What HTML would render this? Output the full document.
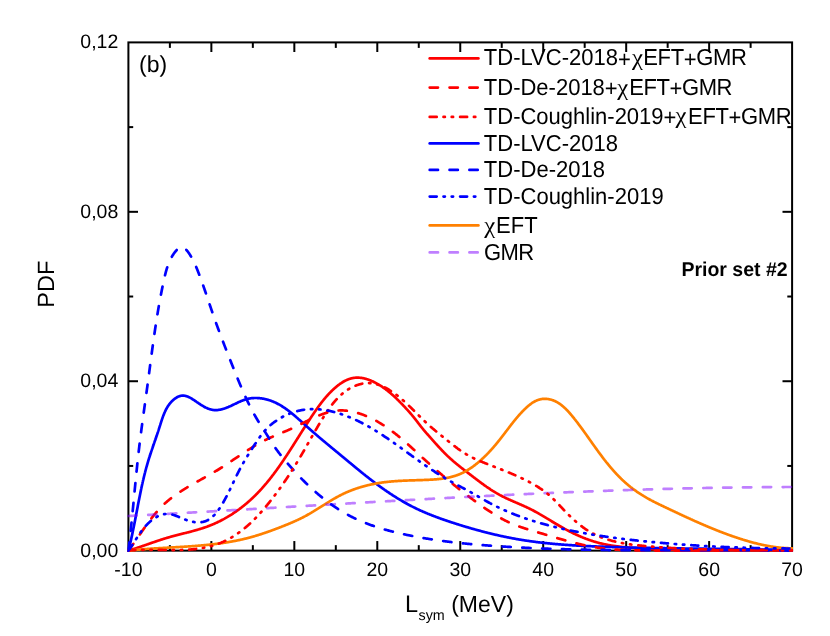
<!DOCTYPE html><html><head><meta charset="utf-8"><title>PDF L_sym</title>
<style>html,body{margin:0;padding:0;background:#fff;}svg{display:block;}text{font-family:"Liberation Sans",sans-serif;fill:#000;text-rendering:geometricPrecision;}.sy{font-family:"Liberation Serif",serif;}</style></head><body>
<svg width="830" height="636" viewBox="0 0 830 636" style="will-change:transform">
<rect width="830" height="636" fill="#fff"/>
<g stroke="#000" stroke-width="2" fill="none" stroke-linecap="butt">
<rect x="128.4" y="42.4" width="663.70" height="508.25"/>
<line x1="169.88" y1="550.65" x2="169.88" y2="545.15"/>
<line x1="169.88" y1="42.4" x2="169.88" y2="47.9"/>
<line x1="211.36" y1="550.65" x2="211.36" y2="541.05"/>
<line x1="211.36" y1="42.4" x2="211.36" y2="52.0"/>
<line x1="252.84" y1="550.65" x2="252.84" y2="545.15"/>
<line x1="252.84" y1="42.4" x2="252.84" y2="47.9"/>
<line x1="294.33" y1="550.65" x2="294.33" y2="541.05"/>
<line x1="294.33" y1="42.4" x2="294.33" y2="52.0"/>
<line x1="335.81" y1="550.65" x2="335.81" y2="545.15"/>
<line x1="335.81" y1="42.4" x2="335.81" y2="47.9"/>
<line x1="377.29" y1="550.65" x2="377.29" y2="541.05"/>
<line x1="377.29" y1="42.4" x2="377.29" y2="52.0"/>
<line x1="418.77" y1="550.65" x2="418.77" y2="545.15"/>
<line x1="418.77" y1="42.4" x2="418.77" y2="47.9"/>
<line x1="460.25" y1="550.65" x2="460.25" y2="541.05"/>
<line x1="460.25" y1="42.4" x2="460.25" y2="52.0"/>
<line x1="501.73" y1="550.65" x2="501.73" y2="545.15"/>
<line x1="501.73" y1="42.4" x2="501.73" y2="47.9"/>
<line x1="543.21" y1="550.65" x2="543.21" y2="541.05"/>
<line x1="543.21" y1="42.4" x2="543.21" y2="52.0"/>
<line x1="584.69" y1="550.65" x2="584.69" y2="545.15"/>
<line x1="584.69" y1="42.4" x2="584.69" y2="47.9"/>
<line x1="626.18" y1="550.65" x2="626.18" y2="541.05"/>
<line x1="626.18" y1="42.4" x2="626.18" y2="52.0"/>
<line x1="667.66" y1="550.65" x2="667.66" y2="545.15"/>
<line x1="667.66" y1="42.4" x2="667.66" y2="47.9"/>
<line x1="709.14" y1="550.65" x2="709.14" y2="541.05"/>
<line x1="709.14" y1="42.4" x2="709.14" y2="52.0"/>
<line x1="750.62" y1="550.65" x2="750.62" y2="545.15"/>
<line x1="750.62" y1="42.4" x2="750.62" y2="47.9"/>
<line x1="128.4" y1="465.94" x2="133.20000000000002" y2="465.94"/>
<line x1="792.1" y1="465.94" x2="787.3000000000001" y2="465.94"/>
<line x1="128.4" y1="381.23" x2="138.0" y2="381.23"/>
<line x1="792.1" y1="381.23" x2="782.5" y2="381.23"/>
<line x1="128.4" y1="296.52" x2="133.20000000000002" y2="296.52"/>
<line x1="792.1" y1="296.52" x2="787.3000000000001" y2="296.52"/>
<line x1="128.4" y1="211.82" x2="138.0" y2="211.82"/>
<line x1="792.1" y1="211.82" x2="782.5" y2="211.82"/>
<line x1="128.4" y1="127.11" x2="133.20000000000002" y2="127.11"/>
<line x1="792.1" y1="127.11" x2="787.3000000000001" y2="127.11"/>
</g>
<clipPath id="pc"><rect x="127.20" y="42.4" width="665.90" height="509.65"/></clipPath>
<g fill="none" stroke-width="2.7" stroke-linejoin="round" stroke-linecap="round" clip-path="url(#pc)">
<path d="M128.40,550.65 L128.88,550.51 L129.35,550.37 L129.83,550.22 L130.31,550.08 L130.78,549.93 L131.26,549.79 L131.73,549.64 L132.21,549.49 L132.68,549.34 L133.15,549.19 L133.63,549.04 L134.10,548.89 L134.57,548.74 L135.04,548.59 L135.52,548.43 L135.99,548.28 L136.46,548.12 L136.93,547.97 L137.40,547.81 L137.87,547.66 L138.34,547.50 L138.81,547.34 L139.27,547.18 L139.74,547.02 L140.21,546.86 L140.68,546.70 L141.15,546.54 L141.61,546.38 L142.08,546.22 L142.55,546.06 L143.02,545.90 L143.48,545.74 L143.95,545.58 L144.42,545.42 L144.88,545.25 L145.35,545.09 L145.81,544.93 L146.28,544.77 L146.75,544.60 L147.21,544.44 L147.68,544.28 L148.14,544.11 L148.61,543.95 L149.07,543.79 L149.54,543.63 L150.01,543.46 L150.47,543.30 L150.94,543.14 L151.40,542.98 L151.87,542.81 L152.33,542.65 L152.80,542.49 L153.27,542.33 L153.73,542.17 L154.20,542.01 L154.67,541.85 L155.13,541.69 L155.60,541.53 L156.07,541.37 L156.53,541.21 L157.00,541.05 L157.47,540.90 L157.93,540.74 L158.40,540.58 L158.87,540.43 L159.34,540.27 L159.81,540.12 L160.27,539.96 L160.74,539.81 L161.21,539.66 L161.68,539.51 L162.15,539.36 L162.62,539.21 L163.09,539.06 L163.56,538.91 L164.04,538.76 L164.51,538.61 L164.98,538.47 L165.45,538.32 L165.92,538.18 L166.40,538.04 L166.87,537.90 L167.35,537.76 L167.82,537.62 L168.30,537.48 L168.77,537.34 L169.25,537.20 L169.72,537.07 L170.20,536.94 L170.68,536.80 L171.16,536.67 L171.63,536.54 L172.11,536.41 L172.59,536.28 L173.07,536.15 L173.55,536.02 L174.03,535.89 L174.51,535.77 L174.99,535.64 L175.47,535.51 L175.95,535.39 L176.43,535.26 L176.91,535.14 L177.39,535.02 L177.87,534.89 L178.36,534.77 L178.84,534.65 L179.32,534.52 L179.80,534.40 L180.28,534.28 L180.77,534.16 L181.25,534.04 L181.73,533.91 L182.21,533.79 L182.70,533.67 L183.18,533.55 L183.66,533.43 L184.14,533.31 L184.63,533.19 L185.11,533.06 L185.59,532.94 L186.07,532.82 L186.56,532.70 L187.04,532.57 L187.52,532.45 L188.00,532.33 L188.49,532.20 L188.97,532.08 L189.45,531.95 L189.93,531.83 L190.41,531.70 L190.89,531.58 L191.37,531.45 L191.85,531.32 L192.33,531.19 L192.81,531.06 L193.29,530.93 L193.77,530.80 L194.25,530.67 L194.73,530.54 L195.21,530.40 L195.69,530.27 L196.17,530.13 L196.64,530.00 L197.12,529.86 L197.60,529.72 L198.07,529.58 L198.55,529.44 L199.02,529.30 L199.50,529.15 L199.97,529.01 L200.45,528.86 L200.92,528.71 L201.39,528.57 L201.87,528.42 L202.34,528.26 L202.81,528.11 L203.28,527.96 L203.75,527.80 L204.22,527.64 L204.69,527.48 L205.16,527.32 L205.62,527.16 L206.09,526.99 L206.56,526.83 L207.02,526.66 L207.49,526.49 L207.95,526.31 L208.41,526.14 L208.88,525.96 L209.34,525.79 L209.80,525.61 L210.26,525.42 L210.72,525.24 L211.18,525.05 L211.63,524.87 L212.09,524.68 L212.55,524.48 L213.00,524.29 L213.46,524.10 L213.91,523.90 L214.36,523.70 L214.82,523.50 L215.27,523.30 L215.72,523.09 L216.17,522.89 L216.62,522.68 L217.06,522.47 L217.51,522.26 L217.96,522.04 L218.40,521.83 L218.85,521.61 L219.29,521.39 L219.74,521.17 L220.18,520.95 L220.62,520.72 L221.06,520.50 L221.50,520.27 L221.94,520.04 L222.38,519.81 L222.81,519.58 L223.25,519.34 L223.68,519.10 L224.12,518.87 L224.55,518.63 L224.98,518.39 L225.42,518.14 L225.85,517.90 L226.28,517.65 L226.70,517.40 L227.13,517.16 L227.56,516.90 L227.99,516.65 L228.41,516.40 L228.83,516.14 L229.26,515.88 L229.68,515.62 L230.10,515.36 L230.52,515.10 L230.94,514.84 L231.36,514.57 L231.78,514.31 L232.19,514.04 L232.61,513.77 L233.02,513.50 L233.44,513.22 L233.85,512.95 L234.26,512.67 L234.67,512.40 L235.08,512.12 L235.49,511.84 L235.89,511.55 L236.30,511.27 L236.71,510.99 L237.11,510.70 L237.51,510.41 L237.92,510.12 L238.32,509.83 L238.72,509.54 L239.12,509.25 L239.51,508.95 L239.91,508.66 L240.31,508.36 L240.70,508.06 L241.09,507.76 L241.49,507.46 L241.88,507.16 L242.27,506.85 L242.66,506.55 L243.05,506.24 L243.43,505.93 L243.82,505.62 L244.20,505.31 L244.59,505.00 L244.97,504.69 L245.35,504.37 L245.73,504.06 L246.11,503.74 L246.49,503.42 L246.87,503.10 L247.24,502.78 L247.62,502.46 L247.99,502.14 L248.36,501.81 L248.73,501.49 L249.10,501.16 L249.47,500.83 L249.84,500.51 L250.21,500.18 L250.57,499.84 L250.94,499.51 L251.30,499.18 L251.66,498.84 L252.02,498.51 L252.38,498.17 L252.74,497.83 L253.10,497.49 L253.45,497.15 L253.81,496.81 L254.16,496.47 L254.51,496.13 L254.86,495.78 L255.21,495.44 L255.56,495.09 L255.91,494.74 L256.26,494.39 L256.60,494.04 L256.95,493.69 L257.29,493.34 L257.63,492.99 L257.97,492.63 L258.31,492.28 L258.65,491.92 L258.99,491.57 L259.33,491.21 L259.66,490.85 L260.00,490.49 L260.33,490.13 L260.66,489.77 L261.00,489.41 L261.33,489.04 L261.66,488.68 L261.98,488.31 L262.31,487.95 L262.64,487.58 L262.96,487.21 L263.29,486.84 L263.61,486.47 L263.94,486.10 L264.26,485.73 L264.58,485.36 L264.90,484.99 L265.22,484.61 L265.54,484.24 L265.86,483.86 L266.17,483.48 L266.49,483.11 L266.80,482.73 L267.12,482.35 L267.43,481.97 L267.74,481.59 L268.05,481.21 L268.36,480.83 L268.67,480.45 L268.98,480.06 L269.29,479.68 L269.60,479.29 L269.91,478.91 L270.21,478.52 L270.52,478.13 L270.82,477.75 L271.12,477.36 L271.43,476.97 L271.73,476.58 L272.03,476.19 L272.33,475.80 L272.63,475.41 L272.93,475.01 L273.23,474.62 L273.53,474.23 L273.82,473.83 L274.12,473.44 L274.41,473.04 L274.71,472.64 L275.00,472.25 L275.30,471.85 L275.59,471.45 L275.88,471.05 L276.17,470.65 L276.47,470.26 L276.76,469.85 L277.05,469.45 L277.33,469.05 L277.62,468.65 L277.91,468.25 L278.20,467.85 L278.49,467.44 L278.77,467.04 L279.06,466.63 L279.34,466.23 L279.63,465.82 L279.91,465.42 L280.20,465.01 L280.48,464.60 L280.76,464.20 L281.04,463.79 L281.32,463.38 L281.61,462.97 L281.89,462.56 L282.17,462.15 L282.45,461.74 L282.73,461.33 L283.00,460.92 L283.28,460.51 L283.56,460.10 L283.84,459.69 L284.11,459.27 L284.39,458.86 L284.67,458.45 L284.94,458.04 L285.22,457.62 L285.49,457.21 L285.77,456.79 L286.04,456.38 L286.32,455.96 L286.59,455.55 L286.86,455.13 L287.14,454.72 L287.41,454.30 L287.68,453.88 L287.95,453.47 L288.22,453.05 L288.50,452.63 L288.77,452.22 L289.04,451.80 L289.31,451.38 L289.58,450.96 L289.85,450.54 L290.12,450.13 L290.39,449.71 L290.66,449.29 L290.93,448.87 L291.19,448.45 L291.46,448.03 L291.73,447.61 L292.00,447.19 L292.27,446.77 L292.53,446.35 L292.80,445.93 L293.07,445.51 L293.34,445.09 L293.60,444.67 L293.87,444.25 L294.14,443.83 L294.40,443.41 L294.67,442.98 L294.94,442.56 L295.20,442.14 L295.47,441.72 L295.74,441.30 L296.00,440.88 L296.27,440.46 L296.53,440.04 L296.80,439.61 L297.07,439.19 L297.33,438.77 L297.60,438.35 L297.86,437.93 L298.13,437.51 L298.39,437.09 L298.66,436.66 L298.92,436.24 L299.19,435.82 L299.46,435.40 L299.72,434.98 L299.99,434.56 L300.25,434.14 L300.52,433.72 L300.78,433.30 L301.05,432.87 L301.32,432.45 L301.58,432.03 L301.85,431.61 L302.11,431.19 L302.38,430.77 L302.65,430.35 L302.91,429.93 L303.18,429.51 L303.45,429.09 L303.71,428.67 L303.98,428.25 L304.25,427.83 L304.52,427.42 L304.78,427.00 L305.05,426.58 L305.32,426.16 L305.59,425.74 L305.86,425.32 L306.12,424.91 L306.39,424.49 L306.66,424.07 L306.93,423.65 L307.20,423.24 L307.47,422.82 L307.74,422.40 L308.01,421.99 L308.28,421.57 L308.55,421.16 L308.82,420.74 L309.09,420.33 L309.36,419.91 L309.64,419.50 L309.91,419.09 L310.18,418.67 L310.45,418.26 L310.73,417.85 L311.00,417.43 L311.27,417.02 L311.55,416.61 L311.82,416.20 L312.10,415.79 L312.37,415.38 L312.65,414.97 L312.93,414.56 L313.20,414.15 L313.48,413.74 L313.76,413.33 L314.03,412.92 L314.31,412.52 L314.59,412.11 L314.87,411.70 L315.15,411.30 L315.43,410.89 L315.71,410.49 L315.99,410.08 L316.28,409.68 L316.56,409.28 L316.84,408.87 L317.13,408.47 L317.41,408.07 L317.70,407.67 L317.99,407.27 L318.27,406.87 L318.56,406.48 L318.85,406.08 L319.14,405.68 L319.43,405.29 L319.73,404.89 L320.02,404.50 L320.32,404.10 L320.61,403.71 L320.91,403.32 L321.21,402.93 L321.51,402.54 L321.81,402.15 L322.11,401.77 L322.42,401.38 L322.72,401.00 L323.03,400.61 L323.34,400.23 L323.64,399.85 L323.96,399.47 L324.27,399.09 L324.58,398.71 L324.90,398.33 L325.22,397.96 L325.53,397.58 L325.85,397.21 L326.18,396.83 L326.50,396.46 L326.83,396.09 L327.15,395.73 L327.48,395.36 L327.81,394.99 L328.15,394.63 L328.48,394.27 L328.82,393.91 L329.16,393.55 L329.50,393.19 L329.84,392.83 L330.19,392.48 L330.54,392.12 L330.88,391.77 L331.24,391.42 L331.59,391.07 L331.95,390.72 L332.30,390.38 L332.66,390.03 L333.03,389.69 L333.39,389.35 L333.76,389.01 L334.13,388.67 L334.50,388.34 L334.88,388.01 L335.26,387.67 L335.64,387.35 L336.02,387.02 L336.40,386.69 L336.79,386.37 L337.18,386.06 L337.57,385.74 L337.97,385.43 L338.36,385.12 L338.76,384.82 L339.16,384.52 L339.57,384.22 L339.97,383.93 L340.38,383.64 L340.79,383.35 L341.21,383.08 L341.62,382.80 L342.04,382.53 L342.46,382.27 L342.89,382.01 L343.31,381.76 L343.74,381.51 L344.17,381.27 L344.60,381.04 L345.04,380.81 L345.47,380.59 L345.91,380.37 L346.35,380.16 L346.80,379.96 L347.24,379.77 L347.69,379.58 L348.14,379.40 L348.59,379.23 L349.05,379.07 L349.51,378.91 L349.97,378.76 L350.43,378.62 L350.89,378.49 L351.36,378.37 L351.83,378.26 L352.30,378.15 L352.77,378.06 L353.25,377.98 L353.72,377.90 L354.20,377.83 L354.68,377.78 L355.17,377.73 L355.65,377.70 L356.14,377.67 L356.63,377.65 L357.12,377.64 L357.61,377.64 L358.10,377.65 L358.59,377.67 L359.08,377.70 L359.58,377.73 L360.07,377.77 L360.57,377.83 L361.06,377.89 L361.55,377.95 L362.05,378.03 L362.54,378.11 L363.03,378.20 L363.52,378.30 L364.01,378.40 L364.50,378.52 L364.99,378.64 L365.47,378.76 L365.96,378.89 L366.44,379.03 L366.92,379.18 L367.40,379.33 L367.87,379.49 L368.35,379.65 L368.82,379.82 L369.29,380.00 L369.76,380.18 L370.22,380.36 L370.69,380.55 L371.15,380.74 L371.61,380.94 L372.07,381.15 L372.52,381.35 L372.98,381.56 L373.43,381.78 L373.88,382.00 L374.33,382.22 L374.77,382.44 L375.22,382.67 L375.66,382.90 L376.10,383.13 L376.53,383.37 L376.97,383.61 L377.40,383.85 L377.83,384.10 L378.26,384.35 L378.69,384.60 L379.11,384.85 L379.54,385.11 L379.96,385.37 L380.38,385.63 L380.79,385.90 L381.21,386.17 L381.62,386.44 L382.04,386.71 L382.45,386.99 L382.85,387.27 L383.26,387.55 L383.67,387.83 L384.07,388.12 L384.47,388.40 L384.87,388.69 L385.27,388.99 L385.67,389.28 L386.06,389.58 L386.45,389.88 L386.85,390.18 L387.24,390.48 L387.62,390.79 L388.01,391.10 L388.40,391.41 L388.78,391.72 L389.16,392.03 L389.55,392.35 L389.93,392.66 L390.30,392.98 L390.68,393.30 L391.06,393.63 L391.43,393.95 L391.80,394.28 L392.18,394.60 L392.55,394.93 L392.92,395.26 L393.28,395.59 L393.65,395.93 L394.02,396.26 L394.38,396.60 L394.75,396.94 L395.11,397.28 L395.47,397.62 L395.83,397.96 L396.19,398.30 L396.55,398.64 L396.90,398.99 L397.26,399.33 L397.61,399.68 L397.97,400.03 L398.32,400.38 L398.67,400.73 L399.02,401.08 L399.37,401.43 L399.72,401.79 L400.07,402.14 L400.42,402.49 L400.76,402.85 L401.11,403.20 L401.46,403.56 L401.80,403.92 L402.14,404.27 L402.49,404.63 L402.83,404.99 L403.17,405.35 L403.51,405.71 L403.85,406.07 L404.19,406.43 L404.53,406.79 L404.87,407.15 L405.21,407.51 L405.54,407.88 L405.88,408.24 L406.21,408.60 L406.55,408.96 L406.88,409.33 L407.22,409.69 L407.55,410.06 L407.88,410.42 L408.21,410.79 L408.54,411.16 L408.87,411.52 L409.19,411.89 L409.52,412.26 L409.84,412.63 L410.17,413.00 L410.49,413.38 L410.81,413.75 L411.13,414.12 L411.45,414.50 L411.77,414.87 L412.09,415.25 L412.40,415.63 L412.72,416.01 L413.03,416.39 L413.34,416.77 L413.65,417.15 L413.96,417.53 L414.26,417.92 L414.57,418.30 L414.87,418.69 L415.18,419.08 L415.48,419.46 L415.78,419.85 L416.08,420.24 L416.38,420.63 L416.68,421.02 L416.98,421.41 L417.28,421.80 L417.58,422.19 L417.88,422.58 L418.18,422.97 L418.48,423.36 L418.78,423.75 L419.08,424.14 L419.38,424.53 L419.68,424.92 L419.98,425.31 L420.29,425.70 L420.59,426.08 L420.89,426.47 L421.20,426.86 L421.51,427.24 L421.82,427.62 L422.13,428.00 L422.44,428.38 L422.75,428.76 L423.06,429.14 L423.38,429.52 L423.69,429.90 L424.01,430.27 L424.33,430.65 L424.65,431.03 L424.97,431.40 L425.29,431.77 L425.61,432.15 L425.93,432.52 L426.26,432.89 L426.58,433.26 L426.90,433.64 L427.23,434.01 L427.55,434.38 L427.88,434.75 L428.21,435.12 L428.53,435.49 L428.86,435.86 L429.19,436.23 L429.51,436.60 L429.84,436.97 L430.17,437.35 L430.50,437.72 L430.83,438.09 L431.15,438.46 L431.48,438.83 L431.81,439.20 L432.14,439.58 L432.47,439.95 L432.80,440.32 L433.13,440.69 L433.46,441.06 L433.79,441.43 L434.12,441.80 L434.45,442.17 L434.78,442.55 L435.11,442.92 L435.45,443.29 L435.78,443.66 L436.11,444.03 L436.45,444.39 L436.78,444.76 L437.12,445.13 L437.45,445.50 L437.79,445.87 L438.12,446.23 L438.46,446.60 L438.80,446.97 L439.13,447.33 L439.47,447.70 L439.81,448.06 L440.15,448.43 L440.49,448.79 L440.83,449.15 L441.17,449.51 L441.52,449.87 L441.86,450.23 L442.20,450.59 L442.55,450.95 L442.89,451.31 L443.24,451.66 L443.58,452.02 L443.93,452.37 L444.28,452.73 L444.63,453.08 L444.98,453.43 L445.33,453.78 L445.68,454.13 L446.03,454.48 L446.39,454.82 L446.74,455.17 L447.10,455.51 L447.45,455.86 L447.81,456.20 L448.17,456.54 L448.53,456.88 L448.89,457.22 L449.25,457.55 L449.61,457.89 L449.97,458.22 L450.34,458.56 L450.70,458.89 L451.07,459.22 L451.44,459.54 L451.80,459.87 L452.17,460.20 L452.54,460.52 L452.91,460.84 L453.29,461.17 L453.66,461.49 L454.03,461.81 L454.41,462.12 L454.78,462.44 L455.16,462.76 L455.54,463.07 L455.91,463.39 L456.29,463.70 L456.67,464.01 L457.05,464.33 L457.43,464.64 L457.82,464.95 L458.20,465.26 L458.58,465.56 L458.96,465.87 L459.35,466.18 L459.73,466.48 L460.12,466.79 L460.50,467.10 L460.89,467.40 L461.27,467.70 L461.66,468.01 L462.05,468.31 L462.44,468.61 L462.83,468.92 L463.21,469.22 L463.60,469.52 L463.99,469.82 L464.38,470.12 L464.77,470.42 L465.16,470.72 L465.55,471.02 L465.95,471.32 L466.34,471.62 L466.73,471.92 L467.12,472.22 L467.51,472.52 L467.90,472.82 L468.30,473.12 L468.69,473.42 L469.08,473.72 L469.47,474.02 L469.86,474.32 L470.26,474.63 L470.65,474.93 L471.04,475.23 L471.43,475.53 L471.83,475.83 L472.22,476.13 L472.61,476.43 L473.01,476.73 L473.40,477.03 L473.79,477.34 L474.19,477.64 L474.58,477.94 L474.98,478.24 L475.37,478.54 L475.76,478.84 L476.16,479.14 L476.55,479.44 L476.95,479.74 L477.35,480.04 L477.74,480.34 L478.14,480.64 L478.53,480.93 L478.93,481.23 L479.33,481.53 L479.73,481.82 L480.13,482.12 L480.52,482.42 L480.92,482.71 L481.32,483.00 L481.72,483.30 L482.12,483.59 L482.52,483.88 L482.93,484.17 L483.33,484.46 L483.73,484.75 L484.13,485.04 L484.54,485.33 L484.94,485.62 L485.35,485.90 L485.75,486.19 L486.16,486.47 L486.56,486.76 L486.97,487.04 L487.38,487.32 L487.79,487.60 L488.20,487.88 L488.61,488.16 L489.02,488.43 L489.43,488.71 L489.84,488.98 L490.26,489.25 L490.67,489.53 L491.09,489.80 L491.50,490.06 L491.92,490.33 L492.33,490.60 L492.75,490.86 L493.17,491.12 L493.59,491.38 L494.01,491.64 L494.43,491.90 L494.86,492.16 L495.28,492.41 L495.70,492.67 L496.13,492.92 L496.56,493.17 L496.98,493.42 L497.41,493.66 L497.84,493.91 L498.27,494.15 L498.70,494.39 L499.14,494.63 L499.57,494.86 L500.00,495.10 L500.44,495.33 L500.88,495.56 L501.31,495.79 L501.75,496.02 L502.19,496.24 L502.63,496.47 L503.08,496.69 L503.52,496.91 L503.96,497.13 L504.41,497.34 L504.85,497.56 L505.30,497.77 L505.75,497.99 L506.19,498.20 L506.64,498.41 L507.09,498.62 L507.54,498.82 L507.99,499.03 L508.44,499.24 L508.89,499.44 L509.34,499.65 L509.80,499.85 L510.25,500.05 L510.70,500.25 L511.15,500.45 L511.61,500.65 L512.06,500.85 L512.52,501.05 L512.97,501.25 L513.43,501.45 L513.88,501.64 L514.34,501.84 L514.79,502.04 L515.25,502.24 L515.70,502.43 L516.16,502.63 L516.62,502.82 L517.07,503.02 L517.53,503.22 L517.98,503.41 L518.44,503.61 L518.89,503.81 L519.35,504.00 L519.80,504.20 L520.26,504.40 L520.71,504.60 L521.17,504.80 L521.62,505.00 L522.08,505.20 L522.53,505.40 L522.98,505.60 L523.44,505.80 L523.89,506.00 L524.34,506.21 L524.79,506.41 L525.24,506.61 L525.69,506.82 L526.14,507.03 L526.59,507.24 L527.04,507.45 L527.49,507.66 L527.93,507.87 L528.38,508.08 L528.82,508.30 L529.27,508.51 L529.71,508.73 L530.15,508.95 L530.60,509.17 L531.04,509.40 L531.48,509.62 L531.92,509.84 L532.36,510.07 L532.79,510.30 L533.23,510.53 L533.67,510.76 L534.10,510.99 L534.54,511.23 L534.97,511.46 L535.40,511.70 L535.84,511.94 L536.27,512.17 L536.70,512.41 L537.13,512.65 L537.56,512.90 L537.99,513.14 L538.42,513.38 L538.85,513.63 L539.28,513.87 L539.70,514.12 L540.13,514.36 L540.56,514.61 L540.99,514.86 L541.41,515.11 L541.84,515.36 L542.26,515.61 L542.69,515.86 L543.11,516.11 L543.54,516.37 L543.96,516.62 L544.39,516.87 L544.81,517.13 L545.23,517.38 L545.66,517.64 L546.08,517.89 L546.50,518.15 L546.93,518.40 L547.35,518.66 L547.77,518.91 L548.19,519.17 L548.62,519.43 L549.04,519.68 L549.46,519.94 L549.89,520.20 L550.31,520.45 L550.73,520.71 L551.15,520.96 L551.58,521.22 L552.00,521.48 L552.42,521.73 L552.85,521.99 L553.27,522.24 L553.70,522.50 L554.12,522.75 L554.54,523.01 L554.97,523.26 L555.39,523.52 L555.82,523.77 L556.24,524.02 L556.67,524.27 L557.10,524.53 L557.52,524.78 L557.95,525.03 L558.38,525.28 L558.81,525.53 L559.23,525.78 L559.66,526.02 L560.09,526.27 L560.52,526.52 L560.95,526.76 L561.39,527.01 L561.82,527.25 L562.25,527.49 L562.68,527.73 L563.12,527.97 L563.55,528.21 L563.98,528.45 L564.42,528.69 L564.85,528.93 L565.29,529.16 L565.73,529.40 L566.16,529.63 L566.60,529.87 L567.04,530.10 L567.48,530.33 L567.92,530.56 L568.36,530.79 L568.80,531.02 L569.24,531.24 L569.68,531.47 L570.12,531.69 L570.56,531.92 L571.00,532.14 L571.45,532.36 L571.89,532.58 L572.34,532.80 L572.78,533.02 L573.23,533.23 L573.67,533.45 L574.12,533.66 L574.57,533.87 L575.02,534.08 L575.46,534.29 L575.91,534.50 L576.36,534.71 L576.81,534.92 L577.26,535.12 L577.71,535.32 L578.16,535.52 L578.62,535.72 L579.07,535.92 L579.52,536.12 L579.98,536.32 L580.43,536.51 L580.89,536.71 L581.34,536.90 L581.80,537.09 L582.25,537.28 L582.71,537.46 L583.17,537.65 L583.63,537.83 L584.08,538.02 L584.54,538.20 L585.00,538.38 L585.46,538.55 L585.92,538.73 L586.39,538.90 L586.85,539.08 L587.31,539.25 L587.77,539.42 L588.24,539.59 L588.70,539.75 L589.17,539.92 L589.63,540.08 L590.10,540.24 L590.56,540.40 L591.03,540.56 L591.50,540.71 L591.97,540.87 L592.43,541.02 L592.90,541.17 L593.37,541.32 L593.84,541.46 L594.31,541.61 L594.79,541.75 L595.26,541.89 L595.73,542.03 L596.20,542.17 L596.68,542.30 L597.15,542.44 L597.63,542.57 L598.10,542.70 L598.58,542.83 L599.05,542.95 L599.53,543.07 L600.01,543.20 L600.49,543.31 L600.97,543.43 L601.44,543.55 L601.92,543.66 L602.40,543.77 L602.89,543.88 L603.37,543.99 L603.85,544.09 L604.33,544.20 L604.81,544.30 L605.30,544.40 L605.78,544.50 L606.27,544.60 L606.75,544.69 L607.23,544.78 L607.72,544.88 L608.21,544.97 L608.69,545.05 L609.18,545.14 L609.67,545.23 L610.15,545.31 L610.64,545.39 L611.13,545.47 L611.62,545.55 L612.11,545.63 L612.60,545.71 L613.09,545.78 L613.58,545.86 L614.07,545.93 L614.56,546.00 L615.05,546.07 L615.54,546.14 L616.03,546.21 L616.52,546.27 L617.01,546.34 L617.50,546.40 L618.00,546.46 L618.49,546.53 L618.98,546.59 L619.47,546.65 L619.97,546.71 L620.46,546.76 L620.95,546.82 L621.45,546.88 L621.94,546.93 L622.43,546.99 L622.93,547.04 L623.42,547.09 L623.92,547.14 L624.41,547.19 L624.91,547.24 L625.40,547.29 L625.89,547.34 L626.39,547.39 L626.88,547.44 L627.38,547.48 L627.87,547.53 L628.37,547.57 L628.86,547.62 L629.36,547.66 L629.85,547.71 L630.35,547.75 L630.84,547.79 L631.34,547.84 L631.83,547.88 L632.33,547.92 L632.82,547.96 L633.32,548.00 L633.81,548.04 L634.31,548.08 L634.80,548.12 L635.30,548.16 L635.79,548.20 L636.28,548.24 L636.78,548.28 L637.27,548.31 L637.77,548.35 L638.26,548.39 L638.76,548.42 L639.25,548.46 L639.75,548.49 L640.24,548.53 L640.74,548.56 L641.23,548.60 L641.73,548.63 L642.22,548.66 L642.71,548.70 L643.21,548.73 L643.70,548.76 L644.20,548.79 L644.69,548.82 L645.19,548.85 L645.68,548.88 L646.18,548.91 L646.67,548.94 L647.17,548.97 L647.66,549.00 L648.15,549.03 L648.65,549.06 L649.14,549.09 L649.64,549.11 L650.13,549.14 L650.63,549.17 L651.12,549.19 L651.62,549.22 L652.11,549.24 L652.60,549.27 L653.10,549.29 L653.59,549.32 L654.09,549.34 L654.58,549.37 L655.08,549.39 L655.57,549.41 L656.07,549.44 L656.56,549.46 L657.05,549.48 L657.55,549.50 L658.04,549.52 L658.54,549.54 L659.03,549.56 L659.53,549.59 L660.02,549.61 L660.51,549.62 L661.01,549.64 L661.50,549.66 L662.00,549.68 L662.49,549.70 L662.99,549.72 L663.48,549.74 L663.98,549.75 L664.47,549.77 L664.96,549.79 L665.46,549.80 L665.95,549.82 L666.45,549.84 L666.94,549.85 L667.43,549.87 L667.93,549.88 L668.42,549.90 L668.92,549.91 L669.41,549.93 L669.91,549.94 L670.40,549.95 L670.89,549.97 L671.39,549.98 L671.88,549.99 L672.38,550.01 L672.87,550.02 L673.37,550.03 L673.86,550.04 L674.35,550.05 L674.85,550.06 L675.34,550.08 L675.84,550.09 L676.33,550.10 L676.83,550.11 L677.32,550.12 L677.81,550.13 L678.31,550.14 L678.80,550.15 L679.30,550.16 L679.79,550.16 L680.28,550.17 L680.78,550.18 L681.27,550.19 L681.77,550.20 L682.26,550.20 L682.76,550.21 L683.25,550.22 L683.74,550.23 L684.24,550.23 L684.73,550.24 L685.23,550.25 L685.72,550.25 L686.22,550.26 L686.71,550.26 L687.20,550.27 L687.70,550.27 L688.19,550.28 L688.69,550.28 L689.18,550.29 L689.67,550.29 L690.17,550.30 L690.66,550.30 L691.16,550.31 L691.65,550.31 L692.15,550.31 L692.64,550.32 L693.13,550.32 L693.63,550.32 L694.12,550.33 L694.62,550.33 L695.11,550.33 L695.60,550.33 L696.10,550.34 L696.59,550.34 L697.09,550.34 L697.58,550.34 L698.08,550.34 L698.57,550.34 L699.06,550.35 L699.56,550.35 L700.05,550.35 L700.55,550.35 L701.04,550.35 L701.53,550.35 L702.03,550.35 L702.52,550.35 L703.02,550.35 L703.51,550.35 L704.01,550.35 L704.50,550.35 L704.99,550.35 L705.49,550.35 L705.98,550.35 L706.48,550.35 L706.97,550.35 L707.47,550.35 L707.96,550.34 L708.45,550.34 L708.95,550.34 L709.44,550.34 L709.94,550.34 L710.43,550.34 L710.93,550.34 L711.42,550.33 L711.91,550.33 L712.41,550.33 L712.90,550.33 L713.40,550.33 L713.89,550.32 L714.39,550.32 L714.88,550.32 L715.37,550.32 L715.87,550.31 L716.36,550.31 L716.86,550.31 L717.35,550.31 L717.85,550.30 L718.34,550.30 L718.83,550.30 L719.33,550.29 L719.82,550.29 L720.32,550.29 L720.81,550.28 L721.31,550.28 L721.80,550.28 L722.29,550.28 L722.79,550.27 L723.28,550.27 L723.78,550.26 L724.27,550.26 L724.77,550.26 L725.26,550.25 L725.76,550.25 L726.25,550.25 L726.74,550.24 L727.24,550.24 L727.73,550.24 L728.23,550.23 L728.72,550.23 L729.22,550.23 L729.71,550.22 L730.21,550.22 L730.70,550.21 L731.19,550.21 L731.69,550.21 L732.18,550.20 L732.68,550.20 L733.17,550.19 L733.67,550.19 L734.16,550.19 L734.66,550.18 L735.15,550.18 L735.64,550.18 L736.14,550.17 L736.63,550.17 L737.13,550.16 L737.62,550.16 L738.12,550.16 L738.61,550.15 L739.11,550.15 L739.60,550.15 L740.10,550.14 L740.59,550.14 L741.09,550.14 L741.58,550.13 L742.08,550.13 L742.57,550.13 L743.06,550.12 L743.56,550.12 L744.05,550.12 L744.55,550.11 L745.04,550.11 L745.54,550.11 L746.03,550.10 L746.53,550.10 L747.02,550.10 L747.52,550.10 L748.01,550.09 L748.51,550.09 L749.00,550.09 L749.50,550.09 L749.99,550.08 L750.49,550.08 L750.98,550.08 L751.48,550.08 L751.97,550.07 L752.47,550.07 L752.96,550.07 L753.46,550.07 L753.95,550.07 L754.45,550.07 L754.94,550.06 L755.43,550.06 L755.93,550.06 L756.42,550.06 L756.92,550.06 L757.41,550.06 L757.91,550.06 L758.40,550.06 L758.90,550.06 L759.40,550.06 L759.89,550.06 L760.39,550.06 L760.88,550.06 L761.38,550.06 L761.87,550.06 L762.37,550.06 L762.86,550.06 L763.36,550.06 L763.85,550.06 L764.35,550.06 L764.84,550.06 L765.34,550.06 L765.83,550.06 L766.33,550.06 L766.82,550.06 L767.32,550.07 L767.81,550.07 L768.31,550.07 L768.80,550.07 L769.30,550.07 L769.79,550.08 L770.29,550.08 L770.78,550.08 L771.28,550.09 L771.78,550.09 L772.27,550.09 L772.77,550.10 L773.26,550.10 L773.76,550.10 L774.25,550.11 L774.75,550.11 L775.24,550.12 L775.74,550.12 L776.23,550.13 L776.73,550.13 L777.23,550.14 L777.72,550.14 L778.22,550.15 L778.71,550.15 L779.21,550.16 L779.70,550.17 L780.20,550.17 L780.70,550.18 L781.19,550.19 L781.69,550.19 L782.18,550.20 L782.68,550.21 L783.17,550.22 L783.67,550.23 L784.17,550.23 L784.66,550.24 L785.16,550.25 L785.65,550.26 L786.15,550.27 L786.64,550.28 L787.14,550.29 L787.64,550.30 L788.13,550.31 L788.63,550.32 L789.12,550.33 L789.62,550.34 L790.12,550.35 L790.61,550.36 L791.11,550.38 L791.60,550.39 L792.10,550.40" stroke="#FF0000" />
<path d="M128.40,550.65 L128.53,550.15 L128.65,549.66 L128.78,549.16 L128.90,548.66 L129.03,548.17 L129.15,547.67 L129.28,547.17 L129.40,546.67 L129.52,546.18 L129.64,545.68 L129.76,545.18 L129.88,544.68 L130.00,544.18 L130.12,543.68 L130.23,543.18 L130.35,542.68 L130.47,542.18 L130.58,541.68 L130.70,541.17 L130.81,540.67 L130.93,540.17 L131.04,539.67 L131.15,539.17 L131.27,538.66 L131.38,538.16 L131.49,537.66 L131.60,537.15 L131.71,536.65 L131.82,536.14 L131.93,535.64 L132.04,535.14 L132.15,534.63 L132.25,534.13 L132.36,533.62 L132.47,533.11 L132.57,532.61 L132.68,532.10 L132.79,531.60 L132.89,531.09 L133.00,530.58 L133.10,530.08 L133.20,529.57 L133.31,529.06 L133.41,528.56 L133.51,528.05 L133.62,527.54 L133.72,527.03 L133.82,526.53 L133.92,526.02 L134.03,525.51 L134.13,525.00 L134.23,524.49 L134.33,523.98 L134.43,523.48 L134.53,522.97 L134.63,522.46 L134.73,521.95 L134.83,521.44 L134.93,520.93 L135.03,520.42 L135.13,519.91 L135.23,519.40 L135.32,518.89 L135.42,518.38 L135.52,517.87 L135.62,517.36 L135.72,516.85 L135.82,516.34 L135.91,515.83 L136.01,515.32 L136.11,514.81 L136.21,514.30 L136.30,513.79 L136.40,513.28 L136.50,512.77 L136.60,512.26 L136.70,511.75 L136.79,511.24 L136.89,510.73 L136.99,510.22 L137.09,509.71 L137.18,509.20 L137.28,508.69 L137.38,508.18 L137.48,507.67 L137.57,507.16 L137.67,506.65 L137.77,506.14 L137.87,505.62 L137.97,505.11 L138.07,504.60 L138.16,504.09 L138.26,503.58 L138.36,503.07 L138.46,502.56 L138.56,502.05 L138.66,501.54 L138.76,501.03 L138.86,500.52 L138.96,500.01 L139.06,499.50 L139.16,498.99 L139.26,498.48 L139.36,497.98 L139.46,497.47 L139.57,496.96 L139.67,496.45 L139.77,495.94 L139.87,495.43 L139.97,494.92 L140.08,494.41 L140.18,493.90 L140.28,493.40 L140.39,492.89 L140.49,492.38 L140.60,491.87 L140.70,491.36 L140.81,490.86 L140.92,490.35 L141.02,489.84 L141.13,489.33 L141.24,488.83 L141.34,488.32 L141.45,487.81 L141.56,487.31 L141.67,486.80 L141.78,486.30 L141.89,485.79 L142.00,485.28 L142.11,484.78 L142.22,484.27 L142.34,483.77 L142.45,483.26 L142.56,482.76 L142.68,482.25 L142.79,481.75 L142.91,481.25 L143.02,480.74 L143.14,480.24 L143.26,479.74 L143.37,479.23 L143.49,478.73 L143.61,478.23 L143.73,477.73 L143.85,477.23 L143.97,476.73 L144.09,476.22 L144.22,475.72 L144.34,475.22 L144.46,474.72 L144.59,474.22 L144.71,473.72 L144.84,473.22 L144.97,472.73 L145.09,472.23 L145.22,471.73 L145.35,471.23 L145.48,470.73 L145.61,470.24 L145.74,469.74 L145.88,469.24 L146.01,468.75 L146.14,468.25 L146.28,467.75 L146.41,467.26 L146.55,466.76 L146.69,466.27 L146.83,465.78 L146.97,465.28 L147.11,464.79 L147.25,464.30 L147.39,463.80 L147.53,463.31 L147.68,462.82 L147.82,462.33 L147.97,461.84 L148.12,461.35 L148.26,460.86 L148.41,460.37 L148.56,459.88 L148.71,459.39 L148.87,458.90 L149.02,458.41 L149.17,457.93 L149.33,457.44 L149.48,456.95 L149.64,456.47 L149.79,455.98 L149.95,455.49 L150.11,455.01 L150.27,454.52 L150.43,454.03 L150.59,453.55 L150.75,453.06 L150.91,452.58 L151.07,452.09 L151.23,451.61 L151.39,451.12 L151.56,450.64 L151.72,450.15 L151.89,449.67 L152.05,449.18 L152.22,448.70 L152.38,448.21 L152.55,447.73 L152.71,447.24 L152.88,446.76 L153.05,446.27 L153.21,445.79 L153.38,445.30 L153.55,444.82 L153.71,444.33 L153.88,443.85 L154.05,443.36 L154.22,442.87 L154.39,442.39 L154.55,441.90 L154.72,441.42 L154.89,440.93 L155.06,440.44 L155.23,439.95 L155.40,439.47 L155.56,438.98 L155.73,438.49 L155.90,438.00 L156.07,437.51 L156.24,437.02 L156.40,436.53 L156.57,436.04 L156.74,435.55 L156.90,435.06 L157.07,434.57 L157.24,434.08 L157.40,433.59 L157.57,433.09 L157.73,432.60 L157.90,432.11 L158.06,431.61 L158.23,431.12 L158.39,430.62 L158.55,430.12 L158.72,429.63 L158.88,429.13 L159.04,428.63 L159.20,428.13 L159.36,427.63 L159.52,427.13 L159.68,426.63 L159.84,426.13 L160.00,425.63 L160.16,425.13 L160.31,424.62 L160.47,424.12 L160.63,423.62 L160.79,423.11 L160.95,422.61 L161.11,422.11 L161.27,421.60 L161.43,421.10 L161.59,420.60 L161.76,420.10 L161.92,419.60 L162.09,419.10 L162.26,418.60 L162.43,418.10 L162.60,417.60 L162.78,417.11 L162.96,416.61 L163.14,416.12 L163.32,415.63 L163.51,415.14 L163.70,414.65 L163.90,414.16 L164.10,413.68 L164.30,413.20 L164.50,412.72 L164.71,412.24 L164.93,411.77 L165.14,411.29 L165.37,410.82 L165.59,410.36 L165.83,409.89 L166.07,409.43 L166.31,408.97 L166.56,408.52 L166.81,408.07 L167.07,407.62 L167.34,407.17 L167.61,406.73 L167.89,406.29 L168.17,405.86 L168.46,405.43 L168.76,405.00 L169.07,404.58 L169.38,404.17 L169.70,403.75 L170.03,403.34 L170.36,402.94 L170.70,402.54 L171.05,402.15 L171.41,401.76 L171.77,401.38 L172.15,401.00 L172.52,400.64 L172.91,400.28 L173.30,399.93 L173.69,399.59 L174.09,399.26 L174.50,398.93 L174.91,398.63 L175.33,398.33 L175.75,398.04 L176.18,397.77 L176.61,397.51 L177.04,397.27 L177.48,397.04 L177.92,396.82 L178.36,396.62 L178.81,396.44 L179.26,396.27 L179.71,396.12 L180.17,395.99 L180.62,395.88 L181.08,395.78 L181.54,395.71 L182.00,395.66 L182.46,395.62 L182.93,395.61 L183.39,395.62 L183.85,395.65 L184.32,395.71 L184.78,395.78 L185.24,395.87 L185.71,395.98 L186.17,396.10 L186.64,396.25 L187.11,396.40 L187.57,396.58 L188.04,396.76 L188.50,396.97 L188.97,397.18 L189.43,397.41 L189.90,397.64 L190.37,397.89 L190.83,398.15 L191.30,398.42 L191.76,398.69 L192.23,398.98 L192.69,399.27 L193.15,399.56 L193.62,399.86 L194.08,400.17 L194.54,400.48 L195.00,400.79 L195.47,401.11 L195.93,401.42 L196.39,401.74 L196.84,402.06 L197.30,402.37 L197.76,402.69 L198.22,403.00 L198.67,403.31 L199.13,403.62 L199.58,403.92 L200.03,404.22 L200.49,404.52 L200.94,404.81 L201.39,405.10 L201.84,405.38 L202.30,405.66 L202.75,405.93 L203.20,406.19 L203.65,406.45 L204.11,406.71 L204.56,406.95 L205.01,407.19 L205.47,407.43 L205.92,407.65 L206.38,407.87 L206.84,408.08 L207.30,408.28 L207.76,408.47 L208.22,408.65 L208.68,408.83 L209.15,408.99 L209.61,409.15 L210.08,409.29 L210.55,409.42 L211.02,409.55 L211.49,409.66 L211.97,409.76 L212.45,409.85 L212.93,409.92 L213.41,409.99 L213.90,410.04 L214.39,410.08 L214.88,410.11 L215.37,410.12 L215.87,410.12 L216.37,410.11 L216.87,410.08 L217.37,410.05 L217.88,410.00 L218.38,409.94 L218.89,409.87 L219.40,409.79 L219.91,409.70 L220.41,409.60 L220.92,409.49 L221.43,409.37 L221.94,409.25 L222.44,409.11 L222.95,408.97 L223.45,408.82 L223.95,408.67 L224.45,408.50 L224.94,408.34 L225.44,408.16 L225.93,407.98 L226.42,407.80 L226.91,407.61 L227.40,407.41 L227.88,407.21 L228.37,407.01 L228.85,406.80 L229.33,406.59 L229.81,406.38 L230.29,406.16 L230.77,405.94 L231.25,405.72 L231.72,405.49 L232.20,405.27 L232.68,405.04 L233.15,404.81 L233.63,404.58 L234.10,404.35 L234.57,404.13 L235.05,403.90 L235.52,403.67 L236.00,403.44 L236.47,403.21 L236.94,402.98 L237.42,402.76 L237.89,402.53 L238.37,402.31 L238.84,402.10 L239.32,401.88 L239.80,401.67 L240.27,401.46 L240.75,401.25 L241.23,401.05 L241.71,400.85 L242.20,400.66 L242.68,400.47 L243.16,400.29 L243.65,400.11 L244.14,399.94 L244.63,399.77 L245.12,399.61 L245.61,399.46 L246.11,399.31 L246.60,399.17 L247.10,399.04 L247.60,398.91 L248.11,398.80 L248.61,398.69 L249.12,398.59 L249.63,398.50 L250.14,398.41 L250.66,398.34 L251.17,398.27 L251.69,398.21 L252.21,398.16 L252.73,398.11 L253.25,398.07 L253.77,398.04 L254.29,398.02 L254.81,398.01 L255.34,398.00 L255.86,398.00 L256.39,398.00 L256.91,398.02 L257.43,398.03 L257.96,398.06 L258.48,398.09 L259.00,398.13 L259.53,398.18 L260.05,398.23 L260.57,398.29 L261.09,398.36 L261.61,398.43 L262.12,398.50 L262.64,398.59 L263.15,398.67 L263.67,398.77 L264.18,398.87 L264.69,398.98 L265.19,399.09 L265.70,399.20 L266.20,399.33 L266.70,399.45 L267.20,399.59 L267.69,399.73 L268.18,399.87 L268.67,400.02 L269.16,400.17 L269.65,400.33 L270.13,400.49 L270.61,400.66 L271.09,400.83 L271.56,401.01 L272.04,401.19 L272.51,401.38 L272.98,401.57 L273.45,401.76 L273.91,401.96 L274.38,402.17 L274.84,402.38 L275.30,402.59 L275.75,402.80 L276.21,403.02 L276.66,403.25 L277.11,403.48 L277.56,403.71 L278.01,403.95 L278.46,404.19 L278.90,404.43 L279.34,404.68 L279.79,404.93 L280.22,405.18 L280.66,405.44 L281.10,405.70 L281.53,405.96 L281.97,406.23 L282.40,406.50 L282.83,406.78 L283.25,407.05 L283.68,407.33 L284.11,407.62 L284.53,407.90 L284.95,408.19 L285.37,408.48 L285.79,408.77 L286.21,409.07 L286.63,409.37 L287.05,409.67 L287.46,409.98 L287.87,410.28 L288.29,410.59 L288.70,410.90 L289.11,411.22 L289.52,411.53 L289.92,411.85 L290.33,412.17 L290.74,412.49 L291.14,412.81 L291.55,413.14 L291.95,413.46 L292.35,413.79 L292.75,414.12 L293.15,414.45 L293.55,414.79 L293.95,415.12 L294.35,415.46 L294.75,415.79 L295.15,416.13 L295.54,416.47 L295.94,416.81 L296.33,417.16 L296.73,417.50 L297.12,417.84 L297.52,418.19 L297.91,418.53 L298.30,418.88 L298.69,419.23 L299.09,419.57 L299.48,419.92 L299.87,420.27 L300.26,420.62 L300.65,420.97 L301.04,421.32 L301.43,421.67 L301.82,422.02 L302.21,422.37 L302.60,422.72 L302.99,423.07 L303.38,423.42 L303.77,423.77 L304.16,424.12 L304.54,424.47 L304.93,424.82 L305.32,425.17 L305.71,425.52 L306.10,425.87 L306.49,426.22 L306.88,426.57 L307.27,426.91 L307.66,427.26 L308.05,427.61 L308.44,427.95 L308.83,428.30 L309.22,428.64 L309.61,428.98 L310.00,429.33 L310.39,429.67 L310.78,430.01 L311.17,430.36 L311.57,430.70 L311.96,431.04 L312.35,431.38 L312.74,431.72 L313.13,432.06 L313.52,432.40 L313.91,432.74 L314.31,433.08 L314.70,433.41 L315.09,433.75 L315.48,434.09 L315.88,434.43 L316.27,434.76 L316.66,435.10 L317.05,435.44 L317.45,435.77 L317.84,436.11 L318.23,436.44 L318.62,436.78 L319.02,437.11 L319.41,437.44 L319.80,437.78 L320.20,438.11 L320.59,438.44 L320.98,438.78 L321.38,439.11 L321.77,439.44 L322.17,439.77 L322.56,440.10 L322.95,440.44 L323.35,440.77 L323.74,441.10 L324.14,441.43 L324.53,441.76 L324.92,442.09 L325.32,442.42 L325.71,442.75 L326.11,443.08 L326.50,443.41 L326.90,443.74 L327.29,444.07 L327.69,444.39 L328.08,444.72 L328.48,445.05 L328.87,445.38 L329.27,445.71 L329.66,446.04 L330.06,446.37 L330.45,446.69 L330.85,447.02 L331.24,447.35 L331.64,447.68 L332.03,448.00 L332.43,448.33 L332.82,448.66 L333.22,448.99 L333.62,449.31 L334.01,449.64 L334.41,449.97 L334.80,450.29 L335.20,450.62 L335.59,450.95 L335.99,451.28 L336.39,451.60 L336.78,451.93 L337.18,452.26 L337.57,452.58 L337.97,452.91 L338.37,453.24 L338.76,453.56 L339.16,453.89 L339.55,454.22 L339.95,454.55 L340.35,454.87 L340.74,455.20 L341.14,455.53 L341.54,455.86 L341.93,456.18 L342.33,456.51 L342.73,456.84 L343.12,457.17 L343.52,457.49 L343.91,457.82 L344.31,458.15 L344.71,458.48 L345.10,458.81 L345.50,459.14 L345.90,459.46 L346.29,459.79 L346.69,460.12 L347.09,460.45 L347.48,460.78 L347.88,461.11 L348.28,461.44 L348.67,461.77 L349.07,462.10 L349.47,462.43 L349.87,462.75 L350.26,463.08 L350.66,463.41 L351.06,463.74 L351.46,464.07 L351.85,464.40 L352.25,464.73 L352.65,465.06 L353.05,465.39 L353.45,465.71 L353.84,466.04 L354.24,466.37 L354.64,466.70 L355.04,467.03 L355.44,467.36 L355.84,467.69 L356.24,468.01 L356.64,468.34 L357.04,468.67 L357.44,469.00 L357.84,469.32 L358.24,469.65 L358.64,469.98 L359.04,470.30 L359.44,470.63 L359.84,470.96 L360.24,471.28 L360.65,471.61 L361.05,471.93 L361.45,472.26 L361.85,472.59 L362.26,472.91 L362.66,473.23 L363.06,473.56 L363.47,473.88 L363.87,474.21 L364.28,474.53 L364.68,474.85 L365.09,475.17 L365.49,475.50 L365.90,475.82 L366.30,476.14 L366.71,476.46 L367.12,476.78 L367.52,477.10 L367.93,477.42 L368.34,477.74 L368.75,478.06 L369.15,478.38 L369.56,478.70 L369.97,479.02 L370.38,479.33 L370.79,479.65 L371.20,479.97 L371.61,480.28 L372.03,480.60 L372.44,480.91 L372.85,481.23 L373.26,481.54 L373.68,481.86 L374.09,482.17 L374.50,482.48 L374.92,482.79 L375.33,483.10 L375.75,483.41 L376.16,483.72 L376.58,484.03 L377.00,484.34 L377.41,484.65 L377.83,484.96 L378.25,485.26 L378.67,485.57 L379.09,485.88 L379.51,486.18 L379.93,486.49 L380.35,486.79 L380.77,487.09 L381.19,487.40 L381.61,487.70 L382.03,488.00 L382.46,488.30 L382.88,488.60 L383.30,488.90 L383.73,489.20 L384.15,489.49 L384.58,489.79 L385.00,490.09 L385.43,490.38 L385.86,490.68 L386.28,490.97 L386.71,491.26 L387.14,491.55 L387.57,491.85 L388.00,492.14 L388.43,492.43 L388.86,492.72 L389.29,493.00 L389.72,493.29 L390.15,493.58 L390.58,493.86 L391.01,494.15 L391.45,494.43 L391.88,494.71 L392.32,495.00 L392.75,495.28 L393.19,495.56 L393.62,495.84 L394.06,496.12 L394.49,496.39 L394.93,496.67 L395.37,496.95 L395.81,497.22 L396.25,497.49 L396.69,497.77 L397.13,498.04 L397.57,498.31 L398.01,498.58 L398.45,498.85 L398.89,499.12 L399.33,499.38 L399.78,499.65 L400.22,499.91 L400.66,500.18 L401.11,500.44 L401.56,500.70 L402.00,500.96 L402.45,501.22 L402.89,501.48 L403.34,501.74 L403.79,501.99 L404.24,502.25 L404.69,502.50 L405.14,502.76 L405.59,503.01 L406.04,503.26 L406.49,503.51 L406.94,503.76 L407.39,504.01 L407.85,504.25 L408.30,504.50 L408.76,504.74 L409.21,504.98 L409.67,505.22 L410.12,505.46 L410.58,505.70 L411.04,505.94 L411.49,506.18 L411.95,506.41 L412.41,506.65 L412.87,506.88 L413.33,507.11 L413.79,507.34 L414.25,507.57 L414.71,507.80 L415.18,508.03 L415.64,508.25 L416.10,508.47 L416.57,508.70 L417.03,508.92 L417.50,509.14 L417.96,509.36 L418.43,509.58 L418.90,509.79 L419.36,510.01 L419.83,510.22 L420.30,510.44 L420.77,510.65 L421.24,510.86 L421.71,511.07 L422.18,511.28 L422.65,511.49 L423.12,511.69 L423.59,511.90 L424.06,512.10 L424.54,512.31 L425.01,512.51 L425.48,512.71 L425.96,512.91 L426.43,513.11 L426.91,513.31 L427.38,513.51 L427.86,513.70 L428.34,513.90 L428.81,514.09 L429.29,514.29 L429.77,514.48 L430.25,514.67 L430.73,514.86 L431.20,515.05 L431.68,515.24 L432.16,515.43 L432.64,515.62 L433.12,515.80 L433.61,515.99 L434.09,516.17 L434.57,516.36 L435.05,516.54 L435.53,516.72 L436.02,516.90 L436.50,517.08 L436.98,517.26 L437.47,517.44 L437.95,517.62 L438.44,517.80 L438.92,517.98 L439.41,518.15 L439.89,518.33 L440.38,518.50 L440.86,518.68 L441.35,518.85 L441.84,519.02 L442.32,519.19 L442.81,519.36 L443.30,519.54 L443.78,519.71 L444.27,519.87 L444.76,520.04 L445.25,520.21 L445.74,520.38 L446.23,520.55 L446.72,520.71 L447.21,520.88 L447.70,521.04 L448.19,521.21 L448.68,521.37 L449.17,521.54 L449.66,521.70 L450.15,521.86 L450.64,522.02 L451.13,522.19 L451.62,522.35 L452.11,522.51 L452.60,522.67 L453.10,522.83 L453.59,522.99 L454.08,523.15 L454.57,523.30 L455.06,523.46 L455.56,523.62 L456.05,523.78 L456.54,523.94 L457.04,524.09 L457.53,524.25 L458.02,524.40 L458.52,524.56 L459.01,524.71 L459.50,524.87 L460.00,525.02 L460.49,525.18 L460.99,525.33 L461.48,525.48 L461.98,525.63 L462.47,525.79 L462.97,525.94 L463.46,526.09 L463.96,526.24 L464.45,526.39 L464.95,526.54 L465.44,526.69 L465.94,526.83 L466.43,526.98 L466.93,527.13 L467.43,527.28 L467.92,527.42 L468.42,527.57 L468.92,527.72 L469.41,527.86 L469.91,528.01 L470.41,528.15 L470.90,528.29 L471.40,528.44 L471.90,528.58 L472.40,528.72 L472.90,528.86 L473.39,529.01 L473.89,529.15 L474.39,529.29 L474.89,529.43 L475.39,529.57 L475.89,529.71 L476.38,529.84 L476.88,529.98 L477.38,530.12 L477.88,530.26 L478.38,530.39 L478.88,530.53 L479.38,530.66 L479.88,530.80 L480.38,530.93 L480.88,531.07 L481.38,531.20 L481.88,531.33 L482.38,531.46 L482.88,531.59 L483.38,531.73 L483.88,531.86 L484.38,531.99 L484.88,532.12 L485.39,532.24 L485.89,532.37 L486.39,532.50 L486.89,532.63 L487.39,532.75 L487.89,532.88 L488.40,533.00 L488.90,533.13 L489.40,533.25 L489.90,533.38 L490.40,533.50 L490.91,533.62 L491.41,533.75 L491.91,533.87 L492.42,533.99 L492.92,534.11 L493.42,534.23 L493.93,534.35 L494.43,534.46 L494.93,534.58 L495.44,534.70 L495.94,534.82 L496.44,534.93 L496.95,535.05 L497.45,535.16 L497.96,535.28 L498.46,535.39 L498.97,535.50 L499.47,535.62 L499.98,535.73 L500.48,535.84 L500.99,535.95 L501.49,536.06 L502.00,536.17 L502.50,536.28 L503.01,536.38 L503.51,536.49 L504.02,536.60 L504.52,536.71 L505.03,536.81 L505.54,536.92 L506.04,537.02 L506.55,537.12 L507.05,537.23 L507.56,537.33 L508.07,537.43 L508.57,537.53 L509.08,537.63 L509.59,537.73 L510.09,537.83 L510.60,537.93 L511.11,538.03 L511.62,538.12 L512.12,538.22 L512.63,538.31 L513.14,538.41 L513.65,538.50 L514.15,538.60 L514.66,538.69 L515.17,538.78 L515.68,538.87 L516.19,538.96 L516.69,539.05 L517.20,539.14 L517.71,539.23 L518.22,539.32 L518.73,539.41 L519.24,539.49 L519.75,539.58 L520.26,539.66 L520.77,539.75 L521.27,539.83 L521.78,539.92 L522.29,540.00 L522.80,540.08 L523.31,540.16 L523.82,540.24 L524.33,540.32 L524.84,540.40 L525.35,540.48 L525.86,540.56 L526.37,540.63 L526.88,540.71 L527.39,540.78 L527.90,540.86 L528.41,540.93 L528.92,541.01 L529.43,541.08 L529.95,541.15 L530.46,541.22 L530.97,541.29 L531.48,541.37 L531.99,541.44 L532.50,541.50 L533.01,541.57 L533.52,541.64 L534.03,541.71 L534.55,541.77 L535.06,541.84 L535.57,541.91 L536.08,541.97 L536.59,542.04 L537.10,542.10 L537.62,542.16 L538.13,542.23 L538.64,542.29 L539.15,542.35 L539.67,542.41 L540.18,542.47 L540.69,542.53 L541.20,542.59 L541.72,542.65 L542.23,542.70 L542.74,542.76 L543.25,542.82 L543.77,542.88 L544.28,542.93 L544.79,542.99 L545.31,543.04 L545.82,543.10 L546.33,543.15 L546.84,543.20 L547.36,543.26 L547.87,543.31 L548.39,543.36 L548.90,543.41 L549.41,543.46 L549.93,543.51 L550.44,543.56 L550.95,543.61 L551.47,543.66 L551.98,543.71 L552.49,543.76 L553.01,543.80 L553.52,543.85 L554.04,543.90 L554.55,543.94 L555.07,543.99 L555.58,544.03 L556.09,544.08 L556.61,544.12 L557.12,544.16 L557.64,544.21 L558.15,544.25 L558.67,544.29 L559.18,544.33 L559.70,544.38 L560.21,544.42 L560.73,544.46 L561.24,544.50 L561.75,544.54 L562.27,544.58 L562.78,544.62 L563.30,544.65 L563.81,544.69 L564.33,544.73 L564.84,544.77 L565.36,544.80 L565.88,544.84 L566.39,544.88 L566.91,544.91 L567.42,544.95 L567.94,544.98 L568.45,545.02 L568.97,545.05 L569.48,545.09 L570.00,545.12 L570.51,545.15 L571.03,545.19 L571.55,545.22 L572.06,545.25 L572.58,545.28 L573.09,545.32 L573.61,545.35 L574.12,545.38 L574.64,545.41 L575.16,545.44 L575.67,545.47 L576.19,545.50 L576.70,545.53 L577.22,545.56 L577.74,545.59 L578.25,545.61 L578.77,545.64 L579.28,545.67 L579.80,545.70 L580.32,545.73 L580.83,545.75 L581.35,545.78 L581.86,545.81 L582.38,545.83 L582.90,545.86 L583.41,545.88 L583.93,545.91 L584.45,545.94 L584.96,545.96 L585.48,545.99 L585.99,546.01 L586.51,546.03 L587.03,546.06 L587.54,546.08 L588.06,546.11 L588.58,546.13 L589.09,546.15 L589.61,546.18 L590.13,546.20 L590.64,546.22 L591.16,546.24 L591.68,546.27 L592.19,546.29 L592.71,546.31 L593.22,546.33 L593.74,546.35 L594.26,546.38 L594.77,546.40 L595.29,546.42 L595.81,546.44 L596.32,546.46 L596.84,546.48 L597.36,546.50 L597.87,546.52 L598.39,546.54 L598.91,546.56 L599.42,546.58 L599.94,546.60 L600.46,546.62 L600.97,546.64 L601.49,546.66 L602.01,546.68 L602.52,546.69 L603.04,546.71 L603.56,546.73 L604.07,546.75 L604.59,546.77 L605.11,546.79 L605.62,546.81 L606.14,546.82 L606.66,546.84 L607.17,546.86 L607.69,546.88 L608.20,546.90 L608.72,546.91 L609.24,546.93 L609.75,546.95 L610.27,546.96 L610.79,546.98 L611.30,547.00 L611.82,547.01 L612.34,547.03 L612.85,547.05 L613.37,547.06 L613.89,547.08 L614.40,547.10 L614.92,547.11 L615.44,547.13 L615.95,547.14 L616.47,547.16 L616.99,547.18 L617.50,547.19 L618.02,547.21 L618.54,547.22 L619.05,547.24 L619.57,547.25 L620.09,547.27 L620.60,547.28 L621.12,547.30 L621.64,547.31 L622.15,547.33 L622.67,547.34 L623.18,547.35 L623.70,547.37 L624.22,547.38 L624.73,547.40 L625.25,547.41 L625.77,547.42 L626.28,547.44 L626.80,547.45 L627.32,547.46 L627.83,547.48 L628.35,547.49 L628.87,547.50 L629.38,547.52 L629.90,547.53 L630.42,547.54 L630.93,547.56 L631.45,547.57 L631.97,547.58 L632.48,547.59 L633.00,547.61 L633.52,547.62 L634.03,547.63 L634.55,547.64 L635.06,547.65 L635.58,547.67 L636.10,547.68 L636.61,547.69 L637.13,547.70 L637.65,547.71 L638.16,547.72 L638.68,547.74 L639.20,547.75 L639.71,547.76 L640.23,547.77 L640.75,547.78 L641.26,547.79 L641.78,547.80 L642.30,547.81 L642.81,547.82 L643.33,547.84 L643.85,547.85 L644.36,547.86 L644.88,547.87 L645.40,547.88 L645.91,547.89 L646.43,547.90 L646.95,547.91 L647.46,547.92 L647.98,547.93 L648.49,547.94 L649.01,547.95 L649.53,547.96 L650.04,547.97 L650.56,547.98 L651.08,547.99 L651.59,548.00 L652.11,548.01 L652.63,548.02 L653.14,548.02 L653.66,548.03 L654.18,548.04 L654.69,548.05 L655.21,548.06 L655.73,548.07 L656.24,548.08 L656.76,548.09 L657.28,548.10 L657.79,548.11 L658.31,548.11 L658.82,548.12 L659.34,548.13 L659.86,548.14 L660.37,548.15 L660.89,548.16 L661.41,548.16 L661.92,548.17 L662.44,548.18 L662.96,548.19 L663.47,548.20 L663.99,548.21 L664.51,548.21 L665.02,548.22 L665.54,548.23 L666.06,548.24 L666.57,548.25 L667.09,548.25 L667.61,548.26 L668.12,548.27 L668.64,548.28 L669.16,548.28 L669.67,548.29 L670.19,548.30 L670.70,548.31 L671.22,548.31 L671.74,548.32 L672.25,548.33 L672.77,548.33 L673.29,548.34 L673.80,548.35 L674.32,548.36 L674.84,548.36 L675.35,548.37 L675.87,548.38 L676.39,548.38 L676.90,548.39 L677.42,548.40 L677.94,548.41 L678.45,548.41 L678.97,548.42 L679.49,548.43 L680.00,548.43 L680.52,548.44 L681.04,548.45 L681.55,548.45 L682.07,548.46 L682.58,548.47 L683.10,548.47 L683.62,548.48 L684.13,548.48 L684.65,548.49 L685.17,548.50 L685.68,548.50 L686.20,548.51 L686.72,548.52 L687.23,548.52 L687.75,548.53 L688.27,548.54 L688.78,548.54 L689.30,548.55 L689.82,548.55 L690.33,548.56 L690.85,548.57 L691.37,548.57 L691.88,548.58 L692.40,548.58 L692.92,548.59 L693.43,548.60 L693.95,548.60 L694.46,548.61 L694.98,548.61 L695.50,548.62 L696.01,548.63 L696.53,548.63 L697.05,548.64 L697.56,548.64 L698.08,548.65 L698.60,548.66 L699.11,548.66 L699.63,548.67 L700.15,548.67 L700.66,548.68 L701.18,548.69 L701.70,548.69 L702.21,548.70 L702.73,548.70 L703.25,548.71 L703.76,548.72 L704.28,548.72 L704.80,548.73 L705.31,548.73 L705.83,548.74 L706.34,548.74 L706.86,548.75 L707.38,548.76 L707.89,548.76 L708.41,548.77 L708.93,548.77 L709.44,548.78 L709.96,548.79 L710.48,548.79 L710.99,548.80 L711.51,548.80 L712.03,548.81 L712.54,548.81 L713.06,548.82 L713.58,548.83 L714.09,548.83 L714.61,548.84 L715.13,548.84 L715.64,548.85 L716.16,548.86 L716.68,548.86 L717.19,548.87 L717.71,548.87 L718.23,548.88 L718.74,548.89 L719.26,548.89 L719.78,548.90 L720.29,548.90 L720.81,548.91 L721.32,548.92 L721.84,548.92 L722.36,548.93 L722.87,548.93 L723.39,548.94 L723.91,548.95 L724.42,548.95 L724.94,548.96 L725.46,548.97 L725.97,548.97 L726.49,548.98 L727.01,548.98 L727.52,548.99 L728.04,549.00 L728.56,549.00 L729.07,549.01 L729.59,549.02 L730.11,549.02 L730.62,549.03 L731.14,549.04 L731.66,549.04 L732.17,549.05 L732.69,549.06 L733.21,549.06 L733.72,549.07 L734.24,549.08 L734.76,549.08 L735.27,549.09 L735.79,549.10 L736.30,549.10 L736.82,549.11 L737.34,549.12 L737.85,549.12 L738.37,549.13 L738.89,549.14 L739.40,549.15 L739.92,549.15 L740.44,549.16 L740.95,549.17 L741.47,549.17 L741.99,549.18 L742.50,549.19 L743.02,549.20 L743.54,549.20 L744.05,549.21 L744.57,549.22 L745.09,549.23 L745.60,549.23 L746.12,549.24 L746.64,549.25 L747.15,549.26 L747.67,549.27 L748.19,549.27 L748.70,549.28 L749.22,549.29 L749.74,549.30 L750.25,549.31 L750.77,549.31 L751.29,549.32 L751.80,549.33 L752.32,549.34 L752.84,549.35 L753.35,549.36 L753.87,549.36 L754.39,549.37 L754.90,549.38 L755.42,549.39 L755.94,549.40 L756.45,549.41 L756.97,549.42 L757.48,549.43 L758.00,549.43 L758.52,549.44 L759.03,549.45 L759.55,549.46 L760.07,549.47 L760.58,549.48 L761.10,549.49 L761.62,549.50 L762.13,549.51 L762.65,549.52 L763.17,549.53 L763.68,549.54 L764.20,549.55 L764.72,549.56 L765.23,549.57 L765.75,549.58 L766.27,549.59 L766.78,549.60 L767.30,549.61 L767.82,549.62 L768.33,549.63 L768.85,549.64 L769.37,549.65 L769.88,549.66 L770.40,549.67 L770.92,549.68 L771.43,549.69 L771.95,549.70 L772.47,549.71 L772.98,549.73 L773.50,549.74 L774.02,549.75 L774.53,549.76 L775.05,549.77 L775.57,549.78 L776.08,549.79 L776.60,549.81 L777.12,549.82 L777.63,549.83 L778.15,549.84 L778.67,549.85 L779.18,549.87 L779.70,549.88 L780.22,549.89 L780.73,549.90 L781.25,549.92 L781.77,549.93 L782.28,549.94 L782.80,549.95 L783.32,549.97 L783.83,549.98 L784.35,549.99 L784.87,550.01 L785.38,550.02 L785.90,550.03 L786.42,550.05 L786.93,550.06 L787.45,550.07 L787.97,550.09 L788.48,550.10 L789.00,550.11 L789.52,550.13 L790.03,550.14 L790.55,550.16 L791.07,550.17 L791.58,550.19 L792.10,550.20" stroke="#0000FF" />
<path d="M128.40,550.65 L128.87,550.60 L129.34,550.55 L129.81,550.50 L130.28,550.45 L130.75,550.40 L131.22,550.35 L131.70,550.30 L132.17,550.25 L132.64,550.20 L133.11,550.15 L133.58,550.11 L134.05,550.06 L134.52,550.02 L135.00,549.97 L135.47,549.93 L135.94,549.88 L136.41,549.84 L136.89,549.80 L137.36,549.75 L137.83,549.71 L138.30,549.67 L138.78,549.63 L139.25,549.59 L139.72,549.55 L140.20,549.51 L140.67,549.47 L141.14,549.43 L141.62,549.39 L142.09,549.35 L142.56,549.31 L143.04,549.27 L143.51,549.24 L143.98,549.20 L144.46,549.16 L144.93,549.13 L145.41,549.09 L145.88,549.06 L146.36,549.02 L146.83,548.99 L147.30,548.95 L147.78,548.92 L148.25,548.88 L148.73,548.85 L149.20,548.82 L149.68,548.78 L150.15,548.75 L150.63,548.72 L151.10,548.69 L151.58,548.65 L152.05,548.62 L152.53,548.59 L153.00,548.56 L153.48,548.53 L153.96,548.50 L154.43,548.47 L154.91,548.44 L155.38,548.41 L155.86,548.38 L156.33,548.35 L156.81,548.32 L157.29,548.29 L157.76,548.26 L158.24,548.23 L158.71,548.20 L159.19,548.17 L159.67,548.15 L160.14,548.12 L160.62,548.09 L161.09,548.06 L161.57,548.03 L162.05,548.01 L162.52,547.98 L163.00,547.95 L163.48,547.92 L163.95,547.90 L164.43,547.87 L164.91,547.84 L165.38,547.81 L165.86,547.79 L166.34,547.76 L166.81,547.73 L167.29,547.71 L167.77,547.68 L168.24,547.65 L168.72,547.62 L169.20,547.60 L169.67,547.57 L170.15,547.54 L170.63,547.52 L171.10,547.49 L171.58,547.46 L172.06,547.44 L172.53,547.41 L173.01,547.38 L173.49,547.36 L173.96,547.33 L174.44,547.30 L174.92,547.27 L175.39,547.25 L175.87,547.22 L176.35,547.19 L176.83,547.16 L177.30,547.14 L177.78,547.11 L178.26,547.08 L178.73,547.05 L179.21,547.02 L179.69,547.00 L180.16,546.97 L180.64,546.94 L181.12,546.91 L181.59,546.88 L182.07,546.85 L182.55,546.82 L183.02,546.79 L183.50,546.76 L183.98,546.73 L184.45,546.70 L184.93,546.67 L185.41,546.64 L185.88,546.61 L186.36,546.58 L186.83,546.55 L187.31,546.52 L187.79,546.49 L188.26,546.46 L188.74,546.42 L189.22,546.39 L189.69,546.36 L190.17,546.33 L190.64,546.29 L191.12,546.26 L191.60,546.23 L192.07,546.19 L192.55,546.16 L193.02,546.12 L193.50,546.09 L193.98,546.05 L194.45,546.02 L194.93,545.98 L195.40,545.94 L195.88,545.91 L196.35,545.87 L196.83,545.83 L197.30,545.79 L197.78,545.75 L198.25,545.72 L198.73,545.68 L199.21,545.64 L199.68,545.60 L200.15,545.56 L200.63,545.52 L201.10,545.47 L201.58,545.43 L202.05,545.39 L202.53,545.35 L203.00,545.30 L203.48,545.26 L203.95,545.22 L204.43,545.17 L204.90,545.13 L205.37,545.08 L205.85,545.04 L206.32,544.99 L206.80,544.94 L207.27,544.89 L207.74,544.85 L208.22,544.80 L208.69,544.75 L209.16,544.70 L209.64,544.65 L210.11,544.60 L210.58,544.55 L211.05,544.49 L211.53,544.44 L212.00,544.39 L212.47,544.33 L212.95,544.28 L213.42,544.23 L213.89,544.17 L214.36,544.11 L214.83,544.06 L215.31,544.00 L215.78,543.94 L216.25,543.88 L216.72,543.82 L217.19,543.76 L217.66,543.70 L218.13,543.64 L218.61,543.58 L219.08,543.51 L219.55,543.45 L220.02,543.39 L220.49,543.32 L220.96,543.26 L221.43,543.19 L221.90,543.12 L222.37,543.05 L222.84,542.99 L223.31,542.92 L223.78,542.85 L224.25,542.78 L224.72,542.70 L225.19,542.63 L225.65,542.56 L226.12,542.48 L226.59,542.41 L227.06,542.33 L227.53,542.26 L228.00,542.18 L228.47,542.10 L228.93,542.02 L229.40,541.94 L229.87,541.86 L230.34,541.78 L230.80,541.70 L231.27,541.61 L231.74,541.53 L232.20,541.44 L232.67,541.36 L233.14,541.27 L233.60,541.18 L234.07,541.10 L234.54,541.01 L235.00,540.92 L235.47,540.82 L235.93,540.73 L236.40,540.64 L236.86,540.54 L237.33,540.45 L237.79,540.35 L238.26,540.26 L238.72,540.16 L239.19,540.06 L239.65,539.96 L240.11,539.86 L240.58,539.76 L241.04,539.65 L241.50,539.55 L241.97,539.44 L242.43,539.34 L242.89,539.23 L243.35,539.12 L243.82,539.01 L244.28,538.90 L244.74,538.79 L245.20,538.68 L245.66,538.57 L246.12,538.45 L246.58,538.33 L247.05,538.22 L247.51,538.10 L247.97,537.98 L248.43,537.86 L248.89,537.74 L249.35,537.62 L249.81,537.49 L250.27,537.37 L250.72,537.24 L251.18,537.12 L251.64,536.99 L252.10,536.86 L252.56,536.73 L253.02,536.60 L253.47,536.47 L253.93,536.34 L254.39,536.20 L254.85,536.07 L255.30,535.93 L255.76,535.80 L256.22,535.66 L256.67,535.52 L257.13,535.38 L257.58,535.24 L258.04,535.10 L258.49,534.96 L258.95,534.81 L259.41,534.67 L259.86,534.53 L260.31,534.38 L260.77,534.23 L261.22,534.09 L261.68,533.94 L262.13,533.79 L262.58,533.64 L263.04,533.49 L263.49,533.34 L263.94,533.19 L264.39,533.03 L264.85,532.88 L265.30,532.73 L265.75,532.57 L266.20,532.42 L266.65,532.26 L267.11,532.10 L267.56,531.95 L268.01,531.79 L268.46,531.63 L268.91,531.47 L269.36,531.31 L269.81,531.15 L270.26,530.99 L270.71,530.82 L271.16,530.66 L271.61,530.50 L272.05,530.33 L272.50,530.17 L272.95,530.01 L273.40,529.84 L273.85,529.67 L274.29,529.51 L274.74,529.34 L275.19,529.17 L275.64,529.00 L276.08,528.84 L276.53,528.67 L276.98,528.50 L277.42,528.33 L277.87,528.16 L278.31,527.99 L278.76,527.81 L279.20,527.64 L279.65,527.47 L280.09,527.30 L280.54,527.13 L280.98,526.95 L281.43,526.78 L281.87,526.60 L282.31,526.43 L282.76,526.26 L283.20,526.08 L283.64,525.91 L284.08,525.73 L284.53,525.55 L284.97,525.38 L285.41,525.20 L285.85,525.02 L286.29,524.84 L286.73,524.67 L287.17,524.49 L287.61,524.31 L288.05,524.13 L288.49,523.95 L288.93,523.76 L289.37,523.58 L289.81,523.40 L290.25,523.21 L290.68,523.03 L291.12,522.84 L291.56,522.66 L291.99,522.47 L292.43,522.28 L292.87,522.09 L293.30,521.90 L293.73,521.71 L294.17,521.52 L294.60,521.33 L295.03,521.14 L295.47,520.94 L295.90,520.75 L296.33,520.55 L296.76,520.35 L297.19,520.15 L297.62,519.95 L298.05,519.75 L298.48,519.55 L298.90,519.34 L299.33,519.14 L299.76,518.93 L300.18,518.73 L300.61,518.52 L301.03,518.31 L301.46,518.10 L301.88,517.88 L302.30,517.67 L302.72,517.45 L303.14,517.24 L303.56,517.02 L303.98,516.80 L304.40,516.58 L304.82,516.35 L305.24,516.13 L305.65,515.90 L306.07,515.68 L306.49,515.45 L306.90,515.22 L307.31,514.99 L307.73,514.75 L308.14,514.52 L308.55,514.29 L308.96,514.05 L309.38,513.81 L309.79,513.58 L310.20,513.34 L310.61,513.10 L311.02,512.86 L311.42,512.61 L311.83,512.37 L312.24,512.13 L312.65,511.88 L313.06,511.64 L313.46,511.39 L313.87,511.15 L314.28,510.90 L314.68,510.65 L315.09,510.40 L315.49,510.15 L315.90,509.90 L316.30,509.65 L316.71,509.40 L317.11,509.15 L317.52,508.90 L317.92,508.65 L318.33,508.40 L318.73,508.14 L319.13,507.89 L319.54,507.64 L319.94,507.39 L320.34,507.13 L320.75,506.88 L321.15,506.63 L321.56,506.37 L321.96,506.12 L322.36,505.87 L322.77,505.61 L323.17,505.36 L323.57,505.11 L323.98,504.85 L324.38,504.60 L324.79,504.35 L325.19,504.09 L325.59,503.84 L326.00,503.59 L326.40,503.34 L326.81,503.09 L327.21,502.84 L327.62,502.59 L328.03,502.34 L328.43,502.09 L328.84,501.84 L329.25,501.59 L329.65,501.35 L330.06,501.10 L330.47,500.85 L330.88,500.61 L331.29,500.36 L331.69,500.12 L332.10,499.88 L332.51,499.64 L332.93,499.40 L333.34,499.16 L333.75,498.92 L334.16,498.68 L334.57,498.44 L334.99,498.21 L335.40,497.97 L335.81,497.74 L336.23,497.51 L336.65,497.28 L337.06,497.05 L337.48,496.82 L337.90,496.59 L338.31,496.37 L338.73,496.14 L339.15,495.92 L339.57,495.70 L340.00,495.48 L340.42,495.26 L340.84,495.05 L341.27,494.83 L341.69,494.62 L342.12,494.41 L342.54,494.20 L342.97,493.99 L343.40,493.78 L343.83,493.58 L344.26,493.38 L344.69,493.17 L345.12,492.98 L345.56,492.78 L345.99,492.58 L346.42,492.39 L346.86,492.20 L347.30,492.01 L347.73,491.82 L348.17,491.64 L348.61,491.45 L349.05,491.27 L349.49,491.09 L349.94,490.91 L350.38,490.73 L350.82,490.56 L351.27,490.38 L351.71,490.21 L352.16,490.04 L352.60,489.88 L353.05,489.71 L353.50,489.54 L353.95,489.38 L354.40,489.22 L354.85,489.06 L355.30,488.90 L355.75,488.75 L356.20,488.59 L356.65,488.44 L357.11,488.29 L357.56,488.14 L358.02,487.99 L358.47,487.85 L358.93,487.71 L359.38,487.56 L359.84,487.42 L360.30,487.28 L360.76,487.15 L361.22,487.01 L361.67,486.88 L362.13,486.74 L362.59,486.61 L363.06,486.49 L363.52,486.36 L363.98,486.23 L364.44,486.11 L364.90,485.99 L365.37,485.86 L365.83,485.74 L366.29,485.63 L366.76,485.51 L367.22,485.40 L367.69,485.28 L368.15,485.17 L368.62,485.06 L369.08,484.95 L369.55,484.85 L370.02,484.74 L370.48,484.64 L370.95,484.54 L371.42,484.44 L371.89,484.34 L372.36,484.24 L372.82,484.14 L373.29,484.05 L373.76,483.95 L374.23,483.86 L374.70,483.77 L375.17,483.68 L375.64,483.60 L376.11,483.51 L376.58,483.43 L377.05,483.34 L377.52,483.26 L377.99,483.18 L378.46,483.11 L378.93,483.03 L379.40,482.95 L379.88,482.88 L380.35,482.81 L380.82,482.73 L381.29,482.66 L381.76,482.60 L382.23,482.53 L382.70,482.46 L383.18,482.40 L383.65,482.34 L384.12,482.27 L384.59,482.21 L385.06,482.16 L385.53,482.10 L386.00,482.04 L386.47,481.99 L386.95,481.93 L387.42,481.88 L387.89,481.83 L388.36,481.78 L388.83,481.73 L389.30,481.68 L389.77,481.64 L390.24,481.59 L390.72,481.55 L391.19,481.50 L391.66,481.46 L392.13,481.42 L392.60,481.38 L393.07,481.34 L393.54,481.30 L394.02,481.27 L394.49,481.23 L394.96,481.19 L395.43,481.16 L395.90,481.13 L396.37,481.09 L396.85,481.06 L397.32,481.03 L397.79,481.00 L398.26,480.97 L398.73,480.94 L399.21,480.92 L399.68,480.89 L400.15,480.86 L400.62,480.84 L401.10,480.81 L401.57,480.79 L402.04,480.76 L402.51,480.74 L402.99,480.72 L403.46,480.69 L403.93,480.67 L404.40,480.65 L404.88,480.63 L405.35,480.61 L405.82,480.59 L406.30,480.57 L406.77,480.55 L407.24,480.53 L407.72,480.52 L408.19,480.50 L408.67,480.48 L409.14,480.46 L409.61,480.45 L410.09,480.43 L410.56,480.42 L411.04,480.40 L411.51,480.38 L411.99,480.37 L412.46,480.35 L412.94,480.34 L413.41,480.32 L413.89,480.31 L414.36,480.29 L414.84,480.28 L415.32,480.26 L415.79,480.25 L416.27,480.23 L416.75,480.22 L417.22,480.21 L417.70,480.19 L418.18,480.18 L418.65,480.16 L419.13,480.15 L419.61,480.13 L420.09,480.12 L420.56,480.10 L421.04,480.08 L421.52,480.07 L422.00,480.05 L422.48,480.04 L422.96,480.02 L423.44,480.00 L423.92,479.99 L424.39,479.97 L424.87,479.95 L425.35,479.93 L425.83,479.91 L426.31,479.90 L426.80,479.88 L427.28,479.85 L427.76,479.83 L428.24,479.81 L428.72,479.79 L429.20,479.77 L429.68,479.74 L430.16,479.72 L430.64,479.69 L431.12,479.66 L431.60,479.64 L432.08,479.61 L432.56,479.58 L433.04,479.55 L433.52,479.51 L434.00,479.48 L434.48,479.44 L434.96,479.41 L435.44,479.37 L435.91,479.33 L436.39,479.29 L436.87,479.25 L437.35,479.20 L437.83,479.16 L438.30,479.11 L438.78,479.06 L439.25,479.01 L439.73,478.96 L440.20,478.90 L440.68,478.85 L441.15,478.79 L441.63,478.73 L442.10,478.67 L442.57,478.60 L443.04,478.53 L443.51,478.46 L443.98,478.39 L444.45,478.32 L444.92,478.24 L445.39,478.17 L445.86,478.08 L446.32,478.00 L446.79,477.92 L447.26,477.83 L447.72,477.74 L448.18,477.64 L448.65,477.55 L449.11,477.45 L449.57,477.34 L450.03,477.24 L450.49,477.13 L450.94,477.02 L451.40,476.91 L451.86,476.79 L452.31,476.67 L452.77,476.55 L453.22,476.42 L453.67,476.29 L454.12,476.16 L454.57,476.02 L455.02,475.88 L455.47,475.74 L455.91,475.59 L456.36,475.44 L456.80,475.29 L457.24,475.13 L457.68,474.97 L458.12,474.80 L458.56,474.63 L459.00,474.46 L459.43,474.29 L459.87,474.11 L460.30,473.92 L460.73,473.73 L461.16,473.54 L461.59,473.35 L462.02,473.15 L462.44,472.94 L462.87,472.74 L463.29,472.53 L463.71,472.31 L464.13,472.09 L464.55,471.87 L464.97,471.65 L465.38,471.42 L465.80,471.19 L466.21,470.95 L466.62,470.72 L467.03,470.47 L467.44,470.23 L467.85,469.98 L468.26,469.73 L468.66,469.48 L469.06,469.22 L469.46,468.97 L469.86,468.70 L470.26,468.44 L470.66,468.17 L471.06,467.90 L471.45,467.63 L471.84,467.36 L472.23,467.08 L472.62,466.80 L473.01,466.52 L473.40,466.23 L473.79,465.95 L474.17,465.66 L474.55,465.37 L474.93,465.08 L475.31,464.78 L475.69,464.48 L476.07,464.18 L476.45,463.88 L476.82,463.58 L477.19,463.28 L477.56,462.97 L477.93,462.66 L478.30,462.35 L478.67,462.04 L479.04,461.73 L479.40,461.42 L479.76,461.10 L480.12,460.78 L480.48,460.46 L480.84,460.15 L481.20,459.82 L481.55,459.50 L481.91,459.18 L482.26,458.85 L482.61,458.53 L482.96,458.20 L483.31,457.87 L483.66,457.54 L484.00,457.21 L484.35,456.88 L484.69,456.55 L485.03,456.21 L485.37,455.88 L485.71,455.54 L486.05,455.20 L486.39,454.87 L486.72,454.53 L487.06,454.19 L487.39,453.84 L487.72,453.50 L488.06,453.16 L488.39,452.81 L488.71,452.47 L489.04,452.12 L489.37,451.77 L489.69,451.42 L490.02,451.07 L490.34,450.72 L490.66,450.37 L490.98,450.02 L491.30,449.67 L491.62,449.31 L491.94,448.96 L492.25,448.60 L492.57,448.25 L492.88,447.89 L493.20,447.53 L493.51,447.17 L493.82,446.81 L494.13,446.45 L494.44,446.09 L494.75,445.73 L495.06,445.37 L495.36,445.00 L495.67,444.64 L495.97,444.28 L496.28,443.91 L496.58,443.55 L496.88,443.18 L497.18,442.81 L497.48,442.45 L497.78,442.08 L498.08,441.71 L498.38,441.34 L498.68,440.97 L498.97,440.60 L499.27,440.23 L499.56,439.86 L499.86,439.49 L500.15,439.12 L500.44,438.75 L500.73,438.37 L501.02,438.00 L501.31,437.63 L501.60,437.25 L501.89,436.88 L502.18,436.50 L502.47,436.13 L502.76,435.75 L503.04,435.38 L503.33,435.00 L503.62,434.63 L503.90,434.25 L504.19,433.88 L504.48,433.50 L504.76,433.12 L505.05,432.75 L505.33,432.37 L505.62,431.99 L505.90,431.62 L506.19,431.24 L506.47,430.86 L506.76,430.49 L507.04,430.11 L507.33,429.73 L507.62,429.36 L507.90,428.98 L508.19,428.60 L508.48,428.23 L508.76,427.85 L509.05,427.47 L509.34,427.10 L509.63,426.72 L509.91,426.34 L510.20,425.97 L510.49,425.59 L510.78,425.22 L511.07,424.84 L511.37,424.47 L511.66,424.09 L511.95,423.72 L512.25,423.35 L512.54,422.97 L512.84,422.60 L513.13,422.23 L513.43,421.85 L513.73,421.48 L514.03,421.11 L514.33,420.74 L514.63,420.37 L514.93,420.00 L515.23,419.63 L515.54,419.26 L515.85,418.89 L516.15,418.52 L516.46,418.15 L516.77,417.79 L517.08,417.42 L517.39,417.05 L517.71,416.69 L518.02,416.32 L518.34,415.96 L518.66,415.60 L518.98,415.24 L519.30,414.87 L519.63,414.51 L519.95,414.15 L520.28,413.79 L520.61,413.44 L520.94,413.08 L521.27,412.72 L521.61,412.36 L521.94,412.01 L522.28,411.66 L522.62,411.30 L522.96,410.95 L523.31,410.60 L523.65,410.25 L524.00,409.90 L524.35,409.55 L524.71,409.20 L525.06,408.86 L525.42,408.52 L525.78,408.18 L526.14,407.84 L526.50,407.51 L526.87,407.17 L527.24,406.84 L527.61,406.52 L527.98,406.20 L528.35,405.88 L528.73,405.57 L529.11,405.26 L529.49,404.95 L529.87,404.65 L530.26,404.36 L530.64,404.07 L531.03,403.78 L531.42,403.50 L531.82,403.23 L532.21,402.96 L532.61,402.70 L533.01,402.45 L533.42,402.20 L533.82,401.96 L534.23,401.73 L534.64,401.50 L535.05,401.28 L535.46,401.07 L535.88,400.87 L536.30,400.68 L536.72,400.49 L537.14,400.32 L537.57,400.15 L537.99,399.99 L538.42,399.84 L538.85,399.70 L539.29,399.57 L539.72,399.46 L540.16,399.35 L540.60,399.25 L541.04,399.16 L541.49,399.08 L541.94,399.02 L542.38,398.96 L542.83,398.91 L543.28,398.87 L543.73,398.85 L544.19,398.83 L544.64,398.82 L545.09,398.82 L545.55,398.83 L546.00,398.86 L546.46,398.89 L546.91,398.92 L547.36,398.97 L547.82,399.03 L548.27,399.10 L548.72,399.17 L549.17,399.25 L549.62,399.35 L550.07,399.45 L550.52,399.56 L550.97,399.67 L551.41,399.80 L551.86,399.94 L552.30,400.08 L552.74,400.23 L553.17,400.39 L553.61,400.55 L554.04,400.73 L554.47,400.91 L554.89,401.10 L555.31,401.30 L555.73,401.50 L556.15,401.71 L556.56,401.93 L556.98,402.16 L557.38,402.39 L557.79,402.63 L558.19,402.87 L558.59,403.12 L558.99,403.38 L559.39,403.64 L559.78,403.91 L560.17,404.19 L560.56,404.47 L560.94,404.75 L561.32,405.05 L561.70,405.34 L562.08,405.64 L562.45,405.95 L562.83,406.26 L563.20,406.58 L563.56,406.90 L563.93,407.22 L564.29,407.55 L564.65,407.88 L565.01,408.22 L565.37,408.56 L565.72,408.90 L566.08,409.25 L566.43,409.60 L566.77,409.95 L567.12,410.31 L567.46,410.66 L567.80,411.03 L568.14,411.39 L568.48,411.76 L568.82,412.13 L569.15,412.50 L569.48,412.87 L569.81,413.24 L570.14,413.62 L570.47,414.00 L570.79,414.38 L571.11,414.76 L571.44,415.14 L571.75,415.52 L572.07,415.90 L572.39,416.29 L572.70,416.67 L573.01,417.05 L573.33,417.44 L573.64,417.82 L573.94,418.21 L574.25,418.59 L574.55,418.98 L574.86,419.36 L575.16,419.74 L575.46,420.13 L575.76,420.51 L576.06,420.89 L576.35,421.28 L576.65,421.66 L576.94,422.04 L577.24,422.42 L577.53,422.80 L577.82,423.18 L578.11,423.57 L578.40,423.95 L578.68,424.33 L578.97,424.71 L579.26,425.09 L579.54,425.47 L579.82,425.85 L580.11,426.23 L580.39,426.61 L580.67,426.99 L580.95,427.37 L581.23,427.75 L581.51,428.13 L581.79,428.51 L582.06,428.89 L582.34,429.27 L582.61,429.65 L582.89,430.03 L583.16,430.41 L583.44,430.79 L583.71,431.16 L583.99,431.54 L584.26,431.92 L584.53,432.30 L584.80,432.68 L585.07,433.06 L585.35,433.44 L585.62,433.82 L585.89,434.20 L586.16,434.58 L586.43,434.96 L586.70,435.34 L586.97,435.72 L587.24,436.11 L587.51,436.49 L587.78,436.87 L588.05,437.25 L588.32,437.63 L588.59,438.01 L588.86,438.39 L589.13,438.78 L589.40,439.16 L589.67,439.54 L589.94,439.92 L590.21,440.31 L590.48,440.69 L590.75,441.07 L591.02,441.46 L591.29,441.84 L591.57,442.23 L591.84,442.61 L592.11,442.99 L592.38,443.38 L592.66,443.76 L592.93,444.15 L593.20,444.53 L593.48,444.92 L593.75,445.30 L594.03,445.69 L594.30,446.07 L594.58,446.46 L594.85,446.84 L595.13,447.23 L595.40,447.61 L595.68,448.00 L595.96,448.39 L596.24,448.77 L596.51,449.16 L596.79,449.54 L597.07,449.93 L597.35,450.31 L597.63,450.69 L597.91,451.08 L598.19,451.46 L598.47,451.85 L598.76,452.23 L599.04,452.62 L599.32,453.00 L599.60,453.38 L599.89,453.77 L600.17,454.15 L600.46,454.53 L600.74,454.91 L601.03,455.30 L601.32,455.68 L601.60,456.06 L601.89,456.44 L602.18,456.82 L602.47,457.20 L602.76,457.58 L603.05,457.96 L603.34,458.34 L603.63,458.72 L603.92,459.10 L604.22,459.47 L604.51,459.85 L604.80,460.23 L605.10,460.60 L605.39,460.98 L605.69,461.36 L605.99,461.73 L606.28,462.11 L606.58,462.48 L606.88,462.85 L607.18,463.22 L607.48,463.60 L607.78,463.97 L608.09,464.34 L608.39,464.71 L608.69,465.08 L609.00,465.45 L609.30,465.81 L609.61,466.18 L609.92,466.55 L610.22,466.91 L610.53,467.28 L610.84,467.64 L611.15,468.01 L611.46,468.37 L611.77,468.73 L612.09,469.09 L612.40,469.45 L612.72,469.81 L613.03,470.17 L613.35,470.53 L613.67,470.89 L613.98,471.24 L614.30,471.60 L614.62,471.95 L614.94,472.30 L615.27,472.66 L615.59,473.01 L615.91,473.36 L616.24,473.71 L616.57,474.06 L616.89,474.40 L617.22,474.75 L617.55,475.09 L617.88,475.44 L618.21,475.78 L618.54,476.12 L618.88,476.46 L619.21,476.80 L619.55,477.14 L619.88,477.48 L620.22,477.82 L620.56,478.15 L620.90,478.48 L621.24,478.82 L621.59,479.15 L621.93,479.48 L622.27,479.81 L622.62,480.13 L622.97,480.46 L623.31,480.79 L623.66,481.11 L624.01,481.43 L624.37,481.75 L624.72,482.07 L625.07,482.39 L625.43,482.71 L625.78,483.02 L626.14,483.34 L626.50,483.65 L626.86,483.96 L627.22,484.27 L627.59,484.58 L627.95,484.89 L628.32,485.19 L628.68,485.49 L629.05,485.80 L629.42,486.10 L629.79,486.40 L630.16,486.69 L630.54,486.99 L630.91,487.29 L631.29,487.58 L631.66,487.87 L632.04,488.16 L632.42,488.45 L632.80,488.74 L633.18,489.02 L633.57,489.31 L633.95,489.59 L634.34,489.87 L634.72,490.15 L635.11,490.43 L635.50,490.71 L635.89,490.98 L636.28,491.25 L636.67,491.53 L637.06,491.80 L637.45,492.07 L637.85,492.34 L638.24,492.60 L638.64,492.87 L639.04,493.13 L639.44,493.39 L639.84,493.65 L640.24,493.91 L640.64,494.17 L641.04,494.43 L641.44,494.68 L641.84,494.94 L642.25,495.19 L642.65,495.44 L643.06,495.69 L643.47,495.94 L643.87,496.19 L644.28,496.43 L644.69,496.67 L645.10,496.92 L645.51,497.16 L645.92,497.40 L646.33,497.64 L646.75,497.87 L647.16,498.11 L647.57,498.34 L647.99,498.57 L648.40,498.81 L648.82,499.04 L649.23,499.26 L649.65,499.49 L650.07,499.72 L650.49,499.94 L650.90,500.17 L651.32,500.39 L651.74,500.61 L652.16,500.83 L652.58,501.05 L653.00,501.27 L653.42,501.49 L653.85,501.70 L654.27,501.92 L654.69,502.14 L655.11,502.35 L655.54,502.56 L655.96,502.78 L656.39,502.99 L656.81,503.20 L657.24,503.41 L657.66,503.62 L658.09,503.83 L658.51,504.04 L658.94,504.24 L659.36,504.45 L659.79,504.66 L660.22,504.86 L660.64,505.07 L661.07,505.28 L661.50,505.48 L661.93,505.69 L662.36,505.89 L662.78,506.09 L663.21,506.30 L663.64,506.50 L664.07,506.71 L664.50,506.91 L664.93,507.11 L665.36,507.32 L665.78,507.52 L666.21,507.72 L666.64,507.93 L667.07,508.13 L667.50,508.33 L667.93,508.54 L668.36,508.74 L668.79,508.94 L669.22,509.15 L669.65,509.35 L670.08,509.55 L670.51,509.75 L670.94,509.96 L671.37,510.16 L671.80,510.36 L672.23,510.57 L672.66,510.77 L673.09,510.97 L673.52,511.17 L673.95,511.38 L674.38,511.58 L674.81,511.78 L675.24,511.99 L675.67,512.19 L676.10,512.39 L676.53,512.59 L676.96,512.79 L677.39,513.00 L677.82,513.20 L678.25,513.40 L678.68,513.60 L679.12,513.80 L679.55,514.00 L679.98,514.21 L680.41,514.41 L680.84,514.61 L681.27,514.81 L681.70,515.01 L682.14,515.21 L682.57,515.41 L683.00,515.61 L683.43,515.81 L683.86,516.01 L684.30,516.21 L684.73,516.41 L685.16,516.61 L685.59,516.81 L686.03,517.01 L686.46,517.21 L686.89,517.41 L687.33,517.61 L687.76,517.80 L688.19,518.00 L688.63,518.20 L689.06,518.40 L689.49,518.60 L689.93,518.79 L690.36,518.99 L690.79,519.19 L691.23,519.38 L691.66,519.58 L692.10,519.78 L692.53,519.97 L692.97,520.17 L693.40,520.36 L693.83,520.56 L694.27,520.75 L694.70,520.95 L695.14,521.14 L695.57,521.34 L696.01,521.53 L696.45,521.72 L696.88,521.92 L697.32,522.11 L697.75,522.30 L698.19,522.50 L698.62,522.69 L699.06,522.88 L699.50,523.07 L699.93,523.26 L700.37,523.45 L700.81,523.64 L701.24,523.83 L701.68,524.02 L702.12,524.21 L702.56,524.40 L702.99,524.59 L703.43,524.78 L703.87,524.97 L704.31,525.16 L704.74,525.34 L705.18,525.53 L705.62,525.72 L706.06,525.90 L706.50,526.09 L706.94,526.28 L707.38,526.46 L707.81,526.65 L708.25,526.83 L708.69,527.02 L709.13,527.20 L709.57,527.38 L710.01,527.57 L710.45,527.75 L710.89,527.93 L711.33,528.11 L711.77,528.29 L712.21,528.47 L712.65,528.65 L713.09,528.83 L713.54,529.01 L713.98,529.19 L714.42,529.37 L714.86,529.55 L715.30,529.73 L715.74,529.90 L716.19,530.08 L716.63,530.26 L717.07,530.43 L717.51,530.61 L717.96,530.78 L718.40,530.96 L718.84,531.13 L719.29,531.31 L719.73,531.48 L720.17,531.65 L720.62,531.82 L721.06,531.99 L721.50,532.17 L721.95,532.34 L722.39,532.51 L722.84,532.68 L723.28,532.84 L723.73,533.01 L724.17,533.18 L724.62,533.35 L725.06,533.51 L725.51,533.68 L725.96,533.85 L726.40,534.01 L726.85,534.18 L727.30,534.34 L727.74,534.50 L728.19,534.67 L728.64,534.83 L729.08,534.99 L729.53,535.15 L729.98,535.31 L730.43,535.47 L730.88,535.63 L731.32,535.79 L731.77,535.95 L732.22,536.10 L732.67,536.26 L733.12,536.42 L733.57,536.57 L734.02,536.73 L734.47,536.88 L734.92,537.03 L735.37,537.19 L735.82,537.34 L736.27,537.49 L736.72,537.64 L737.17,537.79 L737.62,537.94 L738.07,538.09 L738.53,538.24 L738.98,538.39 L739.43,538.54 L739.88,538.68 L740.34,538.83 L740.79,538.97 L741.24,539.12 L741.69,539.26 L742.15,539.40 L742.60,539.55 L743.06,539.69 L743.51,539.83 L743.96,539.97 L744.42,540.11 L744.87,540.24 L745.33,540.38 L745.78,540.52 L746.24,540.65 L746.70,540.79 L747.15,540.92 L747.61,541.06 L748.06,541.19 L748.52,541.32 L748.98,541.45 L749.43,541.58 L749.89,541.71 L750.35,541.84 L750.81,541.97 L751.27,542.09 L751.72,542.22 L752.18,542.34 L752.64,542.46 L753.10,542.59 L753.56,542.71 L754.02,542.83 L754.48,542.95 L754.94,543.07 L755.40,543.18 L755.86,543.30 L756.32,543.42 L756.78,543.53 L757.24,543.64 L757.70,543.75 L758.17,543.87 L758.63,543.97 L759.09,544.08 L759.55,544.19 L760.02,544.30 L760.48,544.40 L760.94,544.51 L761.41,544.61 L761.87,544.71 L762.33,544.81 L762.80,544.91 L763.26,545.01 L763.73,545.11 L764.19,545.20 L764.66,545.30 L765.12,545.39 L765.59,545.48 L766.05,545.57 L766.52,545.66 L766.99,545.75 L767.45,545.84 L767.92,545.92 L768.39,546.01 L768.86,546.09 L769.32,546.17 L769.79,546.25 L770.26,546.33 L770.73,546.41 L771.20,546.48 L771.67,546.56 L772.14,546.63 L772.61,546.70 L773.08,546.77 L773.55,546.84 L774.02,546.91 L774.49,546.98 L774.96,547.04 L775.43,547.10 L775.90,547.17 L776.37,547.23 L776.85,547.28 L777.32,547.34 L777.79,547.40 L778.26,547.45 L778.74,547.50 L779.21,547.55 L779.68,547.60 L780.16,547.65 L780.63,547.70 L781.11,547.74 L781.58,547.79 L782.06,547.83 L782.53,547.87 L783.01,547.90 L783.48,547.94 L783.96,547.98 L784.44,548.01 L784.91,548.04 L785.39,548.07 L785.87,548.10 L786.35,548.12 L786.82,548.15 L787.30,548.17 L787.78,548.19 L788.26,548.21 L788.74,548.23 L789.22,548.24 L789.70,548.26 L790.18,548.27 L790.66,548.28 L791.14,548.29 L791.62,548.29 L792.10,548.30" stroke="#FF8000" />
<path d="M128.40,550.65 L128.68,550.28 L128.95,549.91 L129.23,549.54 L129.51,549.17 L129.78,548.80 L130.06,548.43 L130.33,548.05 L130.60,547.68 L130.88,547.30 L131.15,546.92 L131.42,546.55 L131.69,546.17 L131.97,545.79 L132.24,545.41 L132.51,545.03 L132.78,544.65 L133.05,544.27 L133.32,543.89 L133.59,543.50 L133.86,543.12 L134.13,542.74 L134.40,542.35 L134.67,541.97 L134.93,541.58 L135.20,541.20 L135.47,540.81 L135.74,540.42 L136.01,540.03 L136.28,539.65 L136.55,539.26 L136.81,538.87 L137.08,538.48 L137.35,538.09 L137.62,537.70 L137.89,537.31 L138.15,536.92 L138.42,536.53 L138.69,536.14 L138.96,535.75 L139.23,535.36 L139.49,534.97 L139.76,534.58 L140.03,534.19 L140.30,533.80 L140.57,533.41 L140.84,533.02 L141.11,532.63 L141.38,532.24 L141.65,531.85 L141.92,531.46 L142.19,531.07 L142.46,530.68 L142.73,530.29 L143.00,529.90 L143.27,529.51 L143.55,529.12 L143.82,528.73 L144.09,528.34 L144.37,527.95 L144.64,527.56 L144.91,527.18 L145.19,526.79 L145.46,526.40 L145.74,526.01 L146.02,525.63 L146.29,525.24 L146.57,524.86 L146.85,524.47 L147.13,524.09 L147.41,523.70 L147.69,523.32 L147.97,522.94 L148.25,522.56 L148.53,522.18 L148.81,521.79 L149.10,521.41 L149.38,521.04 L149.66,520.66 L149.95,520.28 L150.24,519.90 L150.52,519.53 L150.81,519.15 L151.10,518.78 L151.39,518.40 L151.68,518.03 L151.97,517.66 L152.26,517.29 L152.55,516.92 L152.85,516.55 L153.14,516.18 L153.44,515.81 L153.74,515.45 L154.03,515.08 L154.33,514.72 L154.63,514.36 L154.93,513.99 L155.24,513.63 L155.54,513.27 L155.84,512.92 L156.15,512.56 L156.45,512.20 L156.76,511.85 L157.07,511.50 L157.38,511.15 L157.69,510.80 L158.00,510.45 L158.32,510.10 L158.63,509.75 L158.95,509.41 L159.27,509.07 L159.58,508.72 L159.90,508.38 L160.23,508.05 L160.55,507.71 L160.87,507.37 L161.20,507.04 L161.53,506.71 L161.85,506.38 L162.18,506.05 L162.51,505.72 L162.85,505.39 L163.18,505.07 L163.52,504.75 L163.85,504.43 L164.19,504.11 L164.53,503.79 L164.87,503.48 L165.22,503.16 L165.56,502.85 L165.91,502.54 L166.26,502.24 L166.61,501.93 L166.96,501.63 L167.31,501.32 L167.66,501.02 L168.02,500.72 L168.37,500.42 L168.73,500.13 L169.09,499.83 L169.45,499.54 L169.81,499.25 L170.18,498.96 L170.54,498.67 L170.91,498.38 L171.27,498.10 L171.64,497.81 L172.01,497.53 L172.38,497.25 L172.75,496.97 L173.13,496.69 L173.50,496.41 L173.87,496.14 L174.25,495.86 L174.63,495.59 L175.01,495.32 L175.39,495.04 L175.77,494.77 L176.15,494.51 L176.53,494.24 L176.91,493.97 L177.30,493.71 L177.69,493.44 L178.07,493.18 L178.46,492.92 L178.85,492.66 L179.24,492.40 L179.63,492.14 L180.02,491.88 L180.41,491.63 L180.80,491.37 L181.20,491.12 L181.59,490.86 L181.99,490.61 L182.38,490.36 L182.78,490.11 L183.18,489.86 L183.58,489.61 L183.98,489.36 L184.38,489.11 L184.78,488.87 L185.18,488.62 L185.58,488.37 L185.98,488.13 L186.39,487.89 L186.79,487.64 L187.20,487.40 L187.60,487.16 L188.01,486.92 L188.41,486.68 L188.82,486.44 L189.23,486.20 L189.63,485.96 L190.04,485.72 L190.45,485.48 L190.86,485.25 L191.27,485.01 L191.68,484.77 L192.09,484.54 L192.50,484.30 L192.91,484.07 L193.32,483.83 L193.73,483.60 L194.15,483.36 L194.56,483.13 L194.97,482.90 L195.39,482.66 L195.80,482.43 L196.21,482.20 L196.63,481.97 L197.04,481.74 L197.45,481.50 L197.87,481.27 L198.28,481.04 L198.70,480.81 L199.11,480.58 L199.53,480.35 L199.94,480.12 L200.36,479.89 L200.77,479.65 L201.19,479.42 L201.60,479.19 L202.02,478.96 L202.43,478.73 L202.85,478.50 L203.26,478.27 L203.68,478.04 L204.10,477.81 L204.51,477.57 L204.93,477.34 L205.34,477.11 L205.76,476.88 L206.17,476.65 L206.58,476.41 L207.00,476.18 L207.41,475.95 L207.83,475.72 L208.24,475.48 L208.65,475.25 L209.07,475.01 L209.48,474.78 L209.89,474.55 L210.31,474.31 L210.72,474.07 L211.13,473.84 L211.54,473.60 L211.95,473.36 L212.36,473.13 L212.77,472.89 L213.18,472.65 L213.59,472.41 L214.00,472.17 L214.41,471.93 L214.82,471.69 L215.23,471.45 L215.63,471.21 L216.04,470.96 L216.44,470.72 L216.85,470.48 L217.26,470.23 L217.66,469.99 L218.06,469.74 L218.47,469.49 L218.87,469.24 L219.27,469.00 L219.67,468.75 L220.07,468.50 L220.47,468.24 L220.87,467.99 L221.27,467.74 L221.67,467.49 L222.07,467.23 L222.47,466.98 L222.86,466.73 L223.26,466.47 L223.66,466.22 L224.05,465.96 L224.45,465.70 L224.84,465.45 L225.24,465.19 L225.63,464.93 L226.03,464.67 L226.42,464.41 L226.81,464.15 L227.20,463.89 L227.60,463.63 L227.99,463.37 L228.38,463.11 L228.77,462.85 L229.16,462.59 L229.55,462.33 L229.95,462.07 L230.34,461.81 L230.73,461.54 L231.12,461.28 L231.51,461.02 L231.90,460.76 L232.29,460.49 L232.67,460.23 L233.06,459.97 L233.45,459.71 L233.84,459.44 L234.23,459.18 L234.62,458.92 L235.01,458.65 L235.40,458.39 L235.79,458.13 L236.17,457.87 L236.56,457.60 L236.95,457.34 L237.34,457.08 L237.73,456.81 L238.12,456.55 L238.50,456.29 L238.89,456.03 L239.28,455.77 L239.67,455.51 L240.06,455.24 L240.45,454.98 L240.84,454.72 L241.22,454.46 L241.61,454.20 L242.00,453.94 L242.39,453.68 L242.78,453.42 L243.17,453.16 L243.56,452.91 L243.95,452.65 L244.34,452.39 L244.73,452.13 L245.12,451.88 L245.51,451.62 L245.90,451.37 L246.30,451.11 L246.69,450.86 L247.08,450.60 L247.47,450.35 L247.87,450.10 L248.26,449.85 L248.65,449.59 L249.05,449.34 L249.44,449.09 L249.83,448.84 L250.23,448.60 L250.62,448.35 L251.02,448.10 L251.42,447.86 L251.81,447.61 L252.21,447.37 L252.61,447.12 L253.01,446.88 L253.40,446.64 L253.80,446.40 L254.20,446.16 L254.60,445.92 L255.00,445.68 L255.40,445.44 L255.81,445.20 L256.21,444.97 L256.61,444.73 L257.02,444.50 L257.42,444.27 L257.82,444.04 L258.23,443.81 L258.64,443.58 L259.04,443.35 L259.45,443.12 L259.86,442.90 L260.27,442.67 L260.68,442.45 L261.09,442.23 L261.50,442.01 L261.91,441.79 L262.32,441.57 L262.74,441.35 L263.15,441.14 L263.57,440.92 L263.98,440.71 L264.40,440.50 L264.82,440.29 L265.23,440.08 L265.65,439.87 L266.07,439.67 L266.49,439.46 L266.92,439.26 L267.34,439.06 L267.76,438.86 L268.19,438.66 L268.61,438.46 L269.04,438.27 L269.46,438.07 L269.89,437.88 L270.32,437.68 L270.75,437.49 L271.18,437.30 L271.61,437.11 L272.04,436.92 L272.47,436.73 L272.90,436.54 L273.33,436.35 L273.76,436.17 L274.19,435.98 L274.63,435.80 L275.06,435.61 L275.49,435.43 L275.93,435.24 L276.36,435.06 L276.80,434.88 L277.23,434.70 L277.67,434.51 L278.10,434.33 L278.54,434.15 L278.97,433.97 L279.41,433.79 L279.84,433.61 L280.28,433.43 L280.72,433.24 L281.15,433.06 L281.59,432.88 L282.03,432.70 L282.46,432.52 L282.90,432.34 L283.33,432.16 L283.77,431.98 L284.20,431.79 L284.64,431.61 L285.08,431.43 L285.51,431.25 L285.95,431.06 L286.38,430.88 L286.81,430.69 L287.25,430.51 L287.68,430.32 L288.12,430.14 L288.55,429.95 L288.98,429.76 L289.41,429.57 L289.85,429.38 L290.28,429.19 L290.71,429.00 L291.14,428.81 L291.57,428.61 L292.00,428.42 L292.43,428.22 L292.85,428.03 L293.28,427.83 L293.71,427.63 L294.13,427.43 L294.56,427.23 L294.98,427.03 L295.41,426.82 L295.83,426.62 L296.25,426.41 L296.68,426.20 L297.10,426.00 L297.52,425.79 L297.94,425.58 L298.36,425.37 L298.79,425.16 L299.21,424.95 L299.63,424.73 L300.05,424.52 L300.47,424.31 L300.89,424.10 L301.31,423.88 L301.73,423.67 L302.15,423.45 L302.57,423.24 L302.99,423.03 L303.41,422.81 L303.83,422.60 L304.26,422.38 L304.68,422.17 L305.10,421.95 L305.52,421.74 L305.95,421.52 L306.37,421.31 L306.79,421.10 L307.22,420.88 L307.64,420.67 L308.07,420.46 L308.50,420.25 L308.92,420.04 L309.35,419.83 L309.78,419.62 L310.21,419.41 L310.64,419.20 L311.07,419.00 L311.50,418.79 L311.93,418.59 L312.36,418.38 L312.79,418.18 L313.22,417.98 L313.66,417.78 L314.09,417.58 L314.52,417.39 L314.96,417.19 L315.39,417.00 L315.83,416.80 L316.26,416.61 L316.70,416.42 L317.13,416.24 L317.57,416.05 L318.01,415.87 L318.45,415.69 L318.89,415.51 L319.33,415.33 L319.77,415.16 L320.21,414.98 L320.65,414.81 L321.09,414.64 L321.53,414.48 L321.97,414.31 L322.41,414.15 L322.86,414.00 L323.30,413.84 L323.75,413.69 L324.19,413.54 L324.64,413.39 L325.08,413.24 L325.53,413.10 L325.97,412.96 L326.42,412.83 L326.87,412.69 L327.32,412.56 L327.77,412.44 L328.21,412.31 L328.66,412.19 L329.11,412.08 L329.56,411.96 L330.02,411.85 L330.47,411.75 L330.92,411.65 L331.37,411.55 L331.82,411.45 L332.28,411.36 L332.73,411.27 L333.18,411.19 L333.64,411.11 L334.09,411.04 L334.55,410.97 L335.01,410.90 L335.46,410.84 L335.92,410.78 L336.38,410.72 L336.83,410.67 L337.29,410.63 L337.75,410.59 L338.21,410.55 L338.67,410.52 L339.13,410.49 L339.59,410.47 L340.05,410.45 L340.51,410.44 L340.98,410.43 L341.44,410.43 L341.90,410.43 L342.36,410.44 L342.83,410.45 L343.29,410.46 L343.75,410.48 L344.22,410.51 L344.68,410.54 L345.15,410.57 L345.61,410.61 L346.07,410.65 L346.54,410.70 L347.00,410.75 L347.47,410.80 L347.93,410.86 L348.40,410.92 L348.86,410.99 L349.33,411.06 L349.79,411.13 L350.25,411.21 L350.72,411.29 L351.18,411.38 L351.65,411.47 L352.11,411.56 L352.57,411.66 L353.03,411.76 L353.50,411.86 L353.96,411.97 L354.42,412.08 L354.88,412.19 L355.34,412.31 L355.80,412.43 L356.26,412.55 L356.72,412.68 L357.18,412.81 L357.64,412.94 L358.09,413.08 L358.55,413.22 L359.00,413.36 L359.46,413.51 L359.91,413.66 L360.37,413.81 L360.82,413.96 L361.27,414.12 L361.72,414.27 L362.17,414.43 L362.62,414.60 L363.07,414.77 L363.52,414.93 L363.96,415.11 L364.41,415.28 L364.85,415.45 L365.30,415.63 L365.74,415.81 L366.18,416.00 L366.62,416.18 L367.06,416.37 L367.49,416.56 L367.93,416.75 L368.36,416.94 L368.80,417.13 L369.23,417.33 L369.66,417.53 L370.09,417.73 L370.52,417.93 L370.94,418.13 L371.37,418.34 L371.79,418.55 L372.22,418.76 L372.64,418.97 L373.06,419.18 L373.48,419.39 L373.90,419.61 L374.32,419.83 L374.73,420.05 L375.15,420.27 L375.56,420.49 L375.97,420.72 L376.39,420.94 L376.80,421.17 L377.20,421.40 L377.61,421.63 L378.02,421.87 L378.43,422.10 L378.83,422.34 L379.24,422.57 L379.64,422.81 L380.04,423.05 L380.44,423.29 L380.84,423.54 L381.24,423.78 L381.64,424.03 L382.03,424.28 L382.43,424.53 L382.83,424.78 L383.22,425.03 L383.61,425.28 L384.00,425.54 L384.40,425.79 L384.79,426.05 L385.17,426.31 L385.56,426.57 L385.95,426.83 L386.34,427.09 L386.72,427.36 L387.11,427.62 L387.49,427.89 L387.88,428.16 L388.26,428.43 L388.64,428.70 L389.02,428.97 L389.40,429.24 L389.78,429.51 L390.16,429.79 L390.53,430.06 L390.91,430.34 L391.29,430.62 L391.66,430.90 L392.04,431.18 L392.41,431.46 L392.78,431.74 L393.16,432.03 L393.53,432.31 L393.90,432.60 L394.27,432.88 L394.64,433.17 L395.01,433.46 L395.38,433.75 L395.74,434.04 L396.11,434.33 L396.48,434.62 L396.84,434.91 L397.21,435.21 L397.57,435.50 L397.94,435.80 L398.30,436.09 L398.67,436.39 L399.03,436.69 L399.39,436.99 L399.75,437.29 L400.11,437.59 L400.47,437.89 L400.83,438.19 L401.19,438.49 L401.55,438.80 L401.91,439.10 L402.27,439.40 L402.62,439.71 L402.98,440.01 L403.34,440.32 L403.69,440.63 L404.05,440.94 L404.40,441.24 L404.76,441.55 L405.11,441.86 L405.47,442.17 L405.82,442.48 L406.18,442.79 L406.53,443.10 L406.88,443.42 L407.23,443.73 L407.59,444.04 L407.94,444.35 L408.29,444.67 L408.64,444.98 L408.99,445.30 L409.34,445.61 L409.69,445.93 L410.04,446.24 L410.39,446.56 L410.74,446.87 L411.09,447.19 L411.44,447.51 L411.79,447.82 L412.14,448.14 L412.49,448.46 L412.84,448.78 L413.19,449.10 L413.53,449.41 L413.88,449.73 L414.23,450.05 L414.58,450.37 L414.93,450.69 L415.27,451.01 L415.62,451.33 L415.97,451.65 L416.32,451.97 L416.66,452.29 L417.01,452.61 L417.36,452.93 L417.70,453.25 L418.05,453.56 L418.40,453.88 L418.75,454.20 L419.09,454.52 L419.44,454.84 L419.79,455.16 L420.13,455.48 L420.48,455.80 L420.83,456.12 L421.18,456.44 L421.52,456.76 L421.87,457.08 L422.22,457.40 L422.57,457.72 L422.91,458.04 L423.26,458.35 L423.61,458.67 L423.96,458.99 L424.31,459.31 L424.65,459.63 L425.00,459.94 L425.35,460.26 L425.70,460.58 L426.05,460.89 L426.40,461.21 L426.75,461.53 L427.10,461.84 L427.45,462.16 L427.80,462.47 L428.15,462.79 L428.50,463.10 L428.85,463.42 L429.20,463.73 L429.55,464.05 L429.90,464.36 L430.25,464.67 L430.60,464.99 L430.95,465.30 L431.31,465.61 L431.66,465.93 L432.01,466.24 L432.36,466.55 L432.71,466.86 L433.07,467.17 L433.42,467.49 L433.77,467.80 L434.12,468.11 L434.48,468.42 L434.83,468.73 L435.18,469.04 L435.54,469.35 L435.89,469.66 L436.25,469.97 L436.60,470.28 L436.95,470.59 L437.31,470.89 L437.66,471.20 L438.02,471.51 L438.37,471.82 L438.73,472.13 L439.09,472.43 L439.44,472.74 L439.80,473.05 L440.15,473.35 L440.51,473.66 L440.87,473.97 L441.22,474.27 L441.58,474.58 L441.94,474.88 L442.29,475.19 L442.65,475.49 L443.01,475.80 L443.37,476.10 L443.73,476.40 L444.08,476.71 L444.44,477.01 L444.80,477.31 L445.16,477.62 L445.52,477.92 L445.88,478.22 L446.24,478.52 L446.60,478.83 L446.96,479.13 L447.32,479.43 L447.68,479.73 L448.04,480.03 L448.40,480.33 L448.76,480.63 L449.12,480.93 L449.49,481.23 L449.85,481.53 L450.21,481.83 L450.57,482.13 L450.93,482.42 L451.30,482.72 L451.66,483.02 L452.02,483.32 L452.39,483.61 L452.75,483.91 L453.12,484.21 L453.48,484.50 L453.84,484.80 L454.21,485.10 L454.57,485.39 L454.94,485.69 L455.30,485.98 L455.67,486.27 L456.04,486.57 L456.40,486.86 L456.77,487.16 L457.13,487.45 L457.50,487.74 L457.87,488.04 L458.24,488.33 L458.60,488.62 L458.97,488.91 L459.34,489.20 L459.71,489.49 L460.08,489.79 L460.45,490.08 L460.82,490.37 L461.18,490.66 L461.55,490.95 L461.92,491.24 L462.29,491.53 L462.66,491.81 L463.04,492.10 L463.41,492.39 L463.78,492.68 L464.15,492.97 L464.52,493.25 L464.89,493.54 L465.27,493.83 L465.64,494.11 L466.01,494.40 L466.38,494.68 L466.76,494.97 L467.13,495.26 L467.51,495.54 L467.88,495.82 L468.25,496.11 L468.63,496.39 L469.00,496.68 L469.38,496.96 L469.76,497.24 L470.13,497.52 L470.51,497.81 L470.88,498.09 L471.26,498.37 L471.64,498.65 L472.02,498.93 L472.39,499.21 L472.77,499.49 L473.15,499.77 L473.53,500.05 L473.91,500.33 L474.29,500.61 L474.67,500.89 L475.05,501.17 L475.43,501.45 L475.81,501.72 L476.19,502.00 L476.57,502.28 L476.95,502.55 L477.33,502.83 L477.71,503.11 L478.09,503.38 L478.48,503.66 L478.86,503.93 L479.24,504.21 L479.63,504.48 L480.01,504.76 L480.39,505.03 L480.78,505.30 L481.16,505.58 L481.55,505.85 L481.93,506.12 L482.32,506.39 L482.71,506.66 L483.09,506.93 L483.48,507.20 L483.87,507.47 L484.25,507.74 L484.64,508.01 L485.03,508.28 L485.42,508.55 L485.81,508.81 L486.20,509.08 L486.59,509.35 L486.98,509.61 L487.37,509.87 L487.76,510.14 L488.15,510.40 L488.54,510.66 L488.94,510.92 L489.33,511.18 L489.72,511.44 L490.12,511.70 L490.51,511.96 L490.91,512.22 L491.30,512.47 L491.70,512.73 L492.10,512.98 L492.49,513.23 L492.89,513.49 L493.29,513.74 L493.69,513.99 L494.09,514.24 L494.49,514.48 L494.89,514.73 L495.29,514.98 L495.69,515.22 L496.09,515.46 L496.50,515.71 L496.90,515.95 L497.30,516.19 L497.71,516.42 L498.11,516.66 L498.52,516.90 L498.93,517.13 L499.33,517.37 L499.74,517.60 L500.15,517.83 L500.56,518.06 L500.97,518.28 L501.38,518.51 L501.79,518.74 L502.20,518.96 L502.62,519.18 L503.03,519.40 L503.45,519.62 L503.86,519.84 L504.28,520.05 L504.69,520.27 L505.11,520.48 L505.53,520.69 L505.95,520.90 L506.37,521.11 L506.79,521.31 L507.21,521.52 L507.63,521.72 L508.05,521.92 L508.48,522.12 L508.90,522.31 L509.33,522.51 L509.75,522.70 L510.18,522.89 L510.61,523.08 L511.03,523.27 L511.46,523.46 L511.89,523.64 L512.33,523.82 L512.76,524.00 L513.19,524.18 L513.62,524.36 L514.06,524.53 L514.49,524.71 L514.93,524.88 L515.36,525.05 L515.80,525.22 L516.24,525.39 L516.67,525.56 L517.11,525.72 L517.55,525.88 L517.99,526.05 L518.43,526.21 L518.87,526.37 L519.31,526.53 L519.76,526.68 L520.20,526.84 L520.64,526.99 L521.09,527.15 L521.53,527.30 L521.98,527.45 L522.42,527.60 L522.87,527.75 L523.31,527.90 L523.76,528.05 L524.21,528.20 L524.65,528.34 L525.10,528.49 L525.55,528.63 L526.00,528.77 L526.45,528.92 L526.90,529.06 L527.34,529.20 L527.79,529.34 L528.24,529.48 L528.70,529.62 L529.15,529.76 L529.60,529.90 L530.05,530.03 L530.50,530.17 L530.95,530.31 L531.40,530.44 L531.86,530.58 L532.31,530.71 L532.76,530.85 L533.21,530.98 L533.67,531.12 L534.12,531.25 L534.57,531.39 L535.02,531.52 L535.48,531.65 L535.93,531.79 L536.38,531.92 L536.84,532.05 L537.29,532.18 L537.74,532.32 L538.20,532.45 L538.65,532.58 L539.10,532.72 L539.56,532.85 L540.01,532.98 L540.46,533.12 L540.92,533.25 L541.37,533.39 L541.82,533.52 L542.28,533.65 L542.73,533.79 L543.18,533.92 L543.64,534.06 L544.09,534.19 L544.54,534.33 L545.00,534.46 L545.45,534.59 L545.90,534.73 L546.35,534.86 L546.81,535.00 L547.26,535.13 L547.71,535.27 L548.17,535.40 L548.62,535.54 L549.07,535.67 L549.52,535.81 L549.98,535.94 L550.43,536.08 L550.88,536.21 L551.33,536.34 L551.79,536.48 L552.24,536.61 L552.69,536.75 L553.15,536.88 L553.60,537.01 L554.05,537.15 L554.50,537.28 L554.96,537.42 L555.41,537.55 L555.86,537.68 L556.32,537.81 L556.77,537.95 L557.22,538.08 L557.67,538.21 L558.13,538.34 L558.58,538.47 L559.03,538.60 L559.49,538.74 L559.94,538.87 L560.39,539.00 L560.84,539.13 L561.30,539.26 L561.75,539.39 L562.20,539.52 L562.66,539.64 L563.11,539.77 L563.56,539.90 L564.02,540.03 L564.47,540.16 L564.93,540.28 L565.38,540.41 L565.83,540.53 L566.29,540.66 L566.74,540.79 L567.19,540.91 L567.65,541.03 L568.10,541.16 L568.56,541.28 L569.01,541.40 L569.47,541.53 L569.92,541.65 L570.37,541.77 L570.83,541.89 L571.28,542.01 L571.74,542.13 L572.19,542.25 L572.65,542.37 L573.10,542.48 L573.56,542.60 L574.01,542.72 L574.47,542.83 L574.92,542.95 L575.38,543.06 L575.84,543.18 L576.29,543.29 L576.75,543.40 L577.20,543.52 L577.66,543.63 L578.12,543.74 L578.57,543.85 L579.03,543.96 L579.49,544.07 L579.94,544.17 L580.40,544.28 L580.86,544.39 L581.31,544.49 L581.77,544.60 L582.23,544.70 L582.69,544.80 L583.14,544.91 L583.60,545.01 L584.06,545.11 L584.52,545.21 L584.98,545.31 L585.43,545.41 L585.89,545.50 L586.35,545.60 L586.81,545.69 L587.27,545.79 L587.73,545.88 L588.19,545.98 L588.65,546.07 L589.11,546.16 L589.57,546.25 L590.03,546.34 L590.49,546.42 L590.95,546.51 L591.41,546.60 L591.87,546.68 L592.33,546.76 L592.79,546.85 L593.25,546.93 L593.72,547.01 L594.18,547.09 L594.64,547.17 L595.10,547.25 L595.57,547.32 L596.03,547.40 L596.49,547.47 L596.95,547.54 L597.42,547.62 L597.88,547.69 L598.34,547.76 L598.81,547.82 L599.27,547.89 L599.74,547.96 L600.20,548.02 L600.67,548.08 L601.13,548.15 L601.60,548.21 L602.06,548.27 L602.53,548.33 L602.99,548.38 L603.46,548.44 L603.92,548.50 L604.39,548.55 L604.86,548.60 L605.32,548.66 L605.79,548.71 L606.26,548.76 L606.73,548.81 L607.19,548.85 L607.66,548.90 L608.13,548.95 L608.60,548.99 L609.07,549.04 L609.53,549.08 L610.00,549.12 L610.47,549.16 L610.94,549.20 L611.41,549.24 L611.88,549.28 L612.35,549.32 L612.82,549.36 L613.29,549.39 L613.76,549.43 L614.23,549.46 L614.70,549.49 L615.17,549.53 L615.64,549.56 L616.11,549.59 L616.58,549.62 L617.05,549.65 L617.52,549.68 L617.99,549.70 L618.46,549.73 L618.93,549.76 L619.40,549.78 L619.87,549.81 L620.34,549.83 L620.82,549.86 L621.29,549.88 L621.76,549.90 L622.23,549.92 L622.70,549.94 L623.17,549.97 L623.64,549.99 L624.12,550.00 L624.59,550.02 L625.06,550.04 L625.53,550.06 L626.00,550.08 L626.48,550.09 L626.95,550.11 L627.42,550.13 L627.89,550.14 L628.36,550.16 L628.84,550.17 L629.31,550.18 L629.78,550.20 L630.25,550.21 L630.73,550.22 L631.20,550.23 L631.67,550.25 L632.14,550.26 L632.62,550.27 L633.09,550.28 L633.56,550.29 L634.03,550.30 L634.51,550.31 L634.98,550.32 L635.45,550.33 L635.92,550.34 L636.40,550.35 L636.87,550.36 L637.34,550.36 L637.81,550.37 L638.28,550.38 L638.76,550.39 L639.23,550.40 L639.70,550.40 L640.17,550.41 L640.65,550.42 L641.12,550.42 L641.59,550.43 L642.06,550.44 L642.53,550.44 L643.01,550.45 L643.48,550.46 L643.95,550.46 L644.42,550.47 L644.89,550.47 L645.36,550.48 L645.84,550.49 L646.31,550.49 L646.78,550.50 L647.25,550.50 L647.72,550.51 L648.19,550.51 L648.66,550.52 L649.14,550.52 L649.61,550.53 L650.08,550.53 L650.55,550.53 L651.02,550.54 L651.49,550.54 L651.96,550.55 L652.43,550.55 L652.91,550.55 L653.38,550.56 L653.85,550.56 L654.32,550.56 L654.79,550.57 L655.26,550.57 L655.73,550.57 L656.20,550.58 L656.67,550.58 L657.14,550.58 L657.61,550.58 L658.08,550.59 L658.55,550.59 L659.03,550.59 L659.50,550.59 L659.97,550.60 L660.44,550.60 L660.91,550.60 L661.38,550.60 L661.85,550.60 L662.32,550.60 L662.79,550.61 L663.26,550.61 L663.73,550.61 L664.20,550.61 L664.67,550.61 L665.14,550.61 L665.61,550.61 L666.08,550.61 L666.55,550.61 L667.02,550.62 L667.49,550.62 L667.96,550.62 L668.43,550.62 L668.90,550.62 L669.37,550.62 L669.84,550.62 L670.31,550.62 L670.78,550.62 L671.25,550.62 L671.72,550.62 L672.19,550.62 L672.66,550.62 L673.13,550.62 L673.60,550.61 L674.07,550.61 L674.54,550.61 L675.01,550.61 L675.48,550.61 L675.95,550.61 L676.42,550.61 L676.89,550.61 L677.36,550.61 L677.83,550.61 L678.30,550.60 L678.76,550.60 L679.23,550.60 L679.70,550.60 L680.17,550.60 L680.64,550.60 L681.11,550.60 L681.58,550.59 L682.05,550.59 L682.52,550.59 L682.99,550.59 L683.46,550.59 L683.93,550.58 L684.40,550.58 L684.87,550.58 L685.34,550.58 L685.81,550.58 L686.27,550.57 L686.74,550.57 L687.21,550.57 L687.68,550.57 L688.15,550.56 L688.62,550.56 L689.09,550.56 L689.56,550.56 L690.03,550.55 L690.50,550.55 L690.97,550.55 L691.44,550.54 L691.90,550.54 L692.37,550.54 L692.84,550.54 L693.31,550.53 L693.78,550.53 L694.25,550.53 L694.72,550.52 L695.19,550.52 L695.66,550.52 L696.13,550.51 L696.60,550.51 L697.06,550.51 L697.53,550.50 L698.00,550.50 L698.47,550.50 L698.94,550.49 L699.41,550.49 L699.88,550.49 L700.35,550.48 L700.82,550.48 L701.28,550.48 L701.75,550.47 L702.22,550.47 L702.69,550.47 L703.16,550.46 L703.63,550.46 L704.10,550.46 L704.57,550.45 L705.04,550.45 L705.51,550.45 L705.97,550.44 L706.44,550.44 L706.91,550.43 L707.38,550.43 L707.85,550.43 L708.32,550.42 L708.79,550.42 L709.26,550.42 L709.73,550.41 L710.19,550.41 L710.66,550.40 L711.13,550.40 L711.60,550.40 L712.07,550.39 L712.54,550.39 L713.01,550.39 L713.48,550.38 L713.95,550.38 L714.42,550.37 L714.88,550.37 L715.35,550.37 L715.82,550.36 L716.29,550.36 L716.76,550.36 L717.23,550.35 L717.70,550.35 L718.17,550.34 L718.64,550.34 L719.11,550.34 L719.57,550.33 L720.04,550.33 L720.51,550.33 L720.98,550.32 L721.45,550.32 L721.92,550.32 L722.39,550.31 L722.86,550.31 L723.33,550.30 L723.80,550.30 L724.27,550.30 L724.73,550.29 L725.20,550.29 L725.67,550.29 L726.14,550.28 L726.61,550.28 L727.08,550.28 L727.55,550.27 L728.02,550.27 L728.49,550.27 L728.96,550.26 L729.43,550.26 L729.90,550.26 L730.37,550.25 L730.83,550.25 L731.30,550.25 L731.77,550.25 L732.24,550.24 L732.71,550.24 L733.18,550.24 L733.65,550.23 L734.12,550.23 L734.59,550.23 L735.06,550.23 L735.53,550.22 L736.00,550.22 L736.47,550.22 L736.94,550.22 L737.41,550.21 L737.88,550.21 L738.35,550.21 L738.82,550.21 L739.29,550.20 L739.76,550.20 L740.23,550.20 L740.69,550.20 L741.16,550.19 L741.63,550.19 L742.10,550.19 L742.57,550.19 L743.04,550.19 L743.51,550.19 L743.98,550.18 L744.45,550.18 L744.92,550.18 L745.39,550.18 L745.86,550.18 L746.33,550.18 L746.80,550.17 L747.27,550.17 L747.74,550.17 L748.21,550.17 L748.68,550.17 L749.15,550.17 L749.62,550.17 L750.09,550.17 L750.57,550.17 L751.04,550.17 L751.51,550.17 L751.98,550.17 L752.45,550.16 L752.92,550.16 L753.39,550.16 L753.86,550.16 L754.33,550.16 L754.80,550.16 L755.27,550.16 L755.74,550.16 L756.21,550.16 L756.68,550.16 L757.15,550.16 L757.62,550.17 L758.09,550.17 L758.56,550.17 L759.04,550.17 L759.51,550.17 L759.98,550.17 L760.45,550.17 L760.92,550.17 L761.39,550.17 L761.86,550.17 L762.33,550.17 L762.80,550.18 L763.27,550.18 L763.75,550.18 L764.22,550.18 L764.69,550.18 L765.16,550.19 L765.63,550.19 L766.10,550.19 L766.57,550.19 L767.05,550.19 L767.52,550.20 L767.99,550.20 L768.46,550.20 L768.93,550.21 L769.40,550.21 L769.88,550.21 L770.35,550.21 L770.82,550.22 L771.29,550.22 L771.76,550.22 L772.23,550.23 L772.71,550.23 L773.18,550.24 L773.65,550.24 L774.12,550.24 L774.60,550.25 L775.07,550.25 L775.54,550.26 L776.01,550.26 L776.48,550.27 L776.96,550.27 L777.43,550.28 L777.90,550.28 L778.37,550.29 L778.85,550.29 L779.32,550.30 L779.79,550.30 L780.26,550.31 L780.74,550.32 L781.21,550.32 L781.68,550.33 L782.16,550.33 L782.63,550.34 L783.10,550.35 L783.58,550.35 L784.05,550.36 L784.52,550.37 L784.99,550.37 L785.47,550.38 L785.94,550.39 L786.41,550.40 L786.89,550.41 L787.36,550.41 L787.84,550.42 L788.31,550.43 L788.78,550.44 L789.26,550.45 L789.73,550.45 L790.20,550.46 L790.68,550.47 L791.15,550.48 L791.63,550.49 L792.10,550.50" stroke="#FF0000" stroke-dasharray="8.3 11.55"/>
<path d="M128.40,516.00 L128.81,515.98 L129.23,515.96 L129.64,515.93 L130.06,515.91 L130.47,515.89 L130.89,515.87 L131.30,515.84 L131.72,515.82 L132.13,515.80 L132.55,515.78 L132.96,515.76 L133.38,515.73 L133.79,515.71 L134.21,515.69 L134.62,515.67 L135.04,515.64 L135.45,515.62 L135.87,515.60 L136.28,515.58 L136.70,515.56 L137.11,515.53 L137.53,515.51 L137.94,515.49 L138.36,515.47 L138.77,515.44 L139.19,515.42 L139.60,515.40 L140.02,515.38 L140.43,515.35 L140.85,515.33 L141.26,515.31 L141.68,515.29 L142.09,515.26 L142.51,515.24 L142.92,515.22 L143.33,515.20 L143.75,515.17 L144.16,515.15 L144.58,515.13 L144.99,515.11 L145.41,515.08 L145.82,515.06 L146.24,515.04 L146.65,515.02 L147.07,514.99 L147.48,514.97 L147.90,514.95 L148.31,514.93 L148.73,514.90 L149.14,514.88 L149.56,514.86 L149.97,514.84 L150.39,514.81 L150.80,514.79 L151.22,514.77 L151.63,514.74 L152.05,514.72 L152.46,514.70 L152.88,514.68 L153.29,514.65 L153.71,514.63 L154.12,514.61 L154.54,514.59 L154.95,514.56 L155.37,514.54 L155.78,514.52 L156.20,514.49 L156.61,514.47 L157.02,514.45 L157.44,514.43 L157.85,514.40 L158.27,514.38 L158.68,514.36 L159.10,514.33 L159.51,514.31 L159.93,514.29 L160.34,514.27 L160.76,514.24 L161.17,514.22 L161.59,514.20 L162.00,514.17 L162.42,514.15 L162.83,514.13 L163.25,514.11 L163.66,514.08 L164.08,514.06 L164.49,514.04 L164.91,514.01 L165.32,513.99 L165.74,513.97 L166.15,513.94 L166.57,513.92 L166.98,513.90 L167.40,513.88 L167.81,513.85 L168.23,513.83 L168.64,513.81 L169.06,513.78 L169.47,513.76 L169.89,513.74 L170.30,513.71 L170.71,513.69 L171.13,513.67 L171.54,513.64 L171.96,513.62 L172.37,513.60 L172.79,513.58 L173.20,513.55 L173.62,513.53 L174.03,513.51 L174.45,513.48 L174.86,513.46 L175.28,513.44 L175.69,513.41 L176.11,513.39 L176.52,513.37 L176.94,513.34 L177.35,513.32 L177.77,513.30 L178.18,513.27 L178.60,513.25 L179.01,513.23 L179.43,513.20 L179.84,513.18 L180.26,513.16 L180.67,513.13 L181.09,513.11 L181.50,513.09 L181.92,513.06 L182.33,513.04 L182.75,513.02 L183.16,512.99 L183.57,512.97 L183.99,512.95 L184.40,512.92 L184.82,512.90 L185.23,512.88 L185.65,512.85 L186.06,512.83 L186.48,512.81 L186.89,512.78 L187.31,512.76 L187.72,512.74 L188.14,512.71 L188.55,512.69 L188.97,512.67 L189.38,512.64 L189.80,512.62 L190.21,512.60 L190.63,512.57 L191.04,512.55 L191.46,512.53 L191.87,512.50 L192.29,512.48 L192.70,512.46 L193.12,512.43 L193.53,512.41 L193.95,512.38 L194.36,512.36 L194.78,512.34 L195.19,512.31 L195.61,512.29 L196.02,512.27 L196.44,512.24 L196.85,512.22 L197.26,512.20 L197.68,512.17 L198.09,512.15 L198.51,512.13 L198.92,512.10 L199.34,512.08 L199.75,512.05 L200.17,512.03 L200.58,512.01 L201.00,511.98 L201.41,511.96 L201.83,511.94 L202.24,511.91 L202.66,511.89 L203.07,511.87 L203.49,511.84 L203.90,511.82 L204.32,511.79 L204.73,511.77 L205.15,511.75 L205.56,511.72 L205.98,511.70 L206.39,511.68 L206.81,511.65 L207.22,511.63 L207.64,511.60 L208.05,511.58 L208.47,511.56 L208.88,511.53 L209.29,511.51 L209.71,511.49 L210.12,511.46 L210.54,511.44 L210.95,511.41 L211.37,511.39 L211.78,511.37 L212.20,511.34 L212.61,511.32 L213.03,511.30 L213.44,511.27 L213.86,511.25 L214.27,511.22 L214.69,511.20 L215.10,511.18 L215.52,511.15 L215.93,511.13 L216.35,511.11 L216.76,511.08 L217.18,511.06 L217.59,511.03 L218.01,511.01 L218.42,510.99 L218.84,510.96 L219.25,510.94 L219.67,510.91 L220.08,510.89 L220.50,510.87 L220.91,510.84 L221.33,510.82 L221.74,510.79 L222.15,510.77 L222.57,510.75 L222.98,510.72 L223.40,510.70 L223.81,510.68 L224.23,510.65 L224.64,510.63 L225.06,510.60 L225.47,510.58 L225.89,510.56 L226.30,510.53 L226.72,510.51 L227.13,510.48 L227.55,510.46 L227.96,510.44 L228.38,510.41 L228.79,510.39 L229.21,510.36 L229.62,510.34 L230.04,510.32 L230.45,510.29 L230.87,510.27 L231.28,510.24 L231.70,510.22 L232.11,510.20 L232.53,510.17 L232.94,510.15 L233.36,510.12 L233.77,510.10 L234.19,510.08 L234.60,510.05 L235.01,510.03 L235.43,510.00 L235.84,509.98 L236.26,509.96 L236.67,509.93 L237.09,509.91 L237.50,509.88 L237.92,509.86 L238.33,509.84 L238.75,509.81 L239.16,509.79 L239.58,509.76 L239.99,509.74 L240.41,509.71 L240.82,509.69 L241.24,509.67 L241.65,509.64 L242.07,509.62 L242.48,509.59 L242.90,509.57 L243.31,509.55 L243.73,509.52 L244.14,509.50 L244.56,509.47 L244.97,509.45 L245.39,509.43 L245.80,509.40 L246.22,509.38 L246.63,509.35 L247.05,509.33 L247.46,509.31 L247.87,509.28 L248.29,509.26 L248.70,509.23 L249.12,509.21 L249.53,509.18 L249.95,509.16 L250.36,509.14 L250.78,509.11 L251.19,509.09 L251.61,509.06 L252.02,509.04 L252.44,509.02 L252.85,508.99 L253.27,508.97 L253.68,508.94 L254.10,508.92 L254.51,508.89 L254.93,508.87 L255.34,508.85 L255.76,508.82 L256.17,508.80 L256.59,508.77 L257.00,508.75 L257.42,508.73 L257.83,508.70 L258.25,508.68 L258.66,508.65 L259.08,508.63 L259.49,508.60 L259.91,508.58 L260.32,508.56 L260.73,508.53 L261.15,508.51 L261.56,508.48 L261.98,508.46 L262.39,508.43 L262.81,508.41 L263.22,508.39 L263.64,508.36 L264.05,508.34 L264.47,508.31 L264.88,508.29 L265.30,508.27 L265.71,508.24 L266.13,508.22 L266.54,508.19 L266.96,508.17 L267.37,508.14 L267.79,508.12 L268.20,508.10 L268.62,508.07 L269.03,508.05 L269.45,508.02 L269.86,508.00 L270.28,507.97 L270.69,507.95 L271.11,507.93 L271.52,507.90 L271.94,507.88 L272.35,507.85 L272.77,507.83 L273.18,507.81 L273.59,507.78 L274.01,507.76 L274.42,507.73 L274.84,507.71 L275.25,507.68 L275.67,507.66 L276.08,507.64 L276.50,507.61 L276.91,507.59 L277.33,507.56 L277.74,507.54 L278.16,507.51 L278.57,507.49 L278.99,507.47 L279.40,507.44 L279.82,507.42 L280.23,507.39 L280.65,507.37 L281.06,507.34 L281.48,507.32 L281.89,507.30 L282.31,507.27 L282.72,507.25 L283.14,507.22 L283.55,507.20 L283.97,507.17 L284.38,507.15 L284.80,507.13 L285.21,507.10 L285.63,507.08 L286.04,507.05 L286.45,507.03 L286.87,507.01 L287.28,506.98 L287.70,506.96 L288.11,506.93 L288.53,506.91 L288.94,506.88 L289.36,506.86 L289.77,506.84 L290.19,506.81 L290.60,506.79 L291.02,506.76 L291.43,506.74 L291.85,506.71 L292.26,506.69 L292.68,506.67 L293.09,506.64 L293.51,506.62 L293.92,506.59 L294.34,506.57 L294.75,506.54 L295.17,506.52 L295.58,506.50 L296.00,506.47 L296.41,506.45 L296.83,506.42 L297.24,506.40 L297.66,506.38 L298.07,506.35 L298.49,506.33 L298.90,506.30 L299.32,506.28 L299.73,506.25 L300.14,506.23 L300.56,506.21 L300.97,506.18 L301.39,506.16 L301.80,506.13 L302.22,506.11 L302.63,506.08 L303.05,506.06 L303.46,506.04 L303.88,506.01 L304.29,505.99 L304.71,505.96 L305.12,505.94 L305.54,505.92 L305.95,505.89 L306.37,505.87 L306.78,505.84 L307.20,505.82 L307.61,505.79 L308.03,505.77 L308.44,505.75 L308.86,505.72 L309.27,505.70 L309.69,505.67 L310.10,505.65 L310.52,505.62 L310.93,505.60 L311.35,505.58 L311.76,505.55 L312.18,505.53 L312.59,505.50 L313.01,505.48 L313.42,505.46 L313.83,505.43 L314.25,505.41 L314.66,505.38 L315.08,505.36 L315.49,505.33 L315.91,505.31 L316.32,505.29 L316.74,505.26 L317.15,505.24 L317.57,505.21 L317.98,505.19 L318.40,505.17 L318.81,505.14 L319.23,505.12 L319.64,505.09 L320.06,505.07 L320.47,505.05 L320.89,505.02 L321.30,505.00 L321.72,504.97 L322.13,504.95 L322.55,504.92 L322.96,504.90 L323.38,504.88 L323.79,504.85 L324.21,504.83 L324.62,504.80 L325.04,504.78 L325.45,504.76 L325.87,504.73 L326.28,504.71 L326.70,504.68 L327.11,504.66 L327.53,504.64 L327.94,504.61 L328.36,504.59 L328.77,504.56 L329.18,504.54 L329.60,504.52 L330.01,504.49 L330.43,504.47 L330.84,504.44 L331.26,504.42 L331.67,504.40 L332.09,504.37 L332.50,504.35 L332.92,504.32 L333.33,504.30 L333.75,504.28 L334.16,504.25 L334.58,504.23 L334.99,504.20 L335.41,504.18 L335.82,504.16 L336.24,504.13 L336.65,504.11 L337.07,504.08 L337.48,504.06 L337.90,504.04 L338.31,504.01 L338.73,503.99 L339.14,503.96 L339.56,503.94 L339.97,503.92 L340.39,503.89 L340.80,503.87 L341.22,503.84 L341.63,503.82 L342.05,503.80 L342.46,503.77 L342.88,503.75 L343.29,503.72 L343.71,503.70 L344.12,503.68 L344.53,503.65 L344.95,503.63 L345.36,503.60 L345.78,503.58 L346.19,503.56 L346.61,503.53 L347.02,503.51 L347.44,503.49 L347.85,503.46 L348.27,503.44 L348.68,503.41 L349.10,503.39 L349.51,503.37 L349.93,503.34 L350.34,503.32 L350.76,503.29 L351.17,503.27 L351.59,503.25 L352.00,503.22 L352.42,503.20 L352.83,503.18 L353.25,503.15 L353.66,503.13 L354.08,503.10 L354.49,503.08 L354.91,503.06 L355.32,503.03 L355.74,503.01 L356.15,502.98 L356.57,502.96 L356.98,502.94 L357.40,502.91 L357.81,502.89 L358.23,502.87 L358.64,502.84 L359.06,502.82 L359.47,502.79 L359.89,502.77 L360.30,502.75 L360.72,502.72 L361.13,502.70 L361.54,502.68 L361.96,502.65 L362.37,502.63 L362.79,502.61 L363.20,502.58 L363.62,502.56 L364.03,502.53 L364.45,502.51 L364.86,502.49 L365.28,502.46 L365.69,502.44 L366.11,502.42 L366.52,502.39 L366.94,502.37 L367.35,502.35 L367.77,502.32 L368.18,502.30 L368.60,502.27 L369.01,502.25 L369.43,502.23 L369.84,502.20 L370.26,502.18 L370.67,502.16 L371.09,502.13 L371.50,502.11 L371.92,502.09 L372.33,502.06 L372.75,502.04 L373.16,502.02 L373.58,501.99 L373.99,501.97 L374.41,501.95 L374.82,501.92 L375.24,501.90 L375.65,501.87 L376.07,501.85 L376.48,501.83 L376.90,501.80 L377.31,501.78 L377.73,501.76 L378.14,501.73 L378.56,501.71 L378.97,501.69 L379.39,501.66 L379.80,501.64 L380.21,501.62 L380.63,501.59 L381.04,501.57 L381.46,501.55 L381.87,501.52 L382.29,501.50 L382.70,501.48 L383.12,501.45 L383.53,501.43 L383.95,501.41 L384.36,501.38 L384.78,501.36 L385.19,501.34 L385.61,501.31 L386.02,501.29 L386.44,501.27 L386.85,501.24 L387.27,501.22 L387.68,501.20 L388.10,501.17 L388.51,501.15 L388.93,501.13 L389.34,501.10 L389.76,501.08 L390.17,501.06 L390.59,501.03 L391.00,501.01 L391.42,500.99 L391.83,500.96 L392.25,500.94 L392.66,500.92 L393.08,500.90 L393.49,500.87 L393.91,500.85 L394.32,500.83 L394.74,500.80 L395.15,500.78 L395.57,500.76 L395.98,500.73 L396.40,500.71 L396.81,500.69 L397.23,500.66 L397.64,500.64 L398.06,500.62 L398.47,500.59 L398.89,500.57 L399.30,500.55 L399.72,500.53 L400.13,500.50 L400.55,500.48 L400.96,500.46 L401.38,500.43 L401.79,500.41 L402.20,500.39 L402.62,500.36 L403.03,500.34 L403.45,500.32 L403.86,500.30 L404.28,500.27 L404.69,500.25 L405.11,500.23 L405.52,500.20 L405.94,500.18 L406.35,500.16 L406.77,500.14 L407.18,500.11 L407.60,500.09 L408.01,500.07 L408.43,500.04 L408.84,500.02 L409.26,500.00 L409.67,499.98 L410.09,499.95 L410.50,499.93 L410.92,499.91 L411.33,499.88 L411.75,499.86 L412.16,499.84 L412.58,499.82 L412.99,499.79 L413.41,499.77 L413.82,499.75 L414.24,499.73 L414.65,499.70 L415.07,499.68 L415.48,499.66 L415.90,499.63 L416.31,499.61 L416.73,499.59 L417.14,499.57 L417.56,499.54 L417.97,499.52 L418.39,499.50 L418.80,499.48 L419.22,499.45 L419.63,499.43 L420.05,499.41 L420.46,499.39 L420.88,499.36 L421.29,499.34 L421.71,499.32 L422.12,499.30 L422.54,499.27 L422.95,499.25 L423.37,499.23 L423.78,499.21 L424.20,499.18 L424.61,499.16 L425.03,499.14 L425.44,499.12 L425.86,499.09 L426.27,499.07 L426.69,499.05 L427.10,499.03 L427.52,499.00 L427.93,498.98 L428.35,498.96 L428.76,498.94 L429.18,498.92 L429.59,498.89 L430.01,498.87 L430.42,498.85 L430.83,498.83 L431.25,498.80 L431.66,498.78 L432.08,498.76 L432.49,498.74 L432.91,498.71 L433.32,498.69 L433.74,498.67 L434.15,498.65 L434.57,498.63 L434.98,498.60 L435.40,498.58 L435.81,498.56 L436.23,498.54 L436.64,498.52 L437.06,498.49 L437.47,498.47 L437.89,498.45 L438.30,498.43 L438.72,498.40 L439.13,498.38 L439.55,498.36 L439.96,498.34 L440.38,498.32 L440.79,498.29 L441.21,498.27 L441.62,498.25 L442.04,498.23 L442.45,498.21 L442.87,498.18 L443.28,498.16 L443.70,498.14 L444.11,498.12 L444.53,498.10 L444.94,498.07 L445.36,498.05 L445.77,498.03 L446.19,498.01 L446.60,497.99 L447.02,497.97 L447.43,497.94 L447.85,497.92 L448.26,497.90 L448.68,497.88 L449.09,497.86 L449.51,497.83 L449.92,497.81 L450.34,497.79 L450.75,497.77 L451.17,497.75 L451.58,497.73 L452.00,497.70 L452.41,497.68 L452.83,497.66 L453.24,497.64 L453.66,497.62 L454.07,497.60 L454.49,497.57 L454.90,497.55 L455.32,497.53 L455.73,497.51 L456.15,497.49 L456.56,497.47 L456.98,497.45 L457.39,497.42 L457.81,497.40 L458.22,497.38 L458.64,497.36 L459.05,497.34 L459.47,497.32 L459.88,497.29 L460.30,497.27 L460.71,497.25 L461.13,497.23 L461.54,497.21 L461.96,497.19 L462.37,497.17 L462.79,497.15 L463.20,497.12 L463.62,497.10 L464.03,497.08 L464.45,497.06 L464.86,497.04 L465.28,497.02 L465.69,497.00 L466.11,496.97 L466.52,496.95 L466.94,496.93 L467.35,496.91 L467.77,496.89 L468.18,496.87 L468.60,496.85 L469.01,496.83 L469.43,496.81 L469.84,496.78 L470.26,496.76 L470.67,496.74 L471.09,496.72 L471.50,496.70 L471.92,496.68 L472.33,496.66 L472.75,496.64 L473.16,496.62 L473.58,496.59 L473.99,496.57 L474.41,496.55 L474.82,496.53 L475.24,496.51 L475.65,496.49 L476.07,496.47 L476.48,496.45 L476.90,496.43 L477.31,496.41 L477.73,496.39 L478.14,496.36 L478.56,496.34 L478.97,496.32 L479.39,496.30 L479.80,496.28 L480.22,496.26 L480.63,496.24 L481.05,496.22 L481.46,496.20 L481.88,496.18 L482.29,496.16 L482.71,496.14 L483.12,496.12 L483.54,496.10 L483.95,496.07 L484.37,496.05 L484.78,496.03 L485.20,496.01 L485.61,495.99 L486.03,495.97 L486.44,495.95 L486.86,495.93 L487.27,495.91 L487.69,495.89 L488.10,495.87 L488.52,495.85 L488.93,495.83 L489.35,495.81 L489.76,495.79 L490.18,495.77 L490.59,495.75 L491.01,495.73 L491.42,495.71 L491.84,495.69 L492.25,495.67 L492.67,495.65 L493.08,495.62 L493.50,495.60 L493.91,495.58 L494.33,495.56 L494.74,495.54 L495.16,495.52 L495.57,495.50 L495.99,495.48 L496.40,495.46 L496.82,495.44 L497.23,495.42 L497.65,495.40 L498.06,495.38 L498.48,495.36 L498.89,495.34 L499.31,495.32 L499.72,495.30 L500.14,495.28 L500.55,495.26 L500.97,495.24 L501.38,495.22 L501.80,495.20 L502.21,495.18 L502.63,495.16 L503.04,495.14 L503.46,495.12 L503.87,495.10 L504.29,495.08 L504.70,495.06 L505.12,495.04 L505.53,495.02 L505.95,495.00 L506.36,494.98 L506.78,494.96 L507.19,494.94 L507.61,494.92 L508.02,494.91 L508.44,494.89 L508.85,494.87 L509.27,494.85 L509.68,494.83 L510.10,494.81 L510.51,494.79 L510.93,494.77 L511.34,494.75 L511.76,494.73 L512.17,494.71 L512.59,494.69 L513.00,494.67 L513.42,494.65 L513.83,494.63 L514.25,494.61 L514.66,494.59 L515.08,494.57 L515.49,494.55 L515.91,494.53 L516.32,494.51 L516.74,494.50 L517.15,494.48 L517.57,494.46 L517.98,494.44 L518.40,494.42 L518.81,494.40 L519.23,494.38 L519.64,494.36 L520.06,494.34 L520.47,494.32 L520.89,494.30 L521.30,494.28 L521.72,494.26 L522.13,494.25 L522.55,494.23 L522.96,494.21 L523.38,494.19 L523.80,494.17 L524.21,494.15 L524.63,494.13 L525.04,494.11 L525.46,494.09 L525.87,494.07 L526.29,494.06 L526.70,494.04 L527.12,494.02 L527.53,494.00 L527.95,493.98 L528.36,493.96 L528.78,493.94 L529.19,493.92 L529.61,493.90 L530.02,493.89 L530.44,493.87 L530.85,493.85 L531.27,493.83 L531.68,493.81 L532.10,493.79 L532.51,493.77 L532.93,493.75 L533.34,493.74 L533.76,493.72 L534.17,493.70 L534.59,493.68 L535.00,493.66 L535.42,493.64 L535.83,493.62 L536.25,493.61 L536.66,493.59 L537.08,493.57 L537.49,493.55 L537.91,493.53 L538.32,493.51 L538.74,493.50 L539.15,493.48 L539.57,493.46 L539.98,493.44 L540.40,493.42 L540.81,493.40 L541.23,493.39 L541.64,493.37 L542.06,493.35 L542.47,493.33 L542.89,493.31 L543.30,493.29 L543.72,493.28 L544.13,493.26 L544.55,493.24 L544.96,493.22 L545.38,493.20 L545.79,493.19 L546.21,493.17 L546.62,493.15 L547.04,493.13 L547.45,493.11 L547.87,493.10 L548.28,493.08 L548.70,493.06 L549.12,493.04 L549.53,493.02 L549.95,493.01 L550.36,492.99 L550.78,492.97 L551.19,492.95 L551.61,492.94 L552.02,492.92 L552.44,492.90 L552.85,492.88 L553.27,492.86 L553.68,492.85 L554.10,492.83 L554.51,492.81 L554.93,492.79 L555.34,492.78 L555.76,492.76 L556.17,492.74 L556.59,492.72 L557.00,492.71 L557.42,492.69 L557.83,492.67 L558.25,492.65 L558.66,492.64 L559.08,492.62 L559.49,492.60 L559.91,492.58 L560.32,492.57 L560.74,492.55 L561.15,492.53 L561.57,492.51 L561.98,492.50 L562.40,492.48 L562.81,492.46 L563.23,492.45 L563.64,492.43 L564.06,492.41 L564.47,492.39 L564.89,492.38 L565.30,492.36 L565.72,492.34 L566.14,492.33 L566.55,492.31 L566.97,492.29 L567.38,492.27 L567.80,492.26 L568.21,492.24 L568.63,492.22 L569.04,492.21 L569.46,492.19 L569.87,492.17 L570.29,492.16 L570.70,492.14 L571.12,492.12 L571.53,492.11 L571.95,492.09 L572.36,492.07 L572.78,492.06 L573.19,492.04 L573.61,492.02 L574.02,492.01 L574.44,491.99 L574.85,491.97 L575.27,491.96 L575.68,491.94 L576.10,491.92 L576.51,491.91 L576.93,491.89 L577.34,491.87 L577.76,491.86 L578.17,491.84 L578.59,491.82 L579.00,491.81 L579.42,491.79 L579.83,491.77 L580.25,491.76 L580.67,491.74 L581.08,491.73 L581.50,491.71 L581.91,491.69 L582.33,491.68 L582.74,491.66 L583.16,491.64 L583.57,491.63 L583.99,491.61 L584.40,491.60 L584.82,491.58 L585.23,491.56 L585.65,491.55 L586.06,491.53 L586.48,491.52 L586.89,491.50 L587.31,491.48 L587.72,491.47 L588.14,491.45 L588.55,491.44 L588.97,491.42 L589.38,491.40 L589.80,491.39 L590.21,491.37 L590.63,491.36 L591.04,491.34 L591.46,491.33 L591.87,491.31 L592.29,491.29 L592.71,491.28 L593.12,491.26 L593.54,491.25 L593.95,491.23 L594.37,491.22 L594.78,491.20 L595.20,491.19 L595.61,491.17 L596.03,491.15 L596.44,491.14 L596.86,491.12 L597.27,491.11 L597.69,491.09 L598.10,491.08 L598.52,491.06 L598.93,491.05 L599.35,491.03 L599.76,491.02 L600.18,491.00 L600.59,490.99 L601.01,490.97 L601.42,490.96 L601.84,490.94 L602.25,490.93 L602.67,490.91 L603.09,490.90 L603.50,490.88 L603.92,490.87 L604.33,490.85 L604.75,490.84 L605.16,490.82 L605.58,490.81 L605.99,490.79 L606.41,490.78 L606.82,490.76 L607.24,490.75 L607.65,490.73 L608.07,490.72 L608.48,490.70 L608.90,490.69 L609.31,490.67 L609.73,490.66 L610.14,490.64 L610.56,490.63 L610.97,490.61 L611.39,490.60 L611.80,490.58 L612.22,490.57 L612.63,490.56 L613.05,490.54 L613.47,490.53 L613.88,490.51 L614.30,490.50 L614.71,490.48 L615.13,490.47 L615.54,490.45 L615.96,490.44 L616.37,490.43 L616.79,490.41 L617.20,490.40 L617.62,490.38 L618.03,490.37 L618.45,490.36 L618.86,490.34 L619.28,490.33 L619.69,490.31 L620.11,490.30 L620.52,490.28 L620.94,490.27 L621.35,490.26 L621.77,490.24 L622.19,490.23 L622.60,490.21 L623.02,490.20 L623.43,490.19 L623.85,490.17 L624.26,490.16 L624.68,490.15 L625.09,490.13 L625.51,490.12 L625.92,490.10 L626.34,490.09 L626.75,490.08 L627.17,490.06 L627.58,490.05 L628.00,490.04 L628.41,490.02 L628.83,490.01 L629.24,490.00 L629.66,489.98 L630.07,489.97 L630.49,489.96 L630.91,489.94 L631.32,489.93 L631.74,489.92 L632.15,489.90 L632.57,489.89 L632.98,489.88 L633.40,489.86 L633.81,489.85 L634.23,489.84 L634.64,489.82 L635.06,489.81 L635.47,489.80 L635.89,489.78 L636.30,489.77 L636.72,489.76 L637.13,489.74 L637.55,489.73 L637.96,489.72 L638.38,489.71 L638.80,489.69 L639.21,489.68 L639.63,489.67 L640.04,489.65 L640.46,489.64 L640.87,489.63 L641.29,489.62 L641.70,489.60 L642.12,489.59 L642.53,489.58 L642.95,489.56 L643.36,489.55 L643.78,489.54 L644.19,489.53 L644.61,489.51 L645.02,489.50 L645.44,489.49 L645.86,489.48 L646.27,489.46 L646.69,489.45 L647.10,489.44 L647.52,489.43 L647.93,489.42 L648.35,489.40 L648.76,489.39 L649.18,489.38 L649.59,489.37 L650.01,489.35 L650.42,489.34 L650.84,489.33 L651.25,489.32 L651.67,489.31 L652.08,489.29 L652.50,489.28 L652.92,489.27 L653.33,489.26 L653.75,489.25 L654.16,489.23 L654.58,489.22 L654.99,489.21 L655.41,489.20 L655.82,489.19 L656.24,489.17 L656.65,489.16 L657.07,489.15 L657.48,489.14 L657.90,489.13 L658.31,489.12 L658.73,489.11 L659.15,489.09 L659.56,489.08 L659.98,489.07 L660.39,489.06 L660.81,489.05 L661.22,489.04 L661.64,489.02 L662.05,489.01 L662.47,489.00 L662.88,488.99 L663.30,488.98 L663.71,488.97 L664.13,488.96 L664.54,488.95 L664.96,488.93 L665.38,488.92 L665.79,488.91 L666.21,488.90 L666.62,488.89 L667.04,488.88 L667.45,488.87 L667.87,488.86 L668.28,488.85 L668.70,488.84 L669.11,488.82 L669.53,488.81 L669.94,488.80 L670.36,488.79 L670.77,488.78 L671.19,488.77 L671.61,488.76 L672.02,488.75 L672.44,488.74 L672.85,488.73 L673.27,488.72 L673.68,488.71 L674.10,488.70 L674.51,488.69 L674.93,488.68 L675.34,488.66 L675.76,488.65 L676.17,488.64 L676.59,488.63 L677.00,488.62 L677.42,488.61 L677.84,488.60 L678.25,488.59 L678.67,488.58 L679.08,488.57 L679.50,488.56 L679.91,488.55 L680.33,488.54 L680.74,488.53 L681.16,488.52 L681.57,488.51 L681.99,488.50 L682.40,488.49 L682.82,488.48 L683.24,488.47 L683.65,488.46 L684.07,488.45 L684.48,488.44 L684.90,488.43 L685.31,488.42 L685.73,488.41 L686.14,488.40 L686.56,488.39 L686.97,488.38 L687.39,488.37 L687.80,488.36 L688.22,488.36 L688.64,488.35 L689.05,488.34 L689.47,488.33 L689.88,488.32 L690.30,488.31 L690.71,488.30 L691.13,488.29 L691.54,488.28 L691.96,488.27 L692.37,488.26 L692.79,488.25 L693.20,488.24 L693.62,488.23 L694.04,488.23 L694.45,488.22 L694.87,488.21 L695.28,488.20 L695.70,488.19 L696.11,488.18 L696.53,488.17 L696.94,488.16 L697.36,488.15 L697.77,488.14 L698.19,488.14 L698.60,488.13 L699.02,488.12 L699.44,488.11 L699.85,488.10 L700.27,488.09 L700.68,488.08 L701.10,488.07 L701.51,488.07 L701.93,488.06 L702.34,488.05 L702.76,488.04 L703.17,488.03 L703.59,488.02 L704.01,488.02 L704.42,488.01 L704.84,488.00 L705.25,487.99 L705.67,487.98 L706.08,487.97 L706.50,487.97 L706.91,487.96 L707.33,487.95 L707.74,487.94 L708.16,487.93 L708.58,487.93 L708.99,487.92 L709.41,487.91 L709.82,487.90 L710.24,487.89 L710.65,487.89 L711.07,487.88 L711.48,487.87 L711.90,487.86 L712.31,487.86 L712.73,487.85 L713.14,487.84 L713.56,487.83 L713.98,487.82 L714.39,487.82 L714.81,487.81 L715.22,487.80 L715.64,487.79 L716.05,487.79 L716.47,487.78 L716.88,487.77 L717.30,487.76 L717.71,487.76 L718.13,487.75 L718.55,487.74 L718.96,487.74 L719.38,487.73 L719.79,487.72 L720.21,487.71 L720.62,487.71 L721.04,487.70 L721.45,487.69 L721.87,487.69 L722.29,487.68 L722.70,487.67 L723.12,487.67 L723.53,487.66 L723.95,487.65 L724.36,487.65 L724.78,487.64 L725.19,487.63 L725.61,487.62 L726.02,487.62 L726.44,487.61 L726.86,487.61 L727.27,487.60 L727.69,487.59 L728.10,487.59 L728.52,487.58 L728.93,487.57 L729.35,487.57 L729.76,487.56 L730.18,487.55 L730.59,487.55 L731.01,487.54 L731.43,487.53 L731.84,487.53 L732.26,487.52 L732.67,487.52 L733.09,487.51 L733.50,487.50 L733.92,487.50 L734.33,487.49 L734.75,487.49 L735.17,487.48 L735.58,487.47 L736.00,487.47 L736.41,487.46 L736.83,487.46 L737.24,487.45 L737.66,487.45 L738.07,487.44 L738.49,487.43 L738.90,487.43 L739.32,487.42 L739.74,487.42 L740.15,487.41 L740.57,487.41 L740.98,487.40 L741.40,487.40 L741.81,487.39 L742.23,487.38 L742.64,487.38 L743.06,487.37 L743.48,487.37 L743.89,487.36 L744.31,487.36 L744.72,487.35 L745.14,487.35 L745.55,487.34 L745.97,487.34 L746.38,487.33 L746.80,487.33 L747.22,487.32 L747.63,487.32 L748.05,487.31 L748.46,487.31 L748.88,487.30 L749.29,487.30 L749.71,487.29 L750.12,487.29 L750.54,487.28 L750.96,487.28 L751.37,487.28 L751.79,487.27 L752.20,487.27 L752.62,487.26 L753.03,487.26 L753.45,487.25 L753.86,487.25 L754.28,487.24 L754.70,487.24 L755.11,487.24 L755.53,487.23 L755.94,487.23 L756.36,487.22 L756.77,487.22 L757.19,487.22 L757.60,487.21 L758.02,487.21 L758.44,487.20 L758.85,487.20 L759.27,487.20 L759.68,487.19 L760.10,487.19 L760.51,487.18 L760.93,487.18 L761.34,487.18 L761.76,487.17 L762.18,487.17 L762.59,487.17 L763.01,487.16 L763.42,487.16 L763.84,487.15 L764.25,487.15 L764.67,487.15 L765.08,487.14 L765.50,487.14 L765.92,487.14 L766.33,487.13 L766.75,487.13 L767.16,487.13 L767.58,487.12 L767.99,487.12 L768.41,487.12 L768.82,487.11 L769.24,487.11 L769.66,487.11 L770.07,487.11 L770.49,487.10 L770.90,487.10 L771.32,487.10 L771.73,487.09 L772.15,487.09 L772.57,487.09 L772.98,487.09 L773.40,487.08 L773.81,487.08 L774.23,487.08 L774.64,487.08 L775.06,487.07 L775.47,487.07 L775.89,487.07 L776.31,487.07 L776.72,487.06 L777.14,487.06 L777.55,487.06 L777.97,487.06 L778.38,487.05 L778.80,487.05 L779.22,487.05 L779.63,487.05 L780.05,487.04 L780.46,487.04 L780.88,487.04 L781.29,487.04 L781.71,487.04 L782.12,487.03 L782.54,487.03 L782.96,487.03 L783.37,487.03 L783.79,487.03 L784.20,487.03 L784.62,487.02 L785.03,487.02 L785.45,487.02 L785.87,487.02 L786.28,487.02 L786.70,487.02 L787.11,487.01 L787.53,487.01 L787.94,487.01 L788.36,487.01 L788.77,487.01 L789.19,487.01 L789.61,487.01 L790.02,487.01 L790.44,487.00 L790.85,487.00 L791.27,487.00 L791.68,487.00 L792.10,487.00" stroke="#8000FF" stroke-opacity="0.5" stroke-dasharray="8.3 11.55"/>
<path d="M128.40,550.65 L128.48,549.98 L128.57,549.30 L128.65,548.63 L128.73,547.95 L128.81,547.28 L128.89,546.60 L128.97,545.93 L129.05,545.26 L129.13,544.58 L129.21,543.91 L129.29,543.23 L129.37,542.56 L129.45,541.89 L129.52,541.21 L129.60,540.54 L129.68,539.86 L129.75,539.19 L129.83,538.52 L129.91,537.84 L129.98,537.17 L130.06,536.49 L130.13,535.82 L130.21,535.14 L130.28,534.47 L130.35,533.80 L130.43,533.12 L130.50,532.45 L130.57,531.77 L130.64,531.10 L130.72,530.43 L130.79,529.75 L130.86,529.08 L130.93,528.40 L131.00,527.73 L131.07,527.06 L131.14,526.38 L131.21,525.71 L131.28,525.03 L131.35,524.36 L131.42,523.69 L131.49,523.01 L131.56,522.34 L131.63,521.66 L131.70,520.99 L131.77,520.32 L131.84,519.64 L131.90,518.97 L131.97,518.29 L132.04,517.62 L132.11,516.95 L132.17,516.27 L132.24,515.60 L132.31,514.92 L132.37,514.25 L132.44,513.58 L132.51,512.90 L132.57,512.23 L132.64,511.55 L132.71,510.88 L132.77,510.21 L132.84,509.53 L132.90,508.86 L132.97,508.19 L133.03,507.51 L133.10,506.84 L133.17,506.16 L133.23,505.49 L133.30,504.82 L133.36,504.14 L133.43,503.47 L133.49,502.79 L133.56,502.12 L133.62,501.45 L133.69,500.77 L133.75,500.10 L133.81,499.42 L133.88,498.75 L133.94,498.08 L134.01,497.40 L134.07,496.73 L134.14,496.06 L134.20,495.38 L134.27,494.71 L134.33,494.03 L134.40,493.36 L134.46,492.69 L134.53,492.01 L134.59,491.34 L134.66,490.67 L134.72,489.99 L134.79,489.32 L134.85,488.64 L134.92,487.97 L134.98,487.30 L135.05,486.62 L135.11,485.95 L135.18,485.28 L135.24,484.60 L135.31,483.93 L135.37,483.25 L135.44,482.58 L135.51,481.91 L135.57,481.23 L135.64,480.56 L135.70,479.89 L135.77,479.21 L135.84,478.54 L135.90,477.86 L135.97,477.19 L136.04,476.52 L136.11,475.84 L136.17,475.17 L136.24,474.50 L136.31,473.82 L136.38,473.15 L136.44,472.47 L136.51,471.80 L136.58,471.13 L136.65,470.45 L136.72,469.78 L136.79,469.11 L136.86,468.43 L136.93,467.76 L137.00,467.09 L137.07,466.41 L137.14,465.74 L137.21,465.06 L137.28,464.39 L137.35,463.72 L137.42,463.04 L137.49,462.37 L137.57,461.70 L137.64,461.02 L137.71,460.35 L137.78,459.68 L137.86,459.00 L137.93,458.33 L138.01,457.65 L138.08,456.98 L138.15,456.31 L138.23,455.63 L138.31,454.96 L138.38,454.29 L138.46,453.61 L138.53,452.94 L138.61,452.27 L138.69,451.59 L138.76,450.92 L138.84,450.25 L138.92,449.57 L139.00,448.90 L139.08,448.22 L139.16,447.55 L139.24,446.88 L139.32,446.20 L139.40,445.53 L139.48,444.86 L139.56,444.18 L139.64,443.51 L139.73,442.84 L139.81,442.16 L139.89,441.49 L139.98,440.82 L140.06,440.14 L140.14,439.47 L140.23,438.80 L140.31,438.12 L140.40,437.45 L140.48,436.78 L140.57,436.10 L140.66,435.43 L140.74,434.75 L140.83,434.08 L140.92,433.41 L141.00,432.73 L141.09,432.06 L141.18,431.39 L141.27,430.71 L141.35,430.04 L141.44,429.37 L141.53,428.69 L141.62,428.02 L141.71,427.35 L141.80,426.67 L141.89,426.00 L141.98,425.33 L142.07,424.66 L142.16,423.98 L142.25,423.31 L142.34,422.64 L142.43,421.96 L142.52,421.29 L142.62,420.62 L142.71,419.94 L142.80,419.27 L142.89,418.60 L142.98,417.92 L143.07,417.25 L143.17,416.58 L143.26,415.91 L143.35,415.23 L143.44,414.56 L143.54,413.89 L143.63,413.21 L143.72,412.54 L143.81,411.87 L143.91,411.20 L144.00,410.52 L144.09,409.85 L144.19,409.18 L144.28,408.51 L144.37,407.83 L144.47,407.16 L144.56,406.49 L144.65,405.82 L144.75,405.14 L144.84,404.47 L144.93,403.80 L145.03,403.13 L145.12,402.45 L145.21,401.78 L145.31,401.11 L145.40,400.44 L145.49,399.77 L145.59,399.09 L145.68,398.42 L145.77,397.75 L145.86,397.08 L145.96,396.41 L146.05,395.73 L146.14,395.06 L146.24,394.39 L146.33,393.72 L146.42,393.05 L146.51,392.37 L146.61,391.70 L146.70,391.03 L146.79,390.36 L146.88,389.69 L146.97,389.02 L147.06,388.35 L147.16,387.67 L147.25,387.00 L147.34,386.33 L147.43,385.66 L147.52,384.99 L147.61,384.32 L147.70,383.65 L147.79,382.98 L147.88,382.30 L147.97,381.63 L148.06,380.96 L148.15,380.29 L148.24,379.62 L148.33,378.95 L148.42,378.28 L148.51,377.61 L148.60,376.94 L148.68,376.27 L148.77,375.60 L148.86,374.93 L148.95,374.25 L149.04,373.58 L149.13,372.91 L149.22,372.24 L149.30,371.57 L149.39,370.90 L149.48,370.23 L149.57,369.56 L149.66,368.89 L149.75,368.22 L149.83,367.55 L149.92,366.88 L150.01,366.21 L150.10,365.54 L150.19,364.87 L150.28,364.20 L150.36,363.53 L150.45,362.86 L150.54,362.19 L150.63,361.52 L150.72,360.85 L150.81,360.18 L150.90,359.51 L150.99,358.84 L151.07,358.17 L151.16,357.50 L151.25,356.83 L151.34,356.16 L151.43,355.49 L151.52,354.82 L151.61,354.15 L151.70,353.48 L151.79,352.81 L151.88,352.14 L151.97,351.48 L152.06,350.81 L152.15,350.14 L152.24,349.47 L152.33,348.80 L152.43,348.13 L152.52,347.46 L152.61,346.79 L152.70,346.12 L152.79,345.45 L152.88,344.78 L152.98,344.11 L153.07,343.44 L153.16,342.77 L153.26,342.10 L153.35,341.43 L153.44,340.76 L153.54,340.10 L153.63,339.43 L153.73,338.76 L153.82,338.09 L153.92,337.42 L154.01,336.75 L154.11,336.08 L154.20,335.41 L154.30,334.74 L154.40,334.07 L154.49,333.40 L154.59,332.73 L154.69,332.06 L154.79,331.39 L154.89,330.73 L154.99,330.06 L155.08,329.39 L155.18,328.72 L155.28,328.05 L155.39,327.38 L155.49,326.71 L155.59,326.04 L155.69,325.37 L155.79,324.70 L155.89,324.03 L156.00,323.36 L156.10,322.69 L156.20,322.03 L156.31,321.36 L156.41,320.69 L156.52,320.02 L156.63,319.35 L156.73,318.68 L156.84,318.01 L156.95,317.34 L157.05,316.67 L157.16,316.00 L157.27,315.33 L157.38,314.66 L157.49,313.99 L157.60,313.33 L157.71,312.66 L157.82,311.99 L157.94,311.32 L158.05,310.65 L158.16,309.98 L158.28,309.31 L158.39,308.64 L158.51,307.97 L158.62,307.30 L158.74,306.63 L158.86,305.96 L158.97,305.29 L159.09,304.62 L159.21,303.95 L159.33,303.28 L159.45,302.61 L159.57,301.94 L159.69,301.27 L159.82,300.61 L159.94,299.94 L160.06,299.27 L160.19,298.60 L160.31,297.93 L160.44,297.26 L160.56,296.59 L160.69,295.92 L160.82,295.25 L160.95,294.58 L161.08,293.91 L161.21,293.24 L161.34,292.57 L161.47,291.90 L161.60,291.23 L161.73,290.56 L161.87,289.89 L162.00,289.22 L162.14,288.55 L162.28,287.88 L162.41,287.21 L162.55,286.54 L162.69,285.87 L162.83,285.20 L162.97,284.53 L163.11,283.86 L163.25,283.19 L163.40,282.52 L163.54,281.84 L163.68,281.17 L163.83,280.50 L163.98,279.83 L164.12,279.16 L164.27,278.49 L164.42,277.82 L164.58,277.15 L164.73,276.48 L164.89,275.82 L165.05,275.15 L165.21,274.48 L165.38,273.82 L165.55,273.15 L165.72,272.49 L165.89,271.83 L166.07,271.17 L166.26,270.51 L166.45,269.86 L166.64,269.20 L166.84,268.55 L167.04,267.90 L167.25,267.25 L167.46,266.61 L167.68,265.96 L167.91,265.32 L168.14,264.69 L168.38,264.05 L168.63,263.42 L168.88,262.79 L169.14,262.17 L169.41,261.55 L169.68,260.93 L169.97,260.31 L170.26,259.70 L170.56,259.09 L170.87,258.49 L171.18,257.89 L171.51,257.30 L171.85,256.71 L172.19,256.12 L172.55,255.54 L172.91,254.96 L173.29,254.39 L173.67,253.83 L174.07,253.27 L174.48,252.71 L174.90,252.16 L175.33,251.61 L175.77,251.07 L176.22,250.54 L176.69,250.03 L177.16,249.54 L177.64,249.08 L178.13,248.65 L178.62,248.26 L179.12,247.91 L179.63,247.62 L180.14,247.38 L180.65,247.20 L181.16,247.10 L181.68,247.06 L182.19,247.11 L182.70,247.23 L183.22,247.41 L183.73,247.66 L184.24,247.98 L184.74,248.34 L185.24,248.76 L185.74,249.22 L186.23,249.72 L186.71,250.26 L187.19,250.83 L187.66,251.43 L188.12,252.05 L188.57,252.69 L189.02,253.34 L189.45,253.99 L189.87,254.65 L190.28,255.31 L190.67,255.96 L191.06,256.61 L191.43,257.25 L191.80,257.90 L192.15,258.54 L192.50,259.17 L192.83,259.81 L193.16,260.44 L193.47,261.06 L193.78,261.69 L194.09,262.31 L194.38,262.94 L194.67,263.56 L194.95,264.18 L195.23,264.80 L195.50,265.41 L195.77,266.03 L196.03,266.65 L196.29,267.26 L196.55,267.88 L196.80,268.50 L197.05,269.11 L197.30,269.73 L197.54,270.35 L197.79,270.97 L198.03,271.59 L198.28,272.21 L198.52,272.83 L198.76,273.46 L199.00,274.08 L199.24,274.71 L199.48,275.33 L199.72,275.96 L199.95,276.59 L200.19,277.22 L200.42,277.84 L200.65,278.47 L200.89,279.10 L201.12,279.74 L201.35,280.37 L201.58,281.00 L201.81,281.63 L202.04,282.27 L202.26,282.90 L202.49,283.54 L202.72,284.17 L202.94,284.81 L203.17,285.45 L203.39,286.08 L203.61,286.72 L203.84,287.36 L204.06,288.00 L204.28,288.64 L204.50,289.28 L204.73,289.92 L204.95,290.56 L205.17,291.20 L205.39,291.84 L205.61,292.48 L205.82,293.12 L206.04,293.76 L206.26,294.41 L206.48,295.05 L206.70,295.69 L206.92,296.34 L207.13,296.98 L207.35,297.62 L207.57,298.27 L207.79,298.91 L208.00,299.55 L208.22,300.20 L208.44,300.84 L208.66,301.49 L208.87,302.13 L209.09,302.78 L209.31,303.42 L209.52,304.06 L209.74,304.71 L209.96,305.35 L210.18,306.00 L210.39,306.64 L210.61,307.29 L210.83,307.93 L211.05,308.57 L211.27,309.22 L211.49,309.86 L211.71,310.51 L211.93,311.15 L212.15,311.79 L212.37,312.43 L212.59,313.08 L212.81,313.72 L213.03,314.36 L213.25,315.00 L213.48,315.64 L213.70,316.29 L213.92,316.93 L214.15,317.57 L214.37,318.21 L214.60,318.85 L214.83,319.49 L215.05,320.13 L215.28,320.76 L215.51,321.40 L215.74,322.04 L215.97,322.68 L216.19,323.32 L216.42,323.95 L216.65,324.59 L216.89,325.23 L217.12,325.86 L217.35,326.50 L217.58,327.14 L217.81,327.77 L218.05,328.41 L218.28,329.04 L218.51,329.68 L218.75,330.31 L218.98,330.95 L219.22,331.58 L219.46,332.22 L219.69,332.85 L219.93,333.48 L220.17,334.12 L220.40,334.75 L220.64,335.38 L220.88,336.02 L221.12,336.65 L221.36,337.28 L221.60,337.91 L221.84,338.55 L222.08,339.18 L222.32,339.81 L222.56,340.44 L222.80,341.07 L223.04,341.71 L223.28,342.34 L223.53,342.97 L223.77,343.60 L224.01,344.23 L224.25,344.86 L224.50,345.49 L224.74,346.12 L224.99,346.75 L225.23,347.38 L225.48,348.01 L225.72,348.64 L225.97,349.27 L226.21,349.90 L226.46,350.53 L226.71,351.16 L226.95,351.79 L227.20,352.42 L227.45,353.05 L227.70,353.68 L227.94,354.31 L228.19,354.94 L228.44,355.57 L228.69,356.20 L228.94,356.83 L229.19,357.46 L229.44,358.09 L229.68,358.72 L229.93,359.35 L230.18,359.98 L230.43,360.61 L230.68,361.24 L230.94,361.87 L231.19,362.50 L231.44,363.13 L231.69,363.76 L231.94,364.39 L232.19,365.02 L232.44,365.64 L232.69,366.27 L232.95,366.90 L233.20,367.53 L233.45,368.16 L233.70,368.79 L233.96,369.43 L234.21,370.06 L234.46,370.69 L234.71,371.32 L234.97,371.95 L235.22,372.58 L235.48,373.21 L235.73,373.84 L235.98,374.47 L236.24,375.10 L236.49,375.73 L236.75,376.36 L237.00,376.99 L237.26,377.62 L237.52,378.25 L237.77,378.88 L238.03,379.51 L238.29,380.14 L238.55,380.77 L238.81,381.40 L239.07,382.03 L239.33,382.66 L239.59,383.28 L239.85,383.91 L240.11,384.54 L240.37,385.17 L240.64,385.79 L240.90,386.42 L241.17,387.05 L241.43,387.67 L241.70,388.30 L241.97,388.92 L242.24,389.55 L242.51,390.17 L242.78,390.79 L243.05,391.42 L243.32,392.04 L243.60,392.66 L243.87,393.28 L244.15,393.90 L244.42,394.52 L244.70,395.14 L244.98,395.76 L245.26,396.38 L245.54,397.00 L245.82,397.61 L246.11,398.23 L246.39,398.85 L246.68,399.46 L246.97,400.07 L247.26,400.69 L247.55,401.30 L247.84,401.91 L248.13,402.52 L248.43,403.13 L248.72,403.74 L249.02,404.35 L249.32,404.95 L249.62,405.56 L249.92,406.17 L250.23,406.77 L250.53,407.37 L250.84,407.97 L251.15,408.58 L251.46,409.18 L251.77,409.77 L252.08,410.37 L252.40,410.97 L252.72,411.56 L253.04,412.16 L253.36,412.75 L253.68,413.34 L254.01,413.94 L254.33,414.53 L254.66,415.11 L254.99,415.70 L255.33,416.29 L255.66,416.87 L256.00,417.46 L256.34,418.04 L256.68,418.62 L257.02,419.20 L257.37,419.78 L257.71,420.35 L258.06,420.93 L258.42,421.50 L258.77,422.07 L259.13,422.64 L259.49,423.21 L259.85,423.78 L260.21,424.35 L260.57,424.92 L260.93,425.48 L261.30,426.05 L261.67,426.62 L262.03,427.18 L262.40,427.75 L262.77,428.32 L263.13,428.88 L263.50,429.45 L263.87,430.02 L264.23,430.59 L264.60,431.16 L264.96,431.73 L265.33,432.31 L265.69,432.88 L266.06,433.46 L266.42,434.03 L266.78,434.61 L267.14,435.19 L267.50,435.76 L267.87,436.34 L268.23,436.92 L268.59,437.50 L268.95,438.08 L269.31,438.66 L269.68,439.23 L270.04,439.81 L270.41,440.39 L270.77,440.97 L271.14,441.54 L271.50,442.12 L271.87,442.69 L272.24,443.26 L272.61,443.83 L272.99,444.40 L273.36,444.97 L273.74,445.53 L274.12,446.10 L274.50,446.66 L274.88,447.22 L275.26,447.78 L275.65,448.33 L276.04,448.89 L276.43,449.44 L276.82,449.99 L277.22,450.53 L277.61,451.07 L278.01,451.61 L278.42,452.15 L278.82,452.69 L279.23,453.22 L279.64,453.75 L280.05,454.28 L280.46,454.81 L280.88,455.34 L281.29,455.87 L281.71,456.39 L282.13,456.91 L282.56,457.43 L282.98,457.95 L283.41,458.47 L283.83,458.99 L284.26,459.50 L284.69,460.02 L285.12,460.53 L285.55,461.05 L285.99,461.56 L286.42,462.08 L286.86,462.59 L287.30,463.10 L287.74,463.61 L288.18,464.12 L288.62,464.63 L289.06,465.14 L289.50,465.65 L289.95,466.16 L290.39,466.67 L290.84,467.18 L291.29,467.68 L291.74,468.19 L292.19,468.69 L292.64,469.20 L293.10,469.70 L293.55,470.21 L294.01,470.71 L294.46,471.21 L294.92,471.71 L295.38,472.21 L295.84,472.71 L296.30,473.21 L296.77,473.70 L297.23,474.20 L297.70,474.70 L298.16,475.19 L298.63,475.68 L299.10,476.18 L299.57,476.67 L300.04,477.16 L300.52,477.65 L300.99,478.13 L301.47,478.62 L301.94,479.11 L302.42,479.59 L302.90,480.08 L303.38,480.56 L303.86,481.04 L304.34,481.52 L304.83,482.00 L305.31,482.48 L305.80,482.96 L306.29,483.43 L306.78,483.91 L307.27,484.38 L307.76,484.85 L308.26,485.32 L308.75,485.79 L309.25,486.26 L309.74,486.72 L310.24,487.19 L310.74,487.65 L311.24,488.11 L311.74,488.57 L312.25,489.03 L312.75,489.49 L313.26,489.95 L313.77,490.40 L314.28,490.85 L314.79,491.30 L315.30,491.75 L315.81,492.20 L316.32,492.65 L316.84,493.09 L317.35,493.54 L317.87,493.98 L318.39,494.42 L318.91,494.85 L319.43,495.29 L319.96,495.73 L320.48,496.16 L321.01,496.59 L321.53,497.02 L322.06,497.45 L322.59,497.87 L323.12,498.29 L323.66,498.72 L324.19,499.14 L324.72,499.55 L325.26,499.97 L325.80,500.38 L326.34,500.79 L326.88,501.20 L327.42,501.61 L327.96,502.02 L328.51,502.42 L329.05,502.82 L329.60,503.22 L330.15,503.62 L330.70,504.02 L331.25,504.41 L331.80,504.80 L332.36,505.19 L332.91,505.58 L333.47,505.96 L334.02,506.34 L334.58,506.72 L335.14,507.10 L335.71,507.48 L336.27,507.85 L336.83,508.22 L337.40,508.59 L337.97,508.96 L338.54,509.32 L339.11,509.68 L339.68,510.04 L340.25,510.40 L340.83,510.75 L341.40,511.10 L341.98,511.45 L342.56,511.80 L343.14,512.14 L343.72,512.48 L344.30,512.82 L344.88,513.16 L345.47,513.49 L346.06,513.82 L346.64,514.15 L347.23,514.48 L347.83,514.80 L348.42,515.12 L349.01,515.44 L349.61,515.75 L350.20,516.07 L350.80,516.38 L351.40,516.68 L352.00,516.99 L352.60,517.29 L353.21,517.59 L353.81,517.88 L354.42,518.18 L355.03,518.47 L355.63,518.75 L356.24,519.04 L356.85,519.32 L357.47,519.60 L358.08,519.88 L358.70,520.16 L359.31,520.43 L359.93,520.70 L360.55,520.97 L361.17,521.23 L361.79,521.50 L362.41,521.76 L363.03,522.01 L363.66,522.27 L364.28,522.52 L364.91,522.77 L365.54,523.02 L366.17,523.27 L366.79,523.51 L367.43,523.76 L368.06,524.00 L368.69,524.23 L369.32,524.47 L369.96,524.70 L370.59,524.93 L371.23,525.16 L371.87,525.39 L372.51,525.61 L373.14,525.83 L373.78,526.05 L374.43,526.27 L375.07,526.49 L375.71,526.70 L376.35,526.92 L377.00,527.13 L377.64,527.33 L378.29,527.54 L378.93,527.75 L379.58,527.95 L380.23,528.15 L380.88,528.35 L381.53,528.54 L382.18,528.74 L382.83,528.93 L383.48,529.12 L384.13,529.31 L384.79,529.50 L385.44,529.69 L386.09,529.87 L386.75,530.05 L387.40,530.24 L388.06,530.42 L388.72,530.59 L389.37,530.77 L390.03,530.94 L390.69,531.12 L391.35,531.29 L392.01,531.46 L392.67,531.63 L393.33,531.79 L393.99,531.96 L394.65,532.12 L395.31,532.28 L395.97,532.44 L396.63,532.60 L397.30,532.76 L397.96,532.92 L398.62,533.07 L399.29,533.23 L399.95,533.38 L400.62,533.53 L401.28,533.68 L401.95,533.83 L402.61,533.98 L403.28,534.12 L403.94,534.27 L404.61,534.41 L405.27,534.55 L405.94,534.70 L406.61,534.84 L407.27,534.97 L407.94,535.11 L408.61,535.25 L409.27,535.39 L409.94,535.52 L410.61,535.65 L411.28,535.79 L411.94,535.92 L412.61,536.05 L413.28,536.18 L413.95,536.31 L414.61,536.43 L415.28,536.56 L415.95,536.69 L416.62,536.81 L417.29,536.94 L417.96,537.06 L418.62,537.18 L419.29,537.30 L419.96,537.42 L420.63,537.54 L421.30,537.66 L421.97,537.77 L422.64,537.89 L423.31,538.00 L423.98,538.12 L424.64,538.23 L425.31,538.34 L425.98,538.46 L426.65,538.57 L427.32,538.67 L427.99,538.78 L428.66,538.89 L429.33,539.00 L430.00,539.10 L430.67,539.21 L431.34,539.31 L432.01,539.42 L432.68,539.52 L433.35,539.62 L434.02,539.72 L434.69,539.82 L435.37,539.92 L436.04,540.02 L436.71,540.12 L437.38,540.21 L438.05,540.31 L438.72,540.40 L439.39,540.50 L440.06,540.59 L440.73,540.68 L441.40,540.78 L442.08,540.87 L442.75,540.96 L443.42,541.05 L444.09,541.14 L444.76,541.22 L445.43,541.31 L446.11,541.40 L446.78,541.48 L447.45,541.57 L448.12,541.65 L448.79,541.74 L449.47,541.82 L450.14,541.90 L450.81,541.98 L451.48,542.06 L452.16,542.14 L452.83,542.22 L453.50,542.30 L454.17,542.38 L454.85,542.45 L455.52,542.53 L456.19,542.61 L456.87,542.68 L457.54,542.76 L458.21,542.83 L458.88,542.90 L459.56,542.98 L460.23,543.05 L460.90,543.12 L461.58,543.19 L462.25,543.26 L462.92,543.33 L463.60,543.40 L464.27,543.47 L464.94,543.53 L465.62,543.60 L466.29,543.67 L466.97,543.73 L467.64,543.80 L468.31,543.86 L468.99,543.93 L469.66,543.99 L470.34,544.05 L471.01,544.12 L471.68,544.18 L472.36,544.24 L473.03,544.30 L473.71,544.36 L474.38,544.42 L475.06,544.48 L475.73,544.54 L476.40,544.60 L477.08,544.65 L477.75,544.71 L478.43,544.77 L479.10,544.82 L479.78,544.88 L480.45,544.93 L481.13,544.99 L481.80,545.04 L482.48,545.10 L483.15,545.15 L483.83,545.20 L484.50,545.26 L485.18,545.31 L485.85,545.36 L486.53,545.41 L487.20,545.46 L487.88,545.51 L488.55,545.56 L489.23,545.61 L489.90,545.66 L490.58,545.71 L491.25,545.76 L491.93,545.80 L492.60,545.85 L493.28,545.90 L493.95,545.95 L494.63,545.99 L495.30,546.04 L495.98,546.08 L496.66,546.13 L497.33,546.17 L498.01,546.22 L498.68,546.26 L499.36,546.31 L500.03,546.35 L500.71,546.39 L501.39,546.44 L502.06,546.48 L502.74,546.52 L503.41,546.56 L504.09,546.61 L504.76,546.65 L505.44,546.69 L506.12,546.73 L506.79,546.77 L507.47,546.81 L508.14,546.85 L508.82,546.89 L509.50,546.93 L510.17,546.97 L510.85,547.01 L511.52,547.05 L512.20,547.08 L512.88,547.12 L513.55,547.16 L514.23,547.20 L514.90,547.23 L515.58,547.27 L516.26,547.31 L516.93,547.34 L517.61,547.38 L518.29,547.41 L518.96,547.45 L519.64,547.48 L520.32,547.52 L520.99,547.55 L521.67,547.59 L522.34,547.62 L523.02,547.66 L523.70,547.69 L524.37,547.72 L525.05,547.75 L525.73,547.79 L526.40,547.82 L527.08,547.85 L527.76,547.88 L528.43,547.91 L529.11,547.95 L529.79,547.98 L530.46,548.01 L531.14,548.04 L531.82,548.07 L532.49,548.10 L533.17,548.13 L533.85,548.16 L534.52,548.18 L535.20,548.21 L535.88,548.24 L536.55,548.27 L537.23,548.30 L537.91,548.33 L538.58,548.35 L539.26,548.38 L539.94,548.41 L540.62,548.43 L541.29,548.46 L541.97,548.49 L542.65,548.51 L543.32,548.54 L544.00,548.56 L544.68,548.59 L545.35,548.61 L546.03,548.64 L546.71,548.66 L547.39,548.69 L548.06,548.71 L548.74,548.73 L549.42,548.76 L550.09,548.78 L550.77,548.80 L551.45,548.83 L552.13,548.85 L552.80,548.87 L553.48,548.89 L554.16,548.92 L554.84,548.94 L555.51,548.96 L556.19,548.98 L556.87,549.00 L557.54,549.02 L558.22,549.04 L558.90,549.06 L559.58,549.08 L560.25,549.10 L560.93,549.12 L561.61,549.14 L562.29,549.16 L562.96,549.18 L563.64,549.20 L564.32,549.22 L565.00,549.24 L565.67,549.25 L566.35,549.27 L567.03,549.29 L567.71,549.31 L568.38,549.32 L569.06,549.34 L569.74,549.36 L570.42,549.38 L571.10,549.39 L571.77,549.41 L572.45,549.42 L573.13,549.44 L573.81,549.46 L574.48,549.47 L575.16,549.49 L575.84,549.50 L576.52,549.52 L577.20,549.53 L577.87,549.55 L578.55,549.56 L579.23,549.58 L579.91,549.59 L580.58,549.60 L581.26,549.62 L581.94,549.63 L582.62,549.64 L583.30,549.66 L583.97,549.67 L584.65,549.68 L585.33,549.70 L586.01,549.71 L586.69,549.72 L587.36,549.73 L588.04,549.74 L588.72,549.76 L589.40,549.77 L590.08,549.78 L590.75,549.79 L591.43,549.80 L592.11,549.81 L592.79,549.82 L593.47,549.83 L594.14,549.84 L594.82,549.85 L595.50,549.86 L596.18,549.87 L596.86,549.88 L597.53,549.89 L598.21,549.90 L598.89,549.91 L599.57,549.92 L600.25,549.93 L600.92,549.94 L601.60,549.95 L602.28,549.96 L602.96,549.96 L603.64,549.97 L604.32,549.98 L604.99,549.99 L605.67,550.00 L606.35,550.00 L607.03,550.01 L607.71,550.02 L608.38,550.03 L609.06,550.03 L609.74,550.04 L610.42,550.05 L611.10,550.05 L611.78,550.06 L612.45,550.07 L613.13,550.07 L613.81,550.08 L614.49,550.08 L615.17,550.09 L615.85,550.10 L616.52,550.10 L617.20,550.11 L617.88,550.11 L618.56,550.12 L619.24,550.12 L619.92,550.13 L620.59,550.13 L621.27,550.14 L621.95,550.14 L622.63,550.15 L623.31,550.15 L623.99,550.16 L624.66,550.16 L625.34,550.16 L626.02,550.17 L626.70,550.17 L627.38,550.18 L628.06,550.18 L628.73,550.18 L629.41,550.19 L630.09,550.19 L630.77,550.19 L631.45,550.20 L632.13,550.20 L632.80,550.20 L633.48,550.21 L634.16,550.21 L634.84,550.21 L635.52,550.21 L636.20,550.22 L636.88,550.22 L637.55,550.22 L638.23,550.22 L638.91,550.23 L639.59,550.23 L640.27,550.23 L640.95,550.23 L641.62,550.23 L642.30,550.23 L642.98,550.24 L643.66,550.24 L644.34,550.24 L645.02,550.24 L645.70,550.24 L646.37,550.24 L647.05,550.24 L647.73,550.25 L648.41,550.25 L649.09,550.25 L649.77,550.25 L650.44,550.25 L651.12,550.25 L651.80,550.25 L652.48,550.25 L653.16,550.25 L653.84,550.25 L654.52,550.25 L655.19,550.25 L655.87,550.25 L656.55,550.25 L657.23,550.25 L657.91,550.25 L658.59,550.25 L659.26,550.25 L659.94,550.25 L660.62,550.25 L661.30,550.25 L661.98,550.25 L662.66,550.25 L663.34,550.25 L664.01,550.25 L664.69,550.25 L665.37,550.25 L666.05,550.25 L666.73,550.25 L667.41,550.25 L668.09,550.25 L668.76,550.25 L669.44,550.25 L670.12,550.25 L670.80,550.25 L671.48,550.24 L672.16,550.24 L672.83,550.24 L673.51,550.24 L674.19,550.24 L674.87,550.24 L675.55,550.24 L676.23,550.24 L676.90,550.24 L677.58,550.24 L678.26,550.23 L678.94,550.23 L679.62,550.23 L680.30,550.23 L680.98,550.23 L681.65,550.23 L682.33,550.23 L683.01,550.23 L683.69,550.22 L684.37,550.22 L685.05,550.22 L685.72,550.22 L686.40,550.22 L687.08,550.22 L687.76,550.22 L688.44,550.22 L689.12,550.21 L689.79,550.21 L690.47,550.21 L691.15,550.21 L691.83,550.21 L692.51,550.21 L693.19,550.21 L693.86,550.20 L694.54,550.20 L695.22,550.20 L695.90,550.20 L696.58,550.20 L697.26,550.20 L697.93,550.20 L698.61,550.20 L699.29,550.19 L699.97,550.19 L700.65,550.19 L701.33,550.19 L702.00,550.19 L702.68,550.19 L703.36,550.19 L704.04,550.18 L704.72,550.18 L705.39,550.18 L706.07,550.18 L706.75,550.18 L707.43,550.18 L708.11,550.18 L708.79,550.18 L709.46,550.18 L710.14,550.18 L710.82,550.17 L711.50,550.17 L712.18,550.17 L712.85,550.17 L713.53,550.17 L714.21,550.17 L714.89,550.17 L715.57,550.17 L716.24,550.17 L716.92,550.17 L717.60,550.17 L718.28,550.17 L718.96,550.17 L719.63,550.16 L720.31,550.16 L720.99,550.16 L721.67,550.16 L722.35,550.16 L723.02,550.16 L723.70,550.16 L724.38,550.16 L725.06,550.16 L725.74,550.16 L726.41,550.16 L727.09,550.16 L727.77,550.16 L728.45,550.16 L729.13,550.16 L729.80,550.16 L730.48,550.16 L731.16,550.16 L731.84,550.16 L732.51,550.17 L733.19,550.17 L733.87,550.17 L734.55,550.17 L735.23,550.17 L735.90,550.17 L736.58,550.17 L737.26,550.17 L737.94,550.17 L738.61,550.17 L739.29,550.17 L739.97,550.18 L740.65,550.18 L741.32,550.18 L742.00,550.18 L742.68,550.18 L743.36,550.18 L744.04,550.19 L744.71,550.19 L745.39,550.19 L746.07,550.19 L746.75,550.19 L747.42,550.20 L748.10,550.20 L748.78,550.20 L749.46,550.20 L750.13,550.21 L750.81,550.21 L751.49,550.21 L752.16,550.21 L752.84,550.22 L753.52,550.22 L754.20,550.22 L754.87,550.23 L755.55,550.23 L756.23,550.23 L756.91,550.24 L757.58,550.24 L758.26,550.25 L758.94,550.25 L759.61,550.25 L760.29,550.26 L760.97,550.26 L761.65,550.27 L762.32,550.27 L763.00,550.28 L763.68,550.28 L764.36,550.29 L765.03,550.29 L765.71,550.30 L766.39,550.30 L767.06,550.31 L767.74,550.31 L768.42,550.32 L769.09,550.32 L769.77,550.33 L770.45,550.33 L771.13,550.34 L771.80,550.35 L772.48,550.35 L773.16,550.36 L773.83,550.37 L774.51,550.37 L775.19,550.38 L775.86,550.39 L776.54,550.39 L777.22,550.40 L777.89,550.41 L778.57,550.42 L779.25,550.42 L779.92,550.43 L780.60,550.44 L781.28,550.45 L781.95,550.46 L782.63,550.47 L783.31,550.47 L783.98,550.48 L784.66,550.49 L785.34,550.50 L786.01,550.51 L786.69,550.52 L787.37,550.53 L788.04,550.54 L788.72,550.55 L789.39,550.56 L790.07,550.57 L790.75,550.58 L791.42,550.59 L792.10,550.60" stroke="#0000FF" stroke-dasharray="8.3 11.55"/>
<path d="M128.40,550.50 L128.88,550.46 L129.35,550.41 L129.83,550.37 L130.31,550.33 L130.79,550.30 L131.27,550.26 L131.75,550.23 L132.23,550.19 L132.72,550.16 L133.20,550.13 L133.68,550.10 L134.16,550.08 L134.65,550.05 L135.13,550.02 L135.62,550.00 L136.11,549.98 L136.59,549.96 L137.08,549.94 L137.57,549.92 L138.06,549.90 L138.54,549.89 L139.03,549.87 L139.52,549.86 L140.01,549.85 L140.50,549.83 L141.00,549.82 L141.49,549.81 L141.98,549.81 L142.47,549.80 L142.96,549.79 L143.46,549.79 L143.95,549.78 L144.45,549.78 L144.94,549.77 L145.44,549.77 L145.93,549.77 L146.43,549.77 L146.92,549.77 L147.42,549.77 L147.92,549.77 L148.41,549.77 L148.91,549.77 L149.41,549.77 L149.91,549.78 L150.41,549.78 L150.90,549.79 L151.40,549.79 L151.90,549.80 L152.40,549.80 L152.90,549.81 L153.40,549.82 L153.90,549.82 L154.40,549.83 L154.91,549.84 L155.41,549.84 L155.91,549.85 L156.41,549.86 L156.91,549.87 L157.41,549.88 L157.92,549.89 L158.42,549.90 L158.92,549.90 L159.42,549.91 L159.93,549.92 L160.43,549.93 L160.93,549.94 L161.44,549.95 L161.94,549.96 L162.44,549.97 L162.95,549.98 L163.45,549.98 L163.95,549.99 L164.46,550.00 L164.96,550.01 L165.46,550.02 L165.97,550.02 L166.47,550.03 L166.98,550.04 L167.48,550.04 L167.98,550.05 L168.49,550.06 L168.99,550.06 L169.50,550.07 L170.00,550.07 L170.51,550.07 L171.01,550.08 L171.51,550.08 L172.02,550.08 L172.52,550.08 L173.02,550.08 L173.53,550.08 L174.03,550.08 L174.54,550.08 L175.04,550.08 L175.54,550.08 L176.05,550.08 L176.55,550.07 L177.05,550.07 L177.55,550.06 L178.06,550.05 L178.56,550.04 L179.06,550.04 L179.56,550.03 L180.06,550.02 L180.57,550.00 L181.07,549.99 L181.57,549.98 L182.07,549.96 L182.57,549.95 L183.07,549.93 L183.57,549.91 L184.07,549.89 L184.57,549.87 L185.07,549.85 L185.57,549.82 L186.07,549.80 L186.57,549.77 L187.07,549.74 L187.56,549.72 L188.06,549.68 L188.56,549.65 L189.06,549.62 L189.55,549.58 L190.05,549.55 L190.54,549.51 L191.04,549.47 L191.54,549.43 L192.03,549.39 L192.52,549.34 L193.02,549.30 L193.51,549.25 L194.01,549.20 L194.50,549.15 L194.99,549.10 L195.48,549.04 L195.97,548.98 L196.46,548.93 L196.95,548.87 L197.44,548.80 L197.93,548.74 L198.42,548.67 L198.91,548.61 L199.40,548.53 L199.89,548.46 L200.37,548.39 L200.86,548.31 L201.34,548.23 L201.83,548.15 L202.31,548.07 L202.80,547.99 L203.28,547.90 L203.76,547.81 L204.25,547.72 L204.73,547.62 L205.21,547.53 L205.69,547.43 L206.17,547.33 L206.65,547.22 L207.13,547.12 L207.60,547.01 L208.08,546.90 L208.56,546.78 L209.03,546.67 L209.51,546.55 L209.98,546.43 L210.45,546.30 L210.93,546.18 L211.40,546.05 L211.87,545.92 L212.34,545.78 L212.81,545.65 L213.28,545.51 L213.75,545.36 L214.22,545.22 L214.68,545.07 L215.15,544.92 L215.61,544.76 L216.08,544.61 L216.54,544.45 L217.00,544.28 L217.47,544.12 L217.93,543.95 L218.39,543.78 L218.85,543.60 L219.30,543.42 L219.76,543.24 L220.22,543.06 L220.67,542.87 L221.13,542.68 L221.58,542.49 L222.03,542.29 L222.49,542.10 L222.94,541.89 L223.39,541.69 L223.83,541.48 L224.28,541.27 L224.73,541.06 L225.17,540.85 L225.62,540.63 L226.06,540.41 L226.50,540.19 L226.95,539.96 L227.39,539.73 L227.83,539.50 L228.26,539.27 L228.70,539.03 L229.14,538.79 L229.57,538.55 L230.00,538.31 L230.44,538.07 L230.87,537.82 L231.30,537.57 L231.72,537.32 L232.15,537.06 L232.58,536.80 L233.00,536.54 L233.43,536.28 L233.85,536.02 L234.27,535.75 L234.69,535.49 L235.11,535.22 L235.52,534.94 L235.94,534.67 L236.35,534.39 L236.77,534.11 L237.18,533.83 L237.59,533.55 L238.00,533.27 L238.40,532.98 L238.81,532.69 L239.21,532.40 L239.61,532.11 L240.02,531.82 L240.42,531.52 L240.81,531.22 L241.21,530.92 L241.61,530.62 L242.00,530.32 L242.39,530.02 L242.78,529.71 L243.17,529.40 L243.56,529.09 L243.95,528.78 L244.33,528.47 L244.71,528.15 L245.09,527.84 L245.47,527.52 L245.85,527.20 L246.23,526.88 L246.61,526.56 L246.98,526.24 L247.35,525.91 L247.73,525.58 L248.10,525.26 L248.47,524.93 L248.83,524.60 L249.20,524.26 L249.56,523.93 L249.93,523.60 L250.29,523.26 L250.65,522.92 L251.01,522.58 L251.37,522.24 L251.73,521.90 L252.08,521.56 L252.44,521.22 L252.79,520.87 L253.15,520.52 L253.50,520.18 L253.85,519.83 L254.20,519.48 L254.55,519.13 L254.89,518.77 L255.24,518.42 L255.58,518.07 L255.93,517.71 L256.27,517.35 L256.61,517.00 L256.95,516.64 L257.29,516.28 L257.63,515.92 L257.97,515.55 L258.31,515.19 L258.64,514.83 L258.98,514.46 L259.31,514.10 L259.64,513.73 L259.98,513.36 L260.31,513.00 L260.64,512.63 L260.97,512.26 L261.29,511.89 L261.62,511.51 L261.95,511.14 L262.28,510.77 L262.60,510.39 L262.93,510.02 L263.25,509.64 L263.57,509.27 L263.89,508.89 L264.22,508.51 L264.54,508.14 L264.86,507.76 L265.18,507.38 L265.50,507.00 L265.81,506.62 L266.13,506.24 L266.45,505.85 L266.76,505.47 L267.08,505.09 L267.39,504.70 L267.71,504.32 L268.02,503.94 L268.34,503.55 L268.65,503.16 L268.96,502.78 L269.27,502.39 L269.58,502.00 L269.89,501.62 L270.20,501.23 L270.51,500.84 L270.82,500.45 L271.12,500.06 L271.43,499.67 L271.74,499.28 L272.04,498.89 L272.35,498.49 L272.65,498.10 L272.95,497.71 L273.26,497.31 L273.56,496.92 L273.86,496.52 L274.16,496.13 L274.46,495.73 L274.76,495.34 L275.06,494.94 L275.36,494.54 L275.66,494.15 L275.96,493.75 L276.25,493.35 L276.55,492.95 L276.85,492.55 L277.14,492.15 L277.44,491.75 L277.73,491.35 L278.02,490.95 L278.32,490.55 L278.61,490.15 L278.90,489.74 L279.19,489.34 L279.48,488.94 L279.77,488.53 L280.06,488.13 L280.35,487.72 L280.64,487.32 L280.93,486.91 L281.21,486.51 L281.50,486.10 L281.79,485.70 L282.07,485.29 L282.36,484.88 L282.64,484.47 L282.92,484.07 L283.21,483.66 L283.49,483.25 L283.77,482.84 L284.05,482.43 L284.33,482.02 L284.61,481.61 L284.89,481.20 L285.17,480.79 L285.45,480.38 L285.73,479.96 L286.01,479.55 L286.29,479.14 L286.56,478.73 L286.84,478.31 L287.12,477.90 L287.39,477.49 L287.67,477.07 L287.94,476.66 L288.21,476.25 L288.49,475.83 L288.76,475.42 L289.03,475.00 L289.30,474.58 L289.57,474.17 L289.84,473.75 L290.11,473.34 L290.38,472.92 L290.65,472.50 L290.92,472.08 L291.19,471.67 L291.46,471.25 L291.72,470.83 L291.99,470.41 L292.26,469.99 L292.52,469.57 L292.79,469.16 L293.05,468.74 L293.32,468.32 L293.58,467.90 L293.84,467.48 L294.10,467.06 L294.37,466.64 L294.63,466.22 L294.89,465.80 L295.15,465.37 L295.41,464.95 L295.67,464.53 L295.93,464.11 L296.19,463.69 L296.45,463.27 L296.71,462.84 L296.96,462.42 L297.22,462.00 L297.48,461.58 L297.73,461.15 L297.99,460.73 L298.24,460.31 L298.50,459.88 L298.75,459.46 L299.01,459.04 L299.26,458.61 L299.51,458.19 L299.77,457.76 L300.02,457.34 L300.27,456.92 L300.52,456.49 L300.77,456.07 L301.02,455.64 L301.27,455.22 L301.52,454.79 L301.77,454.37 L302.02,453.94 L302.27,453.52 L302.52,453.09 L302.76,452.67 L303.01,452.24 L303.26,451.81 L303.50,451.39 L303.75,450.96 L303.99,450.54 L304.24,450.11 L304.49,449.68 L304.73,449.26 L304.97,448.83 L305.22,448.41 L305.46,447.98 L305.71,447.55 L305.95,447.13 L306.19,446.70 L306.44,446.27 L306.68,445.85 L306.92,445.42 L307.17,444.99 L307.41,444.57 L307.65,444.14 L307.90,443.71 L308.14,443.28 L308.38,442.86 L308.62,442.43 L308.87,442.00 L309.11,441.58 L309.35,441.15 L309.59,440.72 L309.84,440.29 L310.08,439.87 L310.32,439.44 L310.56,439.01 L310.81,438.58 L311.05,438.16 L311.29,437.73 L311.54,437.30 L311.78,436.87 L312.02,436.45 L312.27,436.02 L312.51,435.59 L312.76,435.16 L313.00,434.73 L313.25,434.31 L313.49,433.88 L313.74,433.45 L313.98,433.02 L314.23,432.59 L314.47,432.17 L314.72,431.74 L314.97,431.31 L315.21,430.88 L315.46,430.45 L315.71,430.03 L315.96,429.60 L316.21,429.17 L316.46,428.74 L316.71,428.31 L316.96,427.89 L317.21,427.46 L317.46,427.03 L317.71,426.60 L317.96,426.18 L318.21,425.75 L318.47,425.32 L318.72,424.89 L318.98,424.46 L319.23,424.04 L319.49,423.61 L319.74,423.18 L320.00,422.75 L320.26,422.33 L320.52,421.90 L320.78,421.47 L321.04,421.04 L321.30,420.61 L321.56,420.19 L321.82,419.76 L322.08,419.33 L322.35,418.91 L322.61,418.48 L322.87,418.05 L323.14,417.62 L323.41,417.20 L323.68,416.77 L323.94,416.34 L324.21,415.92 L324.49,415.49 L324.76,415.07 L325.03,414.65 L325.30,414.22 L325.58,413.80 L325.85,413.38 L326.13,412.96 L326.41,412.53 L326.69,412.12 L326.97,411.70 L327.25,411.28 L327.54,410.86 L327.82,410.45 L328.11,410.03 L328.40,409.62 L328.68,409.21 L328.97,408.79 L329.27,408.38 L329.56,407.98 L329.85,407.57 L330.15,407.16 L330.45,406.76 L330.75,406.36 L331.05,405.96 L331.35,405.56 L331.66,405.16 L331.96,404.76 L332.27,404.37 L332.58,403.98 L332.89,403.59 L333.20,403.20 L333.52,402.81 L333.84,402.43 L334.15,402.05 L334.47,401.67 L334.80,401.29 L335.12,400.91 L335.45,400.54 L335.78,400.17 L336.11,399.80 L336.44,399.44 L336.77,399.07 L337.11,398.71 L337.45,398.35 L337.79,398.00 L338.13,397.65 L338.48,397.30 L338.83,396.95 L339.18,396.60 L339.53,396.26 L339.88,395.92 L340.24,395.59 L340.60,395.26 L340.96,394.93 L341.33,394.60 L341.69,394.28 L342.06,393.96 L342.43,393.64 L342.81,393.33 L343.18,393.02 L343.56,392.72 L343.95,392.41 L344.33,392.11 L344.72,391.82 L345.11,391.53 L345.50,391.24 L345.90,390.96 L346.29,390.68 L346.70,390.40 L347.10,390.13 L347.51,389.86 L347.92,389.59 L348.33,389.33 L348.74,389.08 L349.16,388.83 L349.58,388.58 L350.01,388.33 L350.44,388.10 L350.87,387.86 L351.30,387.63 L351.74,387.41 L352.18,387.18 L352.62,386.97 L353.07,386.76 L353.52,386.55 L353.97,386.35 L354.43,386.15 L354.89,385.95 L355.35,385.77 L355.81,385.58 L356.28,385.41 L356.75,385.23 L357.23,385.07 L357.70,384.91 L358.18,384.75 L358.66,384.60 L359.14,384.46 L359.62,384.32 L360.11,384.19 L360.60,384.07 L361.08,383.95 L361.57,383.84 L362.07,383.74 L362.56,383.64 L363.05,383.55 L363.54,383.47 L364.04,383.39 L364.53,383.32 L365.03,383.26 L365.52,383.21 L366.02,383.16 L366.52,383.12 L367.01,383.09 L367.51,383.07 L368.00,383.06 L368.50,383.05 L368.99,383.06 L369.48,383.07 L369.98,383.09 L370.47,383.12 L370.96,383.16 L371.45,383.21 L371.93,383.26 L372.42,383.32 L372.91,383.40 L373.39,383.48 L373.87,383.56 L374.36,383.66 L374.84,383.76 L375.32,383.87 L375.79,383.99 L376.27,384.11 L376.75,384.24 L377.22,384.38 L377.69,384.53 L378.16,384.68 L378.63,384.83 L379.10,384.99 L379.57,385.16 L380.03,385.34 L380.49,385.52 L380.96,385.70 L381.42,385.89 L381.87,386.09 L382.33,386.29 L382.78,386.49 L383.24,386.70 L383.69,386.92 L384.14,387.13 L384.58,387.36 L385.03,387.58 L385.47,387.81 L385.91,388.05 L386.35,388.28 L386.79,388.53 L387.23,388.77 L387.66,389.02 L388.09,389.27 L388.52,389.52 L388.95,389.77 L389.37,390.03 L389.80,390.29 L390.22,390.55 L390.64,390.82 L391.05,391.09 L391.47,391.36 L391.88,391.63 L392.29,391.90 L392.70,392.18 L393.11,392.46 L393.52,392.74 L393.92,393.03 L394.32,393.31 L394.72,393.60 L395.12,393.89 L395.52,394.18 L395.92,394.48 L396.31,394.77 L396.70,395.07 L397.10,395.37 L397.49,395.68 L397.87,395.98 L398.26,396.29 L398.65,396.59 L399.03,396.90 L399.41,397.22 L399.80,397.53 L400.18,397.84 L400.56,398.16 L400.93,398.48 L401.31,398.80 L401.68,399.12 L402.06,399.44 L402.43,399.76 L402.80,400.09 L403.18,400.42 L403.55,400.74 L403.91,401.07 L404.28,401.40 L404.65,401.73 L405.02,402.07 L405.38,402.40 L405.75,402.74 L406.11,403.07 L406.47,403.41 L406.83,403.75 L407.19,404.09 L407.56,404.43 L407.91,404.77 L408.27,405.11 L408.63,405.45 L408.99,405.80 L409.35,406.14 L409.70,406.49 L410.06,406.83 L410.42,407.18 L410.77,407.52 L411.13,407.87 L411.48,408.22 L411.83,408.57 L412.19,408.92 L412.54,409.27 L412.89,409.62 L413.25,409.97 L413.60,410.32 L413.95,410.67 L414.30,411.02 L414.66,411.37 L415.01,411.72 L415.36,412.07 L415.71,412.42 L416.06,412.77 L416.42,413.12 L416.77,413.48 L417.12,413.83 L417.47,414.18 L417.82,414.53 L418.17,414.88 L418.53,415.23 L418.88,415.58 L419.23,415.93 L419.58,416.28 L419.94,416.63 L420.29,416.98 L420.64,417.33 L421.00,417.68 L421.35,418.03 L421.71,418.37 L422.06,418.72 L422.42,419.07 L422.77,419.41 L423.13,419.76 L423.49,420.10 L423.85,420.45 L424.21,420.79 L424.56,421.13 L424.92,421.47 L425.28,421.81 L425.65,422.15 L426.01,422.49 L426.37,422.83 L426.73,423.16 L427.10,423.50 L427.46,423.83 L427.83,424.17 L428.20,424.50 L428.56,424.83 L428.93,425.16 L429.30,425.49 L429.67,425.82 L430.04,426.15 L430.41,426.47 L430.78,426.80 L431.15,427.13 L431.53,427.45 L431.90,427.77 L432.27,428.10 L432.65,428.42 L433.02,428.74 L433.40,429.06 L433.78,429.38 L434.15,429.70 L434.53,430.02 L434.91,430.34 L435.29,430.66 L435.66,430.97 L436.04,431.29 L436.42,431.61 L436.80,431.92 L437.18,432.24 L437.56,432.55 L437.95,432.86 L438.33,433.18 L438.71,433.49 L439.09,433.80 L439.48,434.12 L439.86,434.43 L440.24,434.74 L440.63,435.05 L441.01,435.36 L441.40,435.67 L441.78,435.98 L442.17,436.29 L442.55,436.60 L442.94,436.91 L443.32,437.22 L443.71,437.52 L444.10,437.83 L444.48,438.14 L444.87,438.45 L445.26,438.76 L445.64,439.06 L446.03,439.37 L446.42,439.68 L446.80,439.99 L447.19,440.29 L447.58,440.60 L447.97,440.91 L448.35,441.21 L448.74,441.52 L449.13,441.83 L449.52,442.13 L449.91,442.44 L450.29,442.75 L450.68,443.05 L451.07,443.36 L451.46,443.67 L451.85,443.98 L452.23,444.28 L452.62,444.59 L453.01,444.90 L453.40,445.21 L453.78,445.51 L454.17,445.82 L454.56,446.12 L454.95,446.43 L455.34,446.73 L455.73,447.04 L456.12,447.34 L456.51,447.64 L456.91,447.94 L457.30,448.24 L457.69,448.54 L458.09,448.83 L458.49,449.13 L458.88,449.42 L459.28,449.71 L459.68,450.00 L460.08,450.29 L460.49,450.57 L460.89,450.85 L461.30,451.13 L461.71,451.41 L462.12,451.68 L462.53,451.95 L462.94,452.22 L463.35,452.49 L463.77,452.75 L464.18,453.02 L464.60,453.28 L465.02,453.53 L465.44,453.79 L465.87,454.04 L466.29,454.29 L466.71,454.54 L467.14,454.79 L467.57,455.03 L468.00,455.28 L468.43,455.52 L468.86,455.75 L469.30,455.99 L469.73,456.22 L470.17,456.45 L470.60,456.68 L471.04,456.91 L471.48,457.13 L471.92,457.35 L472.36,457.57 L472.81,457.79 L473.25,458.01 L473.70,458.22 L474.14,458.44 L474.59,458.65 L475.04,458.86 L475.49,459.07 L475.94,459.27 L476.39,459.48 L476.84,459.68 L477.30,459.88 L477.75,460.08 L478.21,460.28 L478.66,460.48 L479.12,460.67 L479.57,460.87 L480.03,461.06 L480.49,461.25 L480.95,461.45 L481.41,461.64 L481.87,461.83 L482.33,462.01 L482.79,462.20 L483.25,462.39 L483.71,462.57 L484.17,462.76 L484.63,462.94 L485.10,463.13 L485.56,463.31 L486.02,463.49 L486.48,463.68 L486.95,463.86 L487.41,464.04 L487.87,464.22 L488.34,464.40 L488.80,464.58 L489.27,464.76 L489.73,464.94 L490.19,465.12 L490.66,465.30 L491.12,465.48 L491.58,465.66 L492.05,465.84 L492.51,466.02 L492.97,466.20 L493.44,466.38 L493.90,466.56 L494.36,466.74 L494.82,466.92 L495.29,467.10 L495.75,467.28 L496.21,467.46 L496.67,467.64 L497.14,467.82 L497.60,468.00 L498.06,468.18 L498.52,468.36 L498.98,468.54 L499.45,468.72 L499.91,468.91 L500.37,469.09 L500.83,469.27 L501.29,469.45 L501.75,469.63 L502.21,469.82 L502.67,470.00 L503.13,470.18 L503.59,470.37 L504.05,470.55 L504.51,470.74 L504.97,470.92 L505.43,471.11 L505.89,471.30 L506.34,471.48 L506.80,471.67 L507.26,471.86 L507.72,472.04 L508.18,472.23 L508.63,472.42 L509.09,472.61 L509.55,472.80 L510.00,472.99 L510.46,473.19 L510.91,473.38 L511.37,473.57 L511.83,473.76 L512.28,473.96 L512.74,474.15 L513.19,474.35 L513.64,474.55 L514.10,474.74 L514.55,474.94 L515.00,475.14 L515.46,475.34 L515.91,475.54 L516.36,475.74 L516.81,475.94 L517.26,476.15 L517.71,476.35 L518.17,476.55 L518.62,476.76 L519.07,476.97 L519.52,477.17 L519.96,477.38 L520.41,477.59 L520.86,477.80 L521.31,478.01 L521.76,478.23 L522.20,478.44 L522.65,478.65 L523.10,478.87 L523.54,479.09 L523.99,479.30 L524.43,479.52 L524.88,479.74 L525.32,479.96 L525.77,480.19 L526.21,480.41 L526.65,480.64 L527.09,480.86 L527.54,481.09 L527.98,481.32 L528.42,481.55 L528.86,481.78 L529.30,482.01 L529.74,482.24 L530.18,482.48 L530.61,482.72 L531.05,482.95 L531.49,483.19 L531.93,483.43 L532.36,483.68 L532.80,483.92 L533.23,484.17 L533.67,484.41 L534.10,484.66 L534.53,484.91 L534.96,485.16 L535.39,485.41 L535.82,485.67 L536.25,485.92 L536.67,486.18 L537.10,486.44 L537.52,486.70 L537.95,486.97 L538.37,487.23 L538.79,487.50 L539.21,487.76 L539.63,488.03 L540.04,488.31 L540.46,488.58 L540.87,488.85 L541.28,489.13 L541.69,489.41 L542.10,489.69 L542.50,489.97 L542.91,490.26 L543.31,490.55 L543.71,490.84 L544.11,491.13 L544.51,491.42 L544.90,491.71 L545.30,492.01 L545.69,492.31 L546.08,492.61 L546.46,492.91 L546.85,493.22 L547.23,493.53 L547.61,493.84 L547.99,494.15 L548.36,494.46 L548.73,494.78 L549.11,495.10 L549.47,495.42 L549.84,495.74 L550.20,496.06 L550.57,496.39 L550.93,496.72 L551.29,497.05 L551.64,497.38 L552.00,497.71 L552.35,498.05 L552.70,498.39 L553.06,498.73 L553.40,499.06 L553.75,499.41 L554.10,499.75 L554.45,500.09 L554.79,500.44 L555.13,500.79 L555.48,501.13 L555.82,501.48 L556.16,501.83 L556.50,502.18 L556.84,502.54 L557.18,502.89 L557.52,503.24 L557.86,503.60 L558.20,503.95 L558.54,504.31 L558.87,504.67 L559.21,505.02 L559.55,505.38 L559.89,505.74 L560.23,506.10 L560.57,506.46 L560.90,506.82 L561.24,507.18 L561.58,507.54 L561.92,507.90 L562.26,508.26 L562.60,508.62 L562.95,508.98 L563.29,509.35 L563.63,509.71 L563.98,510.07 L564.32,510.43 L564.67,510.79 L565.02,511.15 L565.37,511.51 L565.72,511.87 L566.07,512.23 L566.42,512.59 L566.77,512.95 L567.12,513.31 L567.48,513.67 L567.83,514.02 L568.19,514.38 L568.55,514.74 L568.91,515.09 L569.27,515.44 L569.63,515.80 L569.99,516.15 L570.36,516.50 L570.72,516.85 L571.08,517.20 L571.45,517.55 L571.82,517.90 L572.19,518.25 L572.56,518.59 L572.93,518.94 L573.30,519.28 L573.67,519.62 L574.05,519.96 L574.42,520.30 L574.80,520.64 L575.18,520.97 L575.56,521.31 L575.94,521.64 L576.32,521.97 L576.70,522.30 L577.09,522.63 L577.47,522.95 L577.86,523.28 L578.24,523.60 L578.63,523.92 L579.02,524.24 L579.41,524.55 L579.81,524.87 L580.20,525.18 L580.59,525.49 L580.99,525.79 L581.39,526.10 L581.78,526.40 L582.18,526.70 L582.59,527.00 L582.99,527.30 L583.39,527.59 L583.80,527.88 L584.20,528.17 L584.61,528.45 L585.02,528.74 L585.43,529.02 L585.84,529.29 L586.25,529.57 L586.66,529.84 L587.08,530.11 L587.49,530.38 L587.91,530.64 L588.33,530.90 L588.75,531.15 L589.17,531.41 L589.60,531.66 L590.02,531.91 L590.45,532.15 L590.87,532.39 L591.30,532.63 L591.73,532.87 L592.16,533.10 L592.59,533.33 L593.02,533.56 L593.46,533.78 L593.89,534.00 L594.33,534.22 L594.77,534.44 L595.21,534.65 L595.65,534.86 L596.09,535.07 L596.53,535.28 L596.97,535.48 L597.42,535.68 L597.86,535.88 L598.31,536.07 L598.76,536.26 L599.21,536.45 L599.66,536.64 L600.11,536.83 L600.56,537.01 L601.01,537.19 L601.47,537.37 L601.92,537.54 L602.38,537.71 L602.83,537.88 L603.29,538.05 L603.75,538.22 L604.21,538.38 L604.67,538.54 L605.13,538.70 L605.59,538.86 L606.06,539.01 L606.52,539.16 L606.99,539.31 L607.45,539.46 L607.92,539.61 L608.39,539.75 L608.86,539.89 L609.32,540.03 L609.79,540.17 L610.27,540.30 L610.74,540.44 L611.21,540.57 L611.68,540.70 L612.16,540.82 L612.63,540.95 L613.11,541.07 L613.58,541.19 L614.06,541.31 L614.54,541.43 L615.01,541.55 L615.49,541.66 L615.97,541.77 L616.45,541.88 L616.93,541.99 L617.41,542.10 L617.90,542.21 L618.38,542.31 L618.86,542.41 L619.35,542.51 L619.83,542.61 L620.32,542.71 L620.80,542.81 L621.29,542.90 L621.77,542.99 L622.26,543.08 L622.75,543.17 L623.24,543.26 L623.72,543.35 L624.21,543.44 L624.70,543.52 L625.19,543.60 L625.68,543.68 L626.17,543.76 L626.66,543.84 L627.16,543.92 L627.65,544.00 L628.14,544.07 L628.63,544.15 L629.12,544.22 L629.62,544.29 L630.11,544.36 L630.61,544.43 L631.10,544.50 L631.59,544.56 L632.09,544.63 L632.58,544.70 L633.08,544.76 L633.58,544.82 L634.07,544.88 L634.57,544.95 L635.06,545.01 L635.56,545.06 L636.06,545.12 L636.55,545.18 L637.05,545.24 L637.55,545.29 L638.05,545.35 L638.54,545.40 L639.04,545.45 L639.54,545.51 L640.04,545.56 L640.53,545.61 L641.03,545.66 L641.53,545.71 L642.03,545.76 L642.53,545.81 L643.03,545.86 L643.52,545.90 L644.02,545.95 L644.52,546.00 L645.02,546.04 L645.52,546.09 L646.02,546.13 L646.52,546.18 L647.01,546.22 L647.51,546.26 L648.01,546.31 L648.51,546.35 L649.01,546.39 L649.50,546.43 L650.00,546.48 L650.50,546.52 L651.00,546.56 L651.49,546.60 L651.99,546.64 L652.49,546.68 L652.99,546.72 L653.48,546.76 L653.98,546.80 L654.48,546.84 L654.97,546.88 L655.47,546.92 L655.97,546.95 L656.46,546.99 L656.96,547.03 L657.46,547.07 L657.95,547.10 L658.45,547.14 L658.95,547.18 L659.44,547.21 L659.94,547.25 L660.43,547.28 L660.93,547.32 L661.43,547.35 L661.92,547.39 L662.42,547.42 L662.91,547.45 L663.41,547.49 L663.90,547.52 L664.40,547.55 L664.89,547.59 L665.39,547.62 L665.89,547.65 L666.38,547.68 L666.88,547.72 L667.37,547.75 L667.87,547.78 L668.36,547.81 L668.85,547.84 L669.35,547.87 L669.84,547.90 L670.34,547.93 L670.83,547.96 L671.33,547.99 L671.82,548.02 L672.32,548.05 L672.81,548.07 L673.30,548.10 L673.80,548.13 L674.29,548.16 L674.79,548.18 L675.28,548.21 L675.77,548.24 L676.27,548.26 L676.76,548.29 L677.26,548.32 L677.75,548.34 L678.24,548.37 L678.74,548.39 L679.23,548.42 L679.72,548.44 L680.22,548.47 L680.71,548.49 L681.20,548.52 L681.70,548.54 L682.19,548.56 L682.68,548.59 L683.18,548.61 L683.67,548.63 L684.16,548.66 L684.66,548.68 L685.15,548.70 L685.64,548.72 L686.14,548.74 L686.63,548.77 L687.12,548.79 L687.61,548.81 L688.11,548.83 L688.60,548.85 L689.09,548.87 L689.58,548.89 L690.08,548.91 L690.57,548.93 L691.06,548.95 L691.56,548.97 L692.05,548.99 L692.54,549.01 L693.03,549.03 L693.53,549.05 L694.02,549.06 L694.51,549.08 L695.00,549.10 L695.49,549.12 L695.99,549.14 L696.48,549.15 L696.97,549.17 L697.46,549.19 L697.96,549.20 L698.45,549.22 L698.94,549.24 L699.43,549.25 L699.93,549.27 L700.42,549.28 L700.91,549.30 L701.40,549.32 L701.89,549.33 L702.39,549.35 L702.88,549.36 L703.37,549.37 L703.86,549.39 L704.35,549.40 L704.85,549.42 L705.34,549.43 L705.83,549.45 L706.32,549.46 L706.81,549.47 L707.31,549.49 L707.80,549.50 L708.29,549.51 L708.78,549.52 L709.28,549.54 L709.77,549.55 L710.26,549.56 L710.75,549.57 L711.24,549.59 L711.74,549.60 L712.23,549.61 L712.72,549.62 L713.21,549.63 L713.70,549.64 L714.20,549.66 L714.69,549.67 L715.18,549.68 L715.67,549.69 L716.16,549.70 L716.66,549.71 L717.15,549.72 L717.64,549.73 L718.13,549.74 L718.63,549.75 L719.12,549.76 L719.61,549.77 L720.10,549.78 L720.60,549.79 L721.09,549.80 L721.58,549.80 L722.07,549.81 L722.56,549.82 L723.06,549.83 L723.55,549.84 L724.04,549.85 L724.53,549.86 L725.03,549.86 L725.52,549.87 L726.01,549.88 L726.50,549.89 L727.00,549.89 L727.49,549.90 L727.98,549.91 L728.48,549.92 L728.97,549.92 L729.46,549.93 L729.95,549.94 L730.45,549.94 L730.94,549.95 L731.43,549.96 L731.93,549.96 L732.42,549.97 L732.91,549.98 L733.40,549.98 L733.90,549.99 L734.39,550.00 L734.88,550.00 L735.38,550.01 L735.87,550.01 L736.36,550.02 L736.86,550.02 L737.35,550.03 L737.84,550.04 L738.34,550.04 L738.83,550.05 L739.33,550.05 L739.82,550.06 L740.31,550.06 L740.81,550.07 L741.30,550.07 L741.79,550.08 L742.29,550.08 L742.78,550.09 L743.28,550.09 L743.77,550.09 L744.26,550.10 L744.76,550.10 L745.25,550.11 L745.75,550.11 L746.24,550.12 L746.74,550.12 L747.23,550.12 L747.73,550.13 L748.22,550.13 L748.71,550.14 L749.21,550.14 L749.70,550.14 L750.20,550.15 L750.69,550.15 L751.19,550.15 L751.68,550.16 L752.18,550.16 L752.68,550.16 L753.17,550.17 L753.67,550.17 L754.16,550.17 L754.66,550.18 L755.15,550.18 L755.65,550.18 L756.14,550.19 L756.64,550.19 L757.14,550.19 L757.63,550.20 L758.13,550.20 L758.62,550.20 L759.12,550.20 L759.62,550.21 L760.11,550.21 L760.61,550.21 L761.11,550.22 L761.60,550.22 L762.10,550.22 L762.60,550.22 L763.09,550.23 L763.59,550.23 L764.09,550.23 L764.59,550.24 L765.08,550.24 L765.58,550.24 L766.08,550.24 L766.58,550.25 L767.07,550.25 L767.57,550.25 L768.07,550.25 L768.57,550.26 L769.07,550.26 L769.56,550.26 L770.06,550.26 L770.56,550.27 L771.06,550.27 L771.56,550.27 L772.06,550.28 L772.56,550.28 L773.05,550.28 L773.55,550.28 L774.05,550.29 L774.55,550.29 L775.05,550.29 L775.55,550.29 L776.05,550.30 L776.55,550.30 L777.05,550.30 L777.55,550.30 L778.05,550.31 L778.55,550.31 L779.05,550.31 L779.55,550.32 L780.05,550.32 L780.55,550.32 L781.05,550.32 L781.55,550.33 L782.05,550.33 L782.56,550.33 L783.06,550.34 L783.56,550.34 L784.06,550.34 L784.56,550.35 L785.06,550.35 L785.56,550.35 L786.07,550.36 L786.57,550.36 L787.07,550.36 L787.57,550.37 L788.08,550.37 L788.58,550.37 L789.08,550.38 L789.58,550.38 L790.09,550.38 L790.59,550.39 L791.09,550.39 L791.60,550.40 L792.10,550.40" stroke="#FF0000" stroke-dasharray="7 6.8 1.4 6.8 1.4 7"/>
<path d="M128.40,550.65 L128.68,550.27 L128.95,549.90 L129.23,549.52 L129.50,549.13 L129.77,548.75 L130.04,548.37 L130.31,547.98 L130.57,547.59 L130.84,547.20 L131.10,546.81 L131.37,546.41 L131.63,546.02 L131.89,545.62 L132.15,545.22 L132.41,544.83 L132.67,544.43 L132.93,544.03 L133.19,543.62 L133.45,543.22 L133.71,542.82 L133.96,542.41 L134.22,542.01 L134.48,541.61 L134.74,541.20 L135.00,540.79 L135.26,540.39 L135.51,539.98 L135.77,539.57 L136.03,539.17 L136.30,538.76 L136.56,538.35 L136.82,537.95 L137.08,537.54 L137.35,537.13 L137.61,536.73 L137.88,536.32 L138.15,535.92 L138.42,535.51 L138.69,535.11 L138.96,534.70 L139.23,534.30 L139.51,533.90 L139.78,533.50 L140.06,533.10 L140.34,532.70 L140.63,532.30 L140.91,531.91 L141.20,531.51 L141.49,531.12 L141.78,530.73 L142.08,530.33 L142.37,529.95 L142.67,529.56 L142.97,529.17 L143.28,528.79 L143.59,528.41 L143.90,528.03 L144.21,527.65 L144.53,527.27 L144.85,526.90 L145.17,526.53 L145.50,526.16 L145.83,525.79 L146.17,525.43 L146.51,525.06 L146.85,524.70 L147.19,524.35 L147.54,523.99 L147.90,523.64 L148.25,523.29 L148.62,522.95 L148.98,522.61 L149.35,522.27 L149.72,521.93 L150.10,521.60 L150.48,521.28 L150.86,520.96 L151.25,520.64 L151.64,520.33 L152.04,520.02 L152.43,519.72 L152.83,519.42 L153.24,519.13 L153.64,518.84 L154.05,518.56 L154.46,518.29 L154.87,518.02 L155.29,517.76 L155.71,517.50 L156.13,517.25 L156.55,517.01 L156.98,516.78 L157.41,516.56 L157.84,516.34 L158.27,516.13 L158.70,515.93 L159.14,515.73 L159.57,515.55 L160.01,515.37 L160.45,515.20 L160.89,515.05 L161.33,514.90 L161.78,514.76 L162.22,514.63 L162.67,514.51 L163.11,514.40 L163.56,514.30 L164.01,514.21 L164.46,514.13 L164.91,514.07 L165.36,514.01 L165.81,513.97 L166.26,513.93 L166.71,513.91 L167.16,513.90 L167.61,513.91 L168.06,513.92 L168.51,513.95 L168.96,513.99 L169.42,514.04 L169.87,514.10 L170.32,514.17 L170.77,514.26 L171.22,514.35 L171.67,514.45 L172.12,514.56 L172.57,514.68 L173.03,514.81 L173.48,514.94 L173.93,515.08 L174.38,515.23 L174.84,515.38 L175.29,515.54 L175.74,515.71 L176.20,515.88 L176.65,516.06 L177.11,516.23 L177.56,516.42 L178.02,516.60 L178.48,516.79 L178.94,516.98 L179.39,517.18 L179.85,517.37 L180.31,517.57 L180.77,517.76 L181.23,517.96 L181.69,518.16 L182.16,518.35 L182.62,518.55 L183.08,518.74 L183.55,518.93 L184.01,519.12 L184.48,519.31 L184.95,519.49 L185.42,519.67 L185.89,519.85 L186.36,520.02 L186.83,520.18 L187.30,520.34 L187.78,520.50 L188.25,520.65 L188.73,520.79 L189.20,520.93 L189.68,521.07 L190.15,521.20 L190.63,521.32 L191.10,521.43 L191.58,521.54 L192.06,521.65 L192.53,521.74 L193.01,521.84 L193.48,521.92 L193.95,522.00 L194.43,522.07 L194.90,522.13 L195.37,522.18 L195.84,522.23 L196.31,522.27 L196.78,522.30 L197.24,522.33 L197.71,522.34 L198.17,522.35 L198.63,522.35 L199.09,522.34 L199.55,522.33 L200.00,522.30 L200.45,522.27 L200.90,522.22 L201.35,522.17 L201.80,522.11 L202.24,522.04 L202.68,521.96 L203.12,521.87 L203.55,521.77 L203.98,521.66 L204.41,521.54 L204.83,521.41 L205.25,521.26 L205.67,521.11 L206.08,520.95 L206.49,520.78 L206.90,520.60 L207.30,520.40 L207.70,520.20 L208.09,519.99 L208.48,519.77 L208.87,519.53 L209.26,519.29 L209.64,519.04 L210.01,518.78 L210.39,518.52 L210.76,518.24 L211.12,517.96 L211.49,517.67 L211.85,517.37 L212.20,517.06 L212.56,516.74 L212.91,516.42 L213.25,516.09 L213.60,515.76 L213.94,515.42 L214.28,515.07 L214.61,514.71 L214.94,514.35 L215.27,513.99 L215.60,513.62 L215.92,513.24 L216.24,512.86 L216.55,512.47 L216.87,512.08 L217.18,511.68 L217.48,511.28 L217.79,510.88 L218.09,510.47 L218.39,510.05 L218.69,509.64 L218.98,509.22 L219.27,508.80 L219.56,508.37 L219.85,507.94 L220.13,507.51 L220.41,507.08 L220.69,506.64 L220.96,506.21 L221.24,505.77 L221.51,505.33 L221.78,504.89 L222.04,504.44 L222.31,504.00 L222.57,503.56 L222.83,503.11 L223.08,502.67 L223.34,502.22 L223.59,501.78 L223.84,501.33 L224.09,500.89 L224.33,500.45 L224.58,500.00 L224.82,499.56 L225.06,499.12 L225.30,498.68 L225.53,498.24 L225.77,497.80 L226.00,497.36 L226.23,496.92 L226.46,496.49 L226.69,496.05 L226.91,495.61 L227.14,495.18 L227.36,494.74 L227.58,494.31 L227.80,493.87 L228.02,493.44 L228.24,493.01 L228.45,492.58 L228.67,492.14 L228.88,491.71 L229.09,491.28 L229.30,490.85 L229.51,490.42 L229.72,489.99 L229.93,489.56 L230.14,489.14 L230.34,488.71 L230.55,488.28 L230.76,487.85 L230.96,487.43 L231.16,487.00 L231.37,486.58 L231.57,486.15 L231.77,485.72 L231.97,485.30 L232.17,484.88 L232.38,484.45 L232.58,484.03 L232.78,483.60 L232.98,483.18 L233.18,482.76 L233.38,482.33 L233.58,481.91 L233.78,481.49 L233.98,481.07 L234.18,480.65 L234.38,480.22 L234.58,479.80 L234.78,479.38 L234.98,478.96 L235.18,478.54 L235.38,478.12 L235.58,477.70 L235.79,477.28 L235.99,476.86 L236.19,476.44 L236.40,476.02 L236.60,475.60 L236.81,475.18 L237.01,474.76 L237.22,474.34 L237.43,473.92 L237.64,473.50 L237.85,473.08 L238.06,472.66 L238.27,472.24 L238.48,471.82 L238.70,471.40 L238.91,470.98 L239.13,470.56 L239.35,470.14 L239.57,469.72 L239.79,469.30 L240.01,468.88 L240.23,468.46 L240.46,468.04 L240.68,467.62 L240.91,467.20 L241.14,466.78 L241.37,466.36 L241.60,465.94 L241.84,465.52 L242.07,465.10 L242.31,464.68 L242.54,464.26 L242.78,463.84 L243.02,463.42 L243.26,463.00 L243.50,462.58 L243.74,462.16 L243.99,461.74 L244.23,461.32 L244.48,460.90 L244.72,460.49 L244.97,460.07 L245.22,459.65 L245.47,459.23 L245.72,458.81 L245.97,458.39 L246.22,457.97 L246.47,457.55 L246.73,457.14 L246.98,456.72 L247.24,456.30 L247.49,455.88 L247.75,455.47 L248.01,455.05 L248.26,454.64 L248.52,454.22 L248.78,453.80 L249.04,453.39 L249.30,452.97 L249.56,452.56 L249.82,452.14 L250.08,451.73 L250.35,451.32 L250.61,450.90 L250.87,450.49 L251.14,450.08 L251.40,449.67 L251.66,449.26 L251.93,448.84 L252.19,448.43 L252.46,448.02 L252.72,447.61 L252.99,447.21 L253.26,446.80 L253.52,446.39 L253.79,445.98 L254.06,445.57 L254.32,445.17 L254.59,444.76 L254.86,444.36 L255.12,443.95 L255.39,443.55 L255.66,443.15 L255.92,442.74 L256.19,442.34 L256.46,441.94 L256.72,441.54 L256.99,441.14 L257.26,440.74 L257.53,440.34 L257.79,439.94 L258.06,439.55 L258.33,439.15 L258.60,438.76 L258.88,438.37 L259.15,437.98 L259.42,437.59 L259.70,437.20 L259.98,436.81 L260.26,436.42 L260.54,436.04 L260.82,435.66 L261.10,435.28 L261.39,434.90 L261.68,434.52 L261.97,434.14 L262.26,433.77 L262.55,433.40 L262.85,433.03 L263.15,432.66 L263.45,432.29 L263.76,431.93 L264.07,431.57 L264.38,431.21 L264.69,430.85 L265.01,430.50 L265.33,430.15 L265.65,429.80 L265.98,429.45 L266.31,429.10 L266.64,428.76 L266.97,428.42 L267.31,428.08 L267.65,427.75 L267.99,427.42 L268.34,427.08 L268.69,426.76 L269.04,426.43 L269.39,426.11 L269.75,425.79 L270.11,425.47 L270.47,425.16 L270.84,424.84 L271.20,424.53 L271.57,424.23 L271.94,423.92 L272.32,423.62 L272.69,423.32 L273.07,423.02 L273.46,422.73 L273.84,422.44 L274.23,422.15 L274.61,421.86 L275.00,421.58 L275.40,421.30 L275.79,421.02 L276.19,420.75 L276.59,420.48 L276.99,420.21 L277.39,419.94 L277.80,419.68 L278.21,419.42 L278.62,419.16 L279.03,418.90 L279.44,418.65 L279.86,418.40 L280.27,418.16 L280.69,417.91 L281.11,417.67 L281.53,417.44 L281.96,417.20 L282.39,416.97 L282.81,416.74 L283.24,416.52 L283.67,416.30 L284.11,416.08 L284.54,415.86 L284.98,415.65 L285.41,415.44 L285.85,415.23 L286.29,415.03 L286.73,414.83 L287.18,414.63 L287.62,414.44 L288.07,414.25 L288.52,414.06 L288.96,413.88 L289.41,413.69 L289.87,413.52 L290.32,413.34 L290.77,413.17 L291.23,413.00 L291.68,412.84 L292.14,412.68 L292.60,412.52 L293.06,412.37 L293.52,412.22 L293.98,412.07 L294.44,411.92 L294.90,411.78 L295.37,411.65 L295.83,411.51 L296.30,411.38 L296.76,411.26 L297.23,411.13 L297.70,411.01 L298.17,410.90 L298.64,410.78 L299.11,410.67 L299.58,410.57 L300.05,410.47 L300.52,410.37 L300.99,410.27 L301.47,410.18 L301.94,410.10 L302.41,410.01 L302.89,409.93 L303.36,409.86 L303.84,409.78 L304.32,409.71 L304.79,409.65 L305.27,409.59 L305.74,409.53 L306.22,409.48 L306.70,409.43 L307.18,409.38 L307.65,409.34 L308.13,409.30 L308.61,409.26 L309.09,409.23 L309.57,409.20 L310.04,409.18 L310.52,409.16 L311.00,409.14 L311.48,409.13 L311.96,409.12 L312.44,409.11 L312.92,409.11 L313.40,409.11 L313.88,409.11 L314.35,409.12 L314.83,409.13 L315.31,409.14 L315.79,409.16 L316.27,409.18 L316.75,409.20 L317.23,409.23 L317.71,409.26 L318.19,409.29 L318.67,409.32 L319.14,409.36 L319.62,409.40 L320.10,409.45 L320.58,409.50 L321.06,409.55 L321.54,409.60 L322.01,409.66 L322.49,409.72 L322.97,409.78 L323.45,409.85 L323.92,409.91 L324.40,409.98 L324.88,410.06 L325.35,410.13 L325.83,410.21 L326.30,410.29 L326.78,410.38 L327.25,410.46 L327.73,410.55 L328.20,410.65 L328.68,410.74 L329.15,410.84 L329.62,410.94 L330.10,411.04 L330.57,411.14 L331.04,411.25 L331.51,411.36 L331.98,411.47 L332.45,411.58 L332.92,411.70 L333.39,411.82 L333.86,411.94 L334.33,412.06 L334.80,412.19 L335.27,412.31 L335.73,412.44 L336.20,412.57 L336.67,412.71 L337.13,412.84 L337.60,412.98 L338.06,413.12 L338.52,413.26 L338.99,413.40 L339.45,413.55 L339.91,413.69 L340.37,413.84 L340.83,413.99 L341.29,414.14 L341.75,414.30 L342.21,414.45 L342.66,414.61 L343.12,414.77 L343.57,414.93 L344.03,415.09 L344.48,415.26 L344.94,415.42 L345.39,415.59 L345.84,415.76 L346.29,415.93 L346.74,416.10 L347.19,416.27 L347.64,416.45 L348.09,416.63 L348.53,416.80 L348.98,416.98 L349.42,417.16 L349.87,417.35 L350.31,417.53 L350.76,417.71 L351.20,417.90 L351.64,418.09 L352.08,418.28 L352.52,418.47 L352.96,418.66 L353.40,418.86 L353.84,419.05 L354.28,419.25 L354.71,419.45 L355.15,419.64 L355.58,419.84 L356.02,420.05 L356.45,420.25 L356.89,420.45 L357.32,420.66 L357.75,420.87 L358.18,421.07 L358.61,421.28 L359.04,421.49 L359.47,421.71 L359.90,421.92 L360.33,422.13 L360.76,422.35 L361.19,422.57 L361.61,422.78 L362.04,423.00 L362.46,423.22 L362.89,423.45 L363.31,423.67 L363.74,423.89 L364.16,424.12 L364.58,424.34 L365.00,424.57 L365.42,424.80 L365.85,425.03 L366.27,425.26 L366.69,425.49 L367.10,425.72 L367.52,425.95 L367.94,426.19 L368.36,426.42 L368.78,426.66 L369.19,426.90 L369.61,427.14 L370.02,427.38 L370.44,427.62 L370.85,427.86 L371.27,428.10 L371.68,428.34 L372.09,428.59 L372.51,428.83 L372.92,429.08 L373.33,429.32 L373.74,429.57 L374.15,429.82 L374.56,430.07 L374.97,430.32 L375.38,430.57 L375.79,430.82 L376.20,431.08 L376.61,431.33 L377.01,431.58 L377.42,431.84 L377.83,432.09 L378.23,432.35 L378.64,432.61 L379.05,432.87 L379.45,433.13 L379.86,433.39 L380.26,433.65 L380.66,433.91 L381.07,434.17 L381.47,434.43 L381.88,434.69 L382.28,434.96 L382.68,435.22 L383.08,435.49 L383.48,435.75 L383.89,436.02 L384.29,436.28 L384.69,436.55 L385.09,436.82 L385.49,437.09 L385.89,437.36 L386.29,437.63 L386.69,437.90 L387.08,438.17 L387.48,438.44 L387.88,438.71 L388.28,438.98 L388.68,439.26 L389.07,439.53 L389.47,439.80 L389.87,440.08 L390.27,440.35 L390.66,440.63 L391.06,440.90 L391.45,441.18 L391.85,441.45 L392.25,441.73 L392.64,442.01 L393.04,442.28 L393.43,442.56 L393.83,442.84 L394.22,443.12 L394.61,443.40 L395.01,443.67 L395.40,443.95 L395.80,444.23 L396.19,444.51 L396.58,444.79 L396.98,445.07 L397.37,445.35 L397.76,445.64 L398.15,445.92 L398.55,446.20 L398.94,446.48 L399.33,446.76 L399.72,447.04 L400.12,447.33 L400.51,447.61 L400.90,447.89 L401.29,448.17 L401.68,448.46 L402.07,448.74 L402.47,449.02 L402.86,449.30 L403.25,449.59 L403.64,449.87 L404.03,450.15 L404.42,450.44 L404.81,450.72 L405.20,451.00 L405.59,451.29 L405.99,451.57 L406.38,451.85 L406.77,452.14 L407.16,452.42 L407.55,452.70 L407.94,452.99 L408.33,453.27 L408.72,453.56 L409.11,453.84 L409.50,454.12 L409.89,454.40 L410.28,454.69 L410.67,454.97 L411.06,455.25 L411.45,455.54 L411.84,455.82 L412.24,456.10 L412.63,456.38 L413.02,456.67 L413.41,456.95 L413.80,457.23 L414.19,457.51 L414.58,457.79 L414.97,458.07 L415.36,458.36 L415.75,458.64 L416.15,458.92 L416.54,459.20 L416.93,459.48 L417.32,459.76 L417.71,460.04 L418.10,460.32 L418.50,460.60 L418.89,460.88 L419.28,461.16 L419.67,461.44 L420.07,461.71 L420.46,461.99 L420.85,462.27 L421.24,462.55 L421.64,462.82 L422.03,463.10 L422.43,463.38 L422.82,463.65 L423.21,463.93 L423.61,464.20 L424.00,464.48 L424.40,464.75 L424.79,465.03 L425.19,465.30 L425.58,465.58 L425.98,465.85 L426.37,466.12 L426.77,466.39 L427.16,466.67 L427.56,466.94 L427.96,467.21 L428.35,467.48 L428.75,467.75 L429.15,468.02 L429.55,468.29 L429.95,468.56 L430.34,468.82 L430.74,469.09 L431.14,469.36 L431.54,469.63 L431.94,469.89 L432.34,470.16 L432.74,470.42 L433.14,470.69 L433.54,470.95 L433.94,471.21 L434.34,471.48 L434.75,471.74 L435.15,472.00 L435.55,472.26 L435.95,472.52 L436.36,472.78 L436.76,473.04 L437.16,473.30 L437.57,473.56 L437.97,473.82 L438.38,474.07 L438.79,474.33 L439.19,474.58 L439.60,474.84 L440.00,475.09 L440.41,475.35 L440.82,475.60 L441.23,475.85 L441.64,476.10 L442.05,476.35 L442.46,476.60 L442.87,476.85 L443.28,477.10 L443.69,477.35 L444.10,477.59 L444.51,477.84 L444.92,478.08 L445.34,478.33 L445.75,478.57 L446.16,478.81 L446.58,479.06 L446.99,479.30 L447.41,479.54 L447.82,479.78 L448.24,480.01 L448.66,480.25 L449.07,480.49 L449.49,480.73 L449.91,480.96 L450.33,481.20 L450.75,481.43 L451.17,481.66 L451.59,481.90 L452.01,482.13 L452.43,482.36 L452.85,482.59 L453.27,482.82 L453.70,483.05 L454.12,483.28 L454.54,483.51 L454.96,483.74 L455.39,483.97 L455.81,484.20 L456.23,484.42 L456.66,484.65 L457.08,484.88 L457.51,485.11 L457.93,485.33 L458.36,485.56 L458.78,485.79 L459.21,486.01 L459.63,486.24 L460.06,486.47 L460.48,486.69 L460.91,486.92 L461.33,487.15 L461.76,487.37 L462.18,487.60 L462.61,487.83 L463.03,488.05 L463.46,488.28 L463.88,488.51 L464.31,488.74 L464.73,488.97 L465.15,489.19 L465.58,489.42 L466.00,489.65 L466.43,489.88 L466.85,490.11 L467.27,490.34 L467.70,490.57 L468.12,490.81 L468.54,491.04 L468.97,491.27 L469.39,491.50 L469.81,491.74 L470.23,491.97 L470.66,492.21 L471.08,492.45 L471.50,492.68 L471.92,492.92 L472.34,493.16 L472.76,493.40 L473.18,493.63 L473.60,493.87 L474.02,494.11 L474.44,494.35 L474.86,494.59 L475.27,494.83 L475.69,495.08 L476.11,495.32 L476.53,495.56 L476.95,495.80 L477.37,496.04 L477.79,496.28 L478.21,496.52 L478.62,496.77 L479.04,497.01 L479.46,497.25 L479.88,497.49 L480.30,497.73 L480.72,497.97 L481.14,498.21 L481.55,498.46 L481.97,498.70 L482.39,498.94 L482.81,499.18 L483.23,499.41 L483.65,499.65 L484.07,499.89 L484.49,500.13 L484.91,500.37 L485.33,500.60 L485.75,500.84 L486.18,501.08 L486.60,501.31 L487.02,501.54 L487.44,501.78 L487.86,502.01 L488.29,502.24 L488.71,502.47 L489.13,502.70 L489.56,502.93 L489.98,503.16 L490.41,503.38 L490.83,503.61 L491.26,503.84 L491.69,504.06 L492.11,504.28 L492.54,504.50 L492.97,504.72 L493.40,504.94 L493.83,505.16 L494.25,505.38 L494.68,505.60 L495.11,505.81 L495.55,506.03 L495.98,506.24 L496.41,506.45 L496.84,506.67 L497.27,506.88 L497.70,507.09 L498.14,507.30 L498.57,507.50 L499.00,507.71 L499.44,507.92 L499.87,508.12 L500.31,508.33 L500.74,508.53 L501.18,508.73 L501.62,508.93 L502.05,509.13 L502.49,509.33 L502.93,509.53 L503.37,509.73 L503.80,509.93 L504.24,510.12 L504.68,510.32 L505.12,510.51 L505.56,510.71 L506.00,510.90 L506.44,511.09 L506.88,511.28 L507.33,511.47 L507.77,511.66 L508.21,511.85 L508.65,512.03 L509.09,512.22 L509.54,512.40 L509.98,512.59 L510.43,512.77 L510.87,512.95 L511.31,513.14 L511.76,513.32 L512.20,513.50 L512.65,513.67 L513.10,513.85 L513.54,514.03 L513.99,514.21 L514.44,514.38 L514.88,514.56 L515.33,514.73 L515.78,514.90 L516.23,515.08 L516.68,515.25 L517.13,515.42 L517.58,515.59 L518.03,515.76 L518.48,515.93 L518.93,516.09 L519.38,516.26 L519.83,516.43 L520.28,516.59 L520.73,516.76 L521.18,516.92 L521.63,517.08 L522.09,517.24 L522.54,517.41 L522.99,517.57 L523.44,517.73 L523.90,517.88 L524.35,518.04 L524.81,518.20 L525.26,518.36 L525.72,518.51 L526.17,518.67 L526.63,518.82 L527.08,518.98 L527.54,519.13 L527.99,519.28 L528.45,519.43 L528.91,519.58 L529.36,519.73 L529.82,519.88 L530.28,520.03 L530.73,520.18 L531.19,520.33 L531.65,520.47 L532.11,520.62 L532.57,520.76 L533.03,520.91 L533.49,521.05 L533.95,521.19 L534.40,521.33 L534.86,521.48 L535.32,521.62 L535.78,521.76 L536.25,521.90 L536.71,522.03 L537.17,522.17 L537.63,522.31 L538.09,522.45 L538.55,522.58 L539.01,522.72 L539.47,522.85 L539.94,522.99 L540.40,523.12 L540.86,523.25 L541.32,523.39 L541.79,523.52 L542.25,523.65 L542.71,523.78 L543.18,523.91 L543.64,524.04 L544.11,524.16 L544.57,524.29 L545.03,524.42 L545.50,524.55 L545.96,524.67 L546.43,524.80 L546.89,524.92 L547.36,525.05 L547.82,525.17 L548.29,525.29 L548.75,525.41 L549.22,525.54 L549.69,525.66 L550.15,525.78 L550.62,525.90 L551.08,526.02 L551.55,526.14 L552.02,526.25 L552.48,526.37 L552.95,526.49 L553.42,526.61 L553.89,526.72 L554.35,526.84 L554.82,526.95 L555.29,527.07 L555.76,527.18 L556.22,527.29 L556.69,527.41 L557.16,527.52 L557.63,527.63 L558.10,527.74 L558.57,527.85 L559.03,527.96 L559.50,528.07 L559.97,528.18 L560.44,528.29 L560.91,528.40 L561.38,528.51 L561.85,528.61 L562.32,528.72 L562.79,528.83 L563.26,528.93 L563.73,529.04 L564.20,529.14 L564.67,529.25 L565.14,529.35 L565.61,529.45 L566.08,529.56 L566.55,529.66 L567.02,529.76 L567.49,529.86 L567.96,529.96 L568.43,530.06 L568.90,530.16 L569.37,530.26 L569.84,530.36 L570.31,530.46 L570.78,530.56 L571.25,530.66 L571.73,530.75 L572.20,530.85 L572.67,530.95 L573.14,531.04 L573.61,531.14 L574.08,531.23 L574.56,531.33 L575.03,531.42 L575.50,531.51 L575.97,531.61 L576.44,531.70 L576.92,531.79 L577.39,531.88 L577.86,531.98 L578.33,532.07 L578.81,532.16 L579.28,532.25 L579.75,532.34 L580.22,532.43 L580.70,532.51 L581.17,532.60 L581.64,532.69 L582.12,532.78 L582.59,532.86 L583.06,532.95 L583.54,533.04 L584.01,533.12 L584.48,533.21 L584.96,533.29 L585.43,533.38 L585.90,533.46 L586.38,533.55 L586.85,533.63 L587.33,533.71 L587.80,533.80 L588.27,533.88 L588.75,533.96 L589.22,534.04 L589.70,534.12 L590.17,534.20 L590.65,534.28 L591.12,534.36 L591.60,534.44 L592.07,534.52 L592.55,534.60 L593.02,534.68 L593.50,534.76 L593.97,534.83 L594.45,534.91 L594.92,534.99 L595.40,535.06 L595.87,535.14 L596.35,535.22 L596.82,535.29 L597.30,535.37 L597.77,535.44 L598.25,535.51 L598.72,535.59 L599.20,535.66 L599.68,535.74 L600.15,535.81 L600.63,535.88 L601.10,535.95 L601.58,536.02 L602.06,536.10 L602.53,536.17 L603.01,536.24 L603.48,536.31 L603.96,536.38 L604.44,536.45 L604.91,536.52 L605.39,536.59 L605.87,536.66 L606.34,536.72 L606.82,536.79 L607.30,536.86 L607.77,536.93 L608.25,536.99 L608.73,537.06 L609.20,537.13 L609.68,537.19 L610.16,537.26 L610.63,537.33 L611.11,537.39 L611.59,537.46 L612.06,537.52 L612.54,537.58 L613.02,537.65 L613.50,537.71 L613.97,537.78 L614.45,537.84 L614.93,537.90 L615.41,537.96 L615.88,538.03 L616.36,538.09 L616.84,538.15 L617.32,538.21 L617.79,538.27 L618.27,538.33 L618.75,538.39 L619.23,538.45 L619.71,538.51 L620.18,538.57 L620.66,538.63 L621.14,538.69 L621.62,538.75 L622.09,538.81 L622.57,538.87 L623.05,538.93 L623.53,538.99 L624.01,539.04 L624.49,539.10 L624.96,539.16 L625.44,539.21 L625.92,539.27 L626.40,539.33 L626.88,539.38 L627.36,539.44 L627.83,539.49 L628.31,539.55 L628.79,539.60 L629.27,539.66 L629.75,539.71 L630.23,539.77 L630.70,539.82 L631.18,539.88 L631.66,539.93 L632.14,539.98 L632.62,540.04 L633.10,540.09 L633.58,540.14 L634.06,540.20 L634.53,540.25 L635.01,540.30 L635.49,540.35 L635.97,540.40 L636.45,540.46 L636.93,540.51 L637.41,540.56 L637.89,540.61 L638.36,540.66 L638.84,540.71 L639.32,540.76 L639.80,540.81 L640.28,540.86 L640.76,540.91 L641.24,540.96 L641.72,541.01 L642.20,541.06 L642.68,541.11 L643.15,541.15 L643.63,541.20 L644.11,541.25 L644.59,541.30 L645.07,541.35 L645.55,541.40 L646.03,541.44 L646.51,541.49 L646.99,541.54 L647.47,541.59 L647.95,541.63 L648.43,541.68 L648.90,541.73 L649.38,541.77 L649.86,541.82 L650.34,541.86 L650.82,541.91 L651.30,541.96 L651.78,542.00 L652.26,542.05 L652.74,542.09 L653.22,542.14 L653.70,542.18 L654.18,542.23 L654.66,542.27 L655.13,542.32 L655.61,542.36 L656.09,542.40 L656.57,542.45 L657.05,542.49 L657.53,542.53 L658.01,542.58 L658.49,542.62 L658.97,542.66 L659.45,542.71 L659.93,542.75 L660.41,542.79 L660.89,542.83 L661.37,542.88 L661.85,542.92 L662.32,542.96 L662.80,543.00 L663.28,543.04 L663.76,543.08 L664.24,543.13 L664.72,543.17 L665.20,543.21 L665.68,543.25 L666.16,543.29 L666.64,543.33 L667.12,543.37 L667.60,543.41 L668.08,543.45 L668.56,543.49 L669.04,543.53 L669.52,543.57 L670.00,543.61 L670.48,543.64 L670.96,543.68 L671.44,543.72 L671.92,543.76 L672.39,543.80 L672.87,543.84 L673.35,543.87 L673.83,543.91 L674.31,543.95 L674.79,543.99 L675.27,544.02 L675.75,544.06 L676.23,544.10 L676.71,544.14 L677.19,544.17 L677.67,544.21 L678.15,544.24 L678.63,544.28 L679.11,544.32 L679.59,544.35 L680.07,544.39 L680.55,544.42 L681.03,544.46 L681.51,544.49 L681.99,544.53 L682.47,544.56 L682.95,544.60 L683.43,544.63 L683.91,544.67 L684.39,544.70 L684.87,544.74 L685.35,544.77 L685.83,544.80 L686.31,544.84 L686.79,544.87 L687.27,544.90 L687.75,544.94 L688.23,544.97 L688.71,545.00 L689.19,545.03 L689.67,545.07 L690.15,545.10 L690.63,545.13 L691.11,545.16 L691.59,545.19 L692.07,545.23 L692.55,545.26 L693.03,545.29 L693.51,545.32 L693.99,545.35 L694.47,545.38 L694.95,545.41 L695.43,545.44 L695.91,545.47 L696.39,545.50 L696.87,545.53 L697.35,545.56 L697.83,545.59 L698.31,545.62 L698.79,545.65 L699.27,545.68 L699.75,545.71 L700.23,545.74 L700.71,545.77 L701.19,545.79 L701.67,545.82 L702.15,545.85 L702.63,545.88 L703.11,545.91 L703.59,545.93 L704.07,545.96 L704.55,545.99 L705.03,546.02 L705.51,546.04 L705.99,546.07 L706.47,546.10 L706.95,546.12 L707.43,546.15 L707.91,546.18 L708.39,546.20 L708.87,546.23 L709.35,546.26 L709.83,546.28 L710.31,546.31 L710.79,546.33 L711.27,546.36 L711.75,546.38 L712.23,546.41 L712.71,546.43 L713.19,546.46 L713.68,546.48 L714.16,546.50 L714.64,546.53 L715.12,546.55 L715.60,546.58 L716.08,546.60 L716.56,546.62 L717.04,546.65 L717.52,546.67 L718.00,546.69 L718.48,546.72 L718.96,546.74 L719.44,546.76 L719.92,546.78 L720.40,546.81 L720.88,546.83 L721.36,546.85 L721.84,546.87 L722.32,546.89 L722.80,546.92 L723.28,546.94 L723.77,546.96 L724.25,546.98 L724.73,547.00 L725.21,547.02 L725.69,547.04 L726.17,547.06 L726.65,547.08 L727.13,547.10 L727.61,547.12 L728.09,547.14 L728.57,547.16 L729.05,547.18 L729.53,547.20 L730.01,547.22 L730.49,547.24 L730.98,547.26 L731.46,547.28 L731.94,547.30 L732.42,547.31 L732.90,547.33 L733.38,547.35 L733.86,547.37 L734.34,547.39 L734.82,547.41 L735.30,547.42 L735.78,547.44 L736.26,547.46 L736.74,547.47 L737.23,547.49 L737.71,547.51 L738.19,547.53 L738.67,547.54 L739.15,547.56 L739.63,547.57 L740.11,547.59 L740.59,547.61 L741.07,547.62 L741.55,547.64 L742.03,547.65 L742.51,547.67 L743.00,547.68 L743.48,547.70 L743.96,547.71 L744.44,547.73 L744.92,547.74 L745.40,547.76 L745.88,547.77 L746.36,547.79 L746.84,547.80 L747.32,547.82 L747.81,547.83 L748.29,547.84 L748.77,547.86 L749.25,547.87 L749.73,547.88 L750.21,547.90 L750.69,547.91 L751.17,547.92 L751.65,547.93 L752.14,547.95 L752.62,547.96 L753.10,547.97 L753.58,547.98 L754.06,548.00 L754.54,548.01 L755.02,548.02 L755.50,548.03 L755.98,548.04 L756.47,548.05 L756.95,548.06 L757.43,548.08 L757.91,548.09 L758.39,548.10 L758.87,548.11 L759.35,548.12 L759.83,548.13 L760.32,548.14 L760.80,548.15 L761.28,548.16 L761.76,548.17 L762.24,548.18 L762.72,548.19 L763.20,548.20 L763.68,548.21 L764.17,548.21 L764.65,548.22 L765.13,548.23 L765.61,548.24 L766.09,548.25 L766.57,548.26 L767.05,548.26 L767.54,548.27 L768.02,548.28 L768.50,548.29 L768.98,548.30 L769.46,548.30 L769.94,548.31 L770.42,548.32 L770.91,548.33 L771.39,548.33 L771.87,548.34 L772.35,548.35 L772.83,548.35 L773.31,548.36 L773.80,548.36 L774.28,548.37 L774.76,548.38 L775.24,548.38 L775.72,548.39 L776.20,548.39 L776.68,548.40 L777.17,548.40 L777.65,548.41 L778.13,548.41 L778.61,548.42 L779.09,548.42 L779.57,548.43 L780.06,548.43 L780.54,548.44 L781.02,548.44 L781.50,548.44 L781.98,548.45 L782.46,548.45 L782.95,548.46 L783.43,548.46 L783.91,548.46 L784.39,548.47 L784.87,548.47 L785.35,548.47 L785.84,548.48 L786.32,548.48 L786.80,548.48 L787.28,548.48 L787.76,548.49 L788.25,548.49 L788.73,548.49 L789.21,548.49 L789.69,548.49 L790.17,548.49 L790.65,548.50 L791.14,548.50 L791.62,548.50 L792.10,548.50" stroke="#0000FF" stroke-dasharray="7 6.8 1.4 6.8 1.4 7"/>
</g>
<text transform="translate(128.40,576.10) scale(1.0,1.0)" font-size="19.5" text-anchor="middle" font-weight="normal" >-10</text>
<text transform="translate(211.36,576.10) scale(1.0,1.0)" font-size="19.5" text-anchor="middle" font-weight="normal" >0</text>
<text transform="translate(294.33,576.10) scale(1.0,1.0)" font-size="19.5" text-anchor="middle" font-weight="normal" >10</text>
<text transform="translate(377.29,576.10) scale(1.0,1.0)" font-size="19.5" text-anchor="middle" font-weight="normal" >20</text>
<text transform="translate(460.25,576.10) scale(1.0,1.0)" font-size="19.5" text-anchor="middle" font-weight="normal" >30</text>
<text transform="translate(543.21,576.10) scale(1.0,1.0)" font-size="19.5" text-anchor="middle" font-weight="normal" >40</text>
<text transform="translate(626.18,576.10) scale(1.0,1.0)" font-size="19.5" text-anchor="middle" font-weight="normal" >50</text>
<text transform="translate(709.14,576.10) scale(1.0,1.0)" font-size="19.5" text-anchor="middle" font-weight="normal" >60</text>
<text transform="translate(792.10,576.10) scale(1.0,1.0)" font-size="19.5" text-anchor="middle" font-weight="normal" >70</text>
<text transform="translate(118.30,556.65) scale(1.0,1.0)" font-size="19.5" text-anchor="end" font-weight="normal" >0,00</text>
<text transform="translate(118.30,387.23) scale(1.0,1.0)" font-size="19.5" text-anchor="end" font-weight="normal" >0,04</text>
<text transform="translate(118.30,217.82) scale(1.0,1.0)" font-size="19.5" text-anchor="end" font-weight="normal" >0,08</text>
<text transform="translate(118.30,48.40) scale(1.0,1.0)" font-size="19.5" text-anchor="end" font-weight="normal" >0,12</text>
<text transform="translate(54.2,307.7) rotate(-90)" font-size="23.5">PDF</text>
<text transform="translate(404.90,611.60) scale(1.0,1.02)" font-size="23.5" text-anchor="start" font-weight="normal" >L</text>
<text transform="translate(418.50,619.90) scale(1.0,1.02)" font-size="14.3" text-anchor="start" font-weight="normal" >sym</text>
<text transform="translate(451.20,611.60) scale(1.0,1.02)" font-size="23" text-anchor="start" font-weight="normal" >(MeV)</text>
<text transform="translate(139.10,71.90) scale(1.0,1.0)" font-size="23" text-anchor="start" font-weight="normal" >(b)</text>
<text transform="translate(681.40,275.70) scale(1.0,1.02)" font-size="19.5" text-anchor="start" font-weight="bold" >Prior set #2</text>
<line x1="429.7" y1="58.46" x2="478.4" y2="58.46" stroke="#FF0000" stroke-width="2.7" stroke-linecap="round" />
<text transform="translate(483.86,65.40) scale(1.0,1.05)" font-size="22">TD-LVC-2018<tspan dy="1.6">+</tspan></text>
<text transform="translate(632.00,65.20) scale(1.12,1.05)" font-size="22.1" class="sy">χ</text>
<text transform="translate(643.26,65.40) scale(1.0,1.05)" font-size="22" textLength="103.74" lengthAdjust="spacing">EFT<tspan dy="1.6">+</tspan><tspan dy="-1.6">GMR</tspan></text>
<line x1="429.7" y1="87.6" x2="478.4" y2="87.6" stroke="#FF0000" stroke-width="2.7" stroke-linecap="round" stroke-dasharray="8.3 11.55"/>
<text transform="translate(483.81,94.80) scale(1.0,1.05)" font-size="22">TD-De-2018<tspan dy="1.6">+</tspan></text>
<text transform="translate(617.30,94.60) scale(1.12,1.05)" font-size="22.1" class="sy">χ</text>
<text transform="translate(629.20,94.80) scale(1.0,1.05)" font-size="22" textLength="103.30" lengthAdjust="spacing">EFT<tspan dy="1.6">+</tspan><tspan dy="-1.6">GMR</tspan></text>
<line x1="429.7" y1="116.9" x2="478.4" y2="116.9" stroke="#FF0000" stroke-width="2.7" stroke-linecap="round" stroke-dasharray="7 6.8 1.4 6.8 1.4 7"/>
<text transform="translate(483.81,123.60) scale(1.0,1.05)" font-size="22">TD-Coughlin-2019<tspan dy="1.6">+</tspan></text>
<text transform="translate(675.40,123.40) scale(1.12,1.05)" font-size="22.1" class="sy">χ</text>
<text transform="translate(688.10,123.60) scale(1.0,1.05)" font-size="22" textLength="103.50" lengthAdjust="spacing">EFT<tspan dy="1.6">+</tspan><tspan dy="-1.6">GMR</tspan></text>
<line x1="429.7" y1="143.4" x2="478.4" y2="143.4" stroke="#0000FF" stroke-width="2.7" stroke-linecap="round" />
<text transform="translate(483.86,150.60) scale(1.0,1.05)" font-size="22">TD-LVC-2018</text>
<line x1="429.7" y1="169.9" x2="478.4" y2="169.9" stroke="#0000FF" stroke-width="2.7" stroke-linecap="round" stroke-dasharray="8.3 11.55"/>
<text transform="translate(483.86,177.00) scale(1.0,1.05)" font-size="22">TD-De-2018</text>
<line x1="429.7" y1="196.6" x2="478.4" y2="196.6" stroke="#0000FF" stroke-width="2.7" stroke-linecap="round" stroke-dasharray="7 6.8 1.4 6.8 1.4 7"/>
<text transform="translate(483.86,203.70) scale(1.0,1.05)" font-size="22">TD-Coughlin-2019</text>
<line x1="429.7" y1="225.4" x2="478.4" y2="225.4" stroke="#FF8000" stroke-width="2.7" stroke-linecap="round" />
<text transform="translate(484.20,232.70) scale(1.12,1.05)" font-size="22.1" class="sy">χ</text>
<text transform="translate(496.10,232.90) scale(1.0,1.05)" font-size="22">EFT</text>
<line x1="429.7" y1="252.4" x2="478.4" y2="252.4" stroke="#8000FF" stroke-opacity="0.5" stroke-width="2.7" stroke-linecap="round" stroke-dasharray="8.3 11.55"/>
<text transform="translate(484.00,259.60) scale(1.0,1.05)" font-size="22" textLength="50.10" lengthAdjust="spacing">GMR</text>
</svg></body></html>
